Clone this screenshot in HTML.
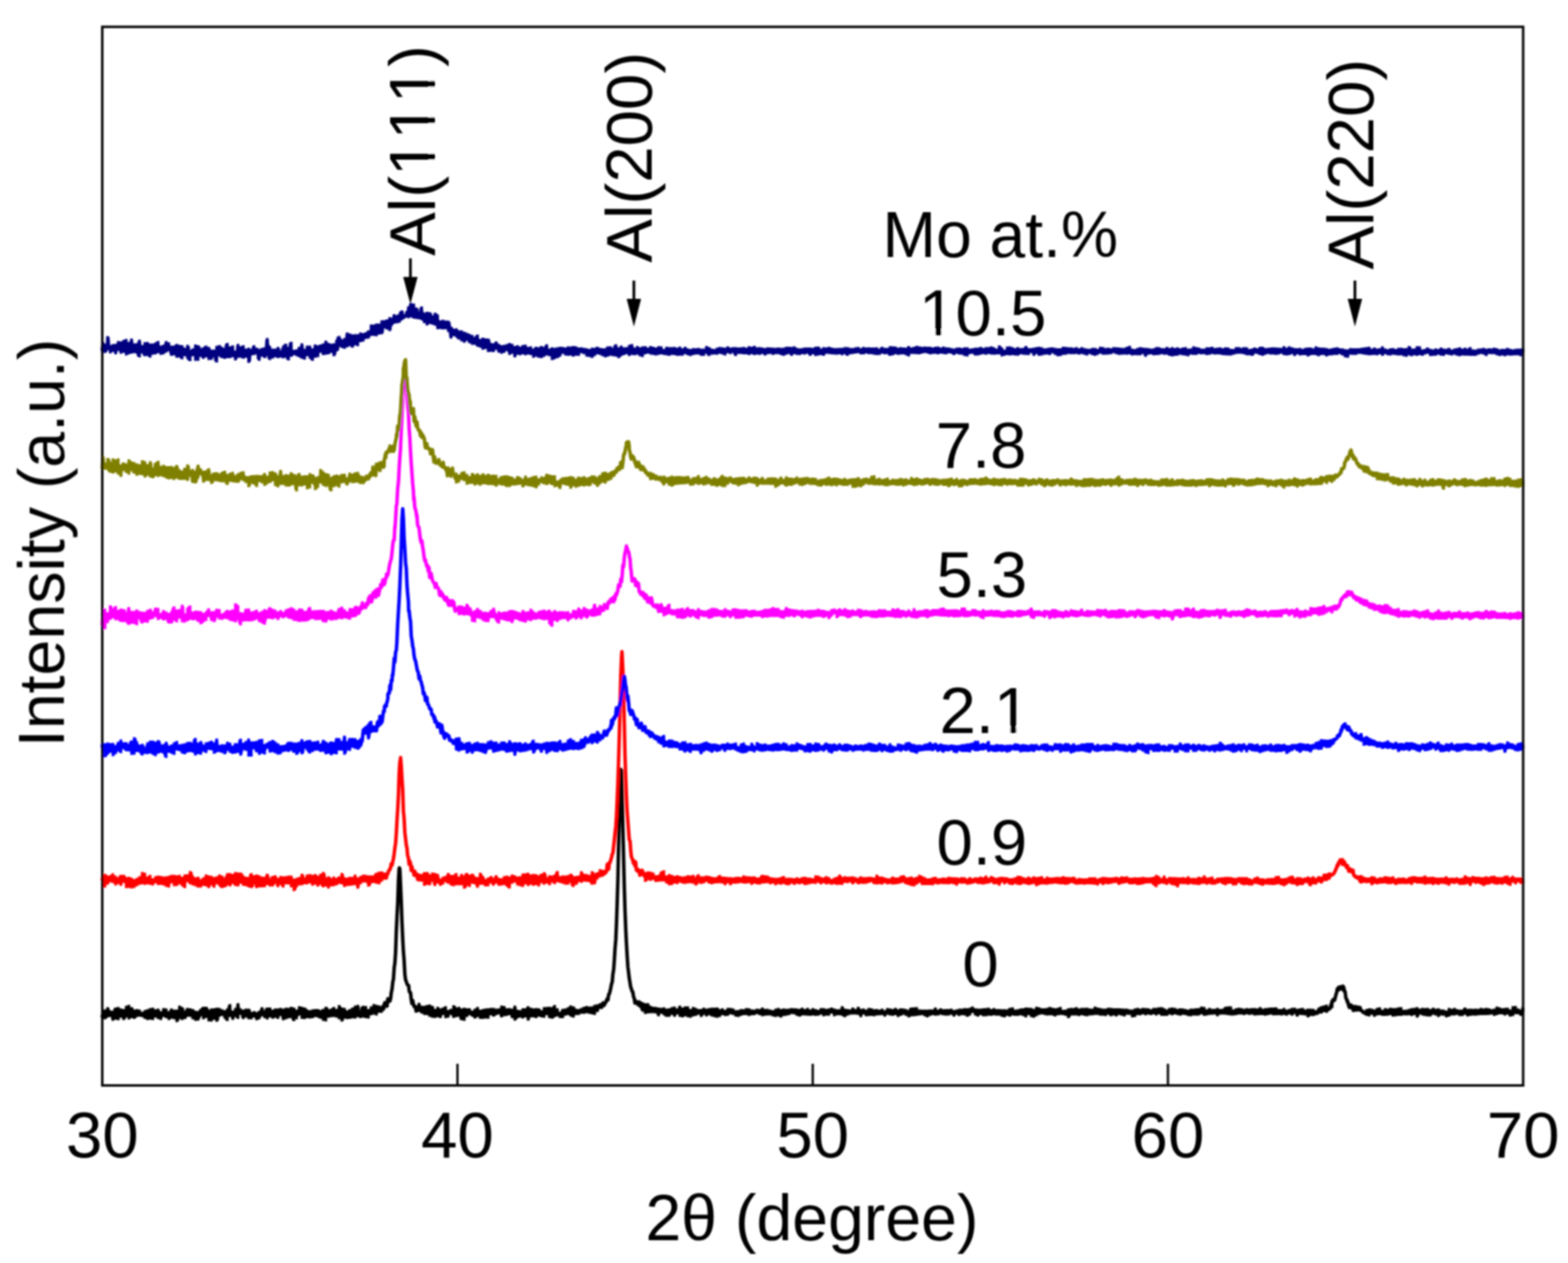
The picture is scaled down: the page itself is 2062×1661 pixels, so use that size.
<!DOCTYPE html>
<html><head><meta charset="utf-8"><title>XRD patterns</title>
<style>html,body{margin:0;padding:0;background:#fff;overflow:hidden}svg{display:block}</style>
</head><body>
<svg width="2062" height="1661" viewBox="0 0 2062 1661"><defs><filter id="bl" filterUnits="userSpaceOnUse" x="0" y="0" width="2062" height="1661"><feGaussianBlur stdDeviation="0.8"/></filter></defs><rect width="2062" height="1661" fill="#fff"/><g filter="url(#bl)"><g fill="none" stroke-width="3.55" stroke-linecap="butt"><path stroke="#000000" stroke-width="4.6" stroke-linejoin="round" stroke-linecap="round" d="M134.5,1336.7 135.4,1333.0 136.4,1335.5 137.3,1335.3 138.2,1330.6 139.2,1337.5 140.1,1333.4 141.0,1330.7 142.0,1327.5 142.9,1330.7 143.8,1334.5 144.8,1333.0 145.7,1332.7 146.6,1333.6 147.6,1332.2 148.5,1339.4 149.4,1333.8 150.4,1336.9 151.3,1328.0 152.2,1335.6 153.2,1336.7 154.1,1338.7 155.0,1327.2 156.0,1331.5 156.9,1332.1 157.8,1335.4 158.8,1332.2 159.7,1332.1 160.7,1329.3 161.6,1336.4 162.5,1335.6 163.5,1338.5 164.4,1330.3 165.3,1334.9 166.3,1332.7 167.2,1327.5 168.1,1324.5 169.1,1325.6 170.0,1337.7 170.9,1329.7 171.9,1334.8 172.8,1336.1 173.7,1327.5 174.7,1334.8 175.6,1336.4 176.5,1330.7 177.5,1337.1 178.4,1334.0 179.3,1331.0 180.3,1333.0 181.2,1330.1 182.1,1331.3 183.1,1332.7 184.0,1333.4 184.9,1334.0 185.9,1334.1 186.8,1333.6 187.7,1334.7 188.7,1333.6 189.6,1333.7 190.5,1336.7 191.5,1336.9 192.4,1330.2 193.3,1332.9 194.3,1338.4 195.2,1336.8 196.1,1333.2 197.1,1335.2 198.0,1328.7 198.9,1337.8 199.9,1338.5 200.8,1328.3 201.7,1332.7 202.7,1334.4 203.6,1333.5 204.5,1330.8 205.5,1335.2 206.4,1329.4 207.4,1335.8 208.3,1337.2 209.2,1330.9 210.2,1336.7 211.1,1338.5 212.0,1336.5 213.0,1335.3 213.9,1331.6 214.8,1332.1 215.8,1334.1 216.7,1328.8 217.6,1336.0 218.6,1335.7 219.5,1332.7 220.4,1336.8 221.4,1332.8 222.3,1332.9 223.2,1338.4 224.2,1333.7 225.1,1329.3 226.0,1334.8 227.0,1336.4 227.9,1331.3 228.8,1337.5 229.8,1334.6 230.7,1330.7 231.6,1331.9 232.6,1332.8 233.5,1341.3 234.4,1330.2 235.4,1333.5 236.3,1329.8 237.2,1325.4 238.2,1338.4 239.1,1336.0 240.0,1327.4 241.0,1335.2 241.9,1336.3 242.8,1333.3 243.8,1337.3 244.7,1333.7 245.6,1329.0 246.6,1328.4 247.5,1332.2 248.4,1334.3 249.4,1329.8 250.3,1333.1 251.2,1329.0 252.2,1335.4 253.1,1333.2 254.1,1330.1 255.0,1337.5 255.9,1337.8 256.9,1332.2 257.8,1336.9 258.7,1339.4 259.7,1335.4 260.6,1334.6 261.5,1338.0 262.5,1331.3 263.4,1329.8 264.3,1331.9 265.3,1333.6 266.2,1327.1 267.1,1332.2 268.1,1337.4 269.0,1334.4 269.9,1335.7 270.9,1330.3 271.8,1326.9 272.7,1331.0 273.7,1334.7 274.6,1330.7 275.5,1338.9 276.5,1340.6 277.4,1337.4 278.3,1338.0 279.3,1329.3 280.2,1334.9 281.1,1338.3 282.1,1334.4 283.0,1329.1 283.9,1328.3 284.9,1331.9 285.8,1340.8 286.7,1334.1 287.7,1328.4 288.6,1330.6 289.5,1331.2 290.5,1332.2 291.4,1330.2 292.3,1333.3 293.3,1331.6 294.2,1331.4 295.1,1331.5 296.1,1333.4 297.0,1335.3 297.9,1339.8 298.9,1329.3 299.8,1330.2 300.8,1333.8 301.7,1323.6 302.6,1334.6 303.6,1333.8 304.5,1334.0 305.4,1336.1 306.4,1338.3 307.3,1331.9 308.2,1334.0 309.2,1332.3 310.1,1328.6 311.0,1333.2 312.0,1337.0 312.9,1322.3 313.8,1332.8 314.8,1330.3 315.7,1331.5 316.6,1329.2 317.6,1331.2 318.5,1330.9 319.4,1337.3 320.4,1334.5 321.3,1334.9 322.2,1329.4 323.2,1332.8 324.1,1333.2 325.0,1335.3 326.0,1331.8 326.9,1333.5 327.8,1329.5 328.8,1337.6 329.7,1334.0 330.6,1335.6 331.6,1336.2 332.5,1334.6 333.4,1334.0 334.4,1334.6 335.3,1332.7 336.2,1336.5 337.2,1338.1 338.1,1335.0 339.0,1338.8 340.0,1332.3 340.9,1333.9 341.8,1335.9 342.8,1332.0 343.7,1329.9 344.6,1327.4 345.6,1332.1 346.5,1334.2 347.5,1334.7 348.4,1332.7 349.3,1336.0 350.3,1328.0 351.2,1337.8 352.1,1331.3 353.1,1334.6 354.0,1335.1 354.9,1328.0 355.9,1334.5 356.8,1334.7 357.7,1334.2 358.7,1331.0 359.6,1336.7 360.5,1329.6 361.5,1335.5 362.4,1333.5 363.3,1329.3 364.3,1329.4 365.2,1336.9 366.1,1331.8 367.1,1330.9 368.0,1328.4 368.9,1333.3 369.9,1331.9 370.8,1329.4 371.7,1334.1 372.7,1338.8 373.6,1337.8 374.5,1335.3 375.5,1337.5 376.4,1328.9 377.3,1328.2 378.3,1328.6 379.2,1336.3 380.1,1335.9 381.1,1329.4 382.0,1333.5 382.9,1326.9 383.9,1335.7 384.8,1328.1 385.7,1340.0 386.7,1330.2 387.6,1329.2 388.5,1337.5 389.5,1334.5 390.4,1331.0 391.3,1334.5 392.3,1329.7 393.2,1330.1 394.2,1326.2 395.1,1329.1 396.0,1327.1 397.0,1331.5 397.9,1332.9 398.8,1337.2 399.8,1332.8 400.7,1334.3 401.6,1328.1 402.6,1335.9 403.5,1330.7 404.4,1330.9 405.4,1334.7 406.3,1333.4 407.2,1336.4 408.2,1334.1 409.1,1331.4 410.0,1332.2 411.0,1335.1 411.9,1336.1 412.8,1330.1 413.8,1331.7 414.7,1334.6 415.6,1332.3 416.6,1330.7 417.5,1334.9 418.4,1329.9 419.4,1334.3 420.3,1336.8 421.2,1333.1 422.2,1331.2 423.1,1336.7 424.0,1333.8 425.0,1329.7 425.9,1331.6 426.8,1340.3 427.8,1330.3 428.7,1333.0 429.6,1326.9 430.6,1332.5 431.5,1333.5 432.4,1335.5 433.4,1330.3 434.3,1332.0 435.2,1334.0 436.2,1334.7 437.1,1330.0 438.0,1327.3 439.0,1334.5 439.9,1331.0 440.9,1331.1 441.8,1329.7 442.7,1335.3 443.7,1333.7 444.6,1334.1 445.5,1335.9 446.5,1324.7 447.4,1337.5 448.3,1332.6 449.3,1335.6 450.2,1340.5 451.1,1328.1 452.1,1331.9 453.0,1330.2 453.9,1330.3 454.9,1337.2 455.8,1335.7 456.7,1331.7 457.7,1332.9 458.6,1336.1 459.5,1337.0 460.5,1330.0 461.4,1332.9 462.3,1336.2 463.3,1331.6 464.2,1331.5 465.1,1327.9 466.1,1336.5 467.0,1330.5 467.9,1325.6 468.9,1333.6 469.8,1334.7 470.7,1324.4 471.7,1333.8 472.6,1331.7 473.5,1332.4 474.5,1332.5 475.4,1335.9 476.3,1325.7 477.3,1332.2 478.2,1335.3 479.1,1325.7 480.1,1329.8 481.0,1330.0 481.9,1335.9 482.9,1330.5 483.8,1336.5 484.7,1330.1 485.7,1330.6 486.6,1332.3 487.6,1330.9 488.5,1326.6 489.4,1331.9 490.4,1329.8 491.3,1330.5 492.2,1328.5 493.2,1323.6 494.1,1332.4 495.0,1327.2 496.0,1325.0 496.9,1328.2 497.8,1328.0 498.8,1325.2 499.7,1329.1 500.0,1325.7 500.6,1328.7 501.6,1329.8 502.5,1326.5 503.4,1323.8 504.4,1327.0 505.3,1320.6 506.2,1318.6 507.2,1322.8 508.1,1318.8 509.0,1323.3 510.0,1313.6 510.9,1315.2 511.8,1315.3 512.8,1316.5 513.7,1313.0 514.6,1305.3 515.6,1300.6 516.5,1291.8 517.4,1287.8 518.4,1272.5 519.3,1266.6 520.2,1253.0 521.2,1224.2 522.1,1204.8 523.0,1188.3 524.0,1158.0 524.9,1142.1 525.3,1141.4 525.8,1143.2 526.8,1165.3 527.7,1186.7 528.6,1212.6 529.6,1234.5 530.5,1251.5 531.4,1262.4 532.4,1281.1 533.3,1288.2 534.3,1291.0 535.2,1293.7 536.1,1295.5 537.1,1295.7 537.5,1296.6 538.0,1302.6 538.9,1305.4 539.9,1305.6 540.8,1314.4 541.7,1319.8 542.7,1315.8 543.6,1320.2 544.5,1323.7 545.5,1323.2 546.4,1325.5 547.3,1329.7 548.3,1324.7 549.2,1328.1 550.1,1327.0 551.1,1321.7 552.0,1327.8 552.9,1326.5 553.9,1328.4 554.8,1325.7 555.7,1329.9 556.7,1325.8 557.6,1329.9 558.5,1331.8 559.5,1330.6 560.0,1324.7 560.4,1332.0 561.3,1328.5 562.3,1326.2 563.2,1329.6 564.1,1324.1 565.1,1332.0 566.0,1333.8 566.9,1334.3 567.9,1330.8 568.8,1325.8 569.7,1335.6 570.7,1333.0 571.6,1330.1 572.5,1332.6 573.5,1335.7 574.4,1332.4 575.3,1329.1 576.3,1327.0 577.2,1329.9 578.1,1330.5 579.1,1336.0 580.0,1332.3 581.0,1328.6 581.9,1328.4 582.8,1331.8 583.8,1329.7 584.7,1326.3 585.6,1330.7 586.6,1333.4 587.5,1336.1 588.4,1333.4 589.4,1333.4 590.3,1331.3 591.2,1331.6 592.2,1329.7 593.1,1331.7 594.0,1330.5 595.0,1329.5 595.9,1334.4 596.8,1335.8 597.8,1325.0 598.7,1331.4 599.6,1332.2 600.6,1332.0 601.5,1334.7 602.4,1332.5 603.4,1327.1 604.3,1329.3 605.2,1329.2 606.2,1338.8 607.1,1333.6 608.0,1334.1 609.0,1328.6 609.9,1339.5 610.8,1330.9 611.8,1328.3 612.7,1331.0 613.6,1334.5 614.6,1331.1 615.5,1328.9 616.4,1329.8 617.4,1330.2 618.3,1331.4 619.2,1332.3 620.2,1331.9 621.1,1334.1 622.0,1332.0 623.0,1334.4 623.9,1336.2 624.8,1329.6 625.8,1336.4 626.7,1332.2 627.7,1327.3 628.6,1331.9 629.5,1329.7 630.5,1335.3 631.4,1334.5 632.3,1331.2 633.3,1337.1 634.2,1334.9 635.1,1331.1 636.1,1330.0 637.0,1336.6 637.9,1332.0 638.9,1336.6 639.8,1329.2 640.7,1336.8 641.7,1332.0 642.6,1332.5 643.5,1328.9 644.5,1330.8 645.4,1328.4 646.3,1332.2 647.3,1328.5 648.2,1333.5 649.1,1333.4 650.1,1334.1 651.0,1329.6 651.9,1329.8 652.9,1331.7 653.8,1332.1 654.7,1329.6 655.7,1329.2 656.6,1330.8 657.5,1329.9 658.5,1328.0 659.4,1335.1 660.3,1325.4 661.3,1333.6 662.2,1325.9 663.1,1333.0 664.1,1332.9 665.0,1332.3 665.9,1329.1 666.9,1330.7 667.8,1332.9 668.7,1328.8 669.7,1330.2 670.6,1332.0 671.5,1331.7 672.5,1332.3 673.4,1335.2 674.4,1336.0 675.3,1329.3 676.2,1330.0 677.2,1325.4 678.1,1339.2 679.0,1334.8 680.0,1333.2 680.9,1333.3 681.8,1330.9 682.8,1332.0 683.7,1335.2 684.6,1332.4 685.6,1334.5 686.5,1332.7 687.4,1336.4 688.4,1329.8 689.3,1328.9 690.2,1329.7 691.2,1331.8 692.1,1335.0 693.0,1334.8 694.0,1326.3 694.9,1339.3 695.8,1330.6 696.8,1332.8 697.7,1332.6 698.6,1335.0 699.6,1328.3 700.5,1335.0 701.4,1329.2 702.4,1330.3 703.3,1335.2 704.2,1336.0 705.2,1328.8 706.1,1329.1 707.0,1331.4 708.0,1334.1 708.9,1329.0 709.8,1331.7 710.8,1332.2 711.7,1331.5 712.6,1332.0 713.6,1334.9 714.5,1335.6 715.4,1333.9 716.4,1331.8 717.3,1327.3 718.2,1332.0 719.2,1331.8 720.1,1328.1 721.1,1331.9 722.0,1331.8 722.9,1336.0 723.9,1326.9 724.8,1329.0 725.7,1334.4 726.7,1332.9 727.6,1336.7 728.5,1324.7 729.5,1332.4 730.4,1329.6 731.3,1328.9 732.3,1330.4 733.2,1332.7 734.1,1333.1 735.1,1334.0 736.0,1333.9 736.9,1336.0 737.9,1333.5 738.8,1335.9 739.7,1329.8 740.7,1331.9 741.6,1333.4 742.5,1329.3 743.5,1331.2 744.4,1330.8 745.3,1331.5 746.3,1328.6 747.2,1331.9 748.1,1329.1 749.1,1327.1 750.0,1325.3 750.9,1332.9 751.9,1333.0 752.8,1335.3 753.7,1333.0 754.7,1326.6 755.6,1329.9 756.5,1332.1 757.5,1329.8 758.4,1332.1 759.3,1330.4 760.3,1329.9 761.2,1331.7 762.1,1330.9 763.1,1329.6 764.0,1330.3 764.9,1330.3 765.9,1328.4 766.8,1329.9 767.8,1328.4 768.7,1326.9 769.6,1330.3 770.6,1325.9 771.5,1329.1 772.4,1328.3 773.4,1326.8 774.3,1328.1 775.2,1330.2 776.2,1330.2 777.1,1326.5 778.0,1326.8 779.0,1330.3 779.9,1327.6 780.0,1330.5 780.8,1331.8 781.8,1326.9 782.7,1324.4 783.6,1327.9 784.6,1323.7 785.5,1328.1 786.4,1325.1 787.4,1325.0 788.3,1323.2 789.2,1321.5 790.2,1322.3 791.1,1324.9 792.0,1321.2 793.0,1318.8 793.9,1322.4 794.8,1321.5 795.8,1319.2 796.7,1318.2 797.6,1315.3 798.6,1313.5 799.5,1315.1 800.4,1307.8 801.4,1307.0 802.3,1303.4 803.2,1299.2 804.2,1293.8 805.1,1291.6 806.0,1281.1 807.0,1275.1 807.9,1262.6 808.8,1247.4 809.8,1235.9 810.7,1214.8 811.6,1188.0 812.6,1155.2 813.5,1110.2 814.5,1069.8 815.4,1033.2 816.3,1018.4 816.6,1011.8 817.3,1013.4 818.2,1048.5 819.1,1089.0 820.1,1130.3 821.0,1166.9 821.9,1196.5 822.9,1222.3 823.8,1240.7 824.7,1256.2 825.7,1271.5 826.6,1278.6 827.5,1286.5 828.5,1292.3 829.4,1298.1 830.3,1300.3 831.3,1303.9 832.2,1304.7 833.1,1310.6 834.1,1313.2 835.0,1319.2 835.9,1316.4 836.9,1317.3 837.8,1317.9 838.7,1320.8 839.7,1319.3 840.6,1317.7 841.5,1323.0 842.5,1321.8 843.4,1319.4 844.3,1326.8 845.3,1328.4 846.2,1320.7 847.1,1323.9 848.1,1326.1 849.0,1324.7 849.9,1323.8 850.0,1330.4 850.9,1322.2 851.8,1327.2 852.7,1323.2 853.7,1329.8 854.6,1325.7 855.5,1329.5 856.5,1327.1 857.4,1328.0 858.3,1327.1 859.3,1328.6 860.2,1329.6 861.2,1327.2 862.1,1328.0 863.0,1329.7 864.0,1328.0 864.9,1330.1 865.8,1333.6 866.8,1328.1 867.7,1328.9 868.6,1328.6 869.6,1328.9 870.5,1329.3 871.4,1330.6 872.4,1328.9 873.3,1327.8 874.2,1329.4 875.2,1334.3 876.1,1331.7 877.0,1330.8 878.0,1329.4 878.9,1330.6 879.8,1334.2 880.8,1328.9 881.7,1329.2 882.6,1329.9 883.6,1331.8 884.5,1329.8 885.4,1326.8 886.4,1331.1 887.3,1334.3 888.2,1332.4 889.2,1329.3 890.1,1331.1 891.0,1330.4 892.0,1329.6 892.9,1330.8 893.8,1325.5 894.8,1334.2 895.7,1327.9 896.6,1335.0 897.6,1327.9 898.5,1334.9 899.4,1332.3 900.4,1333.4 901.3,1326.4 902.2,1331.0 903.2,1327.0 904.1,1326.6 905.0,1334.8 906.0,1331.1 906.9,1335.6 907.9,1329.9 908.8,1331.1 909.7,1333.9 910.7,1330.7 911.6,1330.1 912.5,1327.2 913.5,1330.4 914.4,1328.4 915.3,1333.1 916.3,1329.9 917.2,1331.4 918.1,1331.6 919.1,1330.6 920.0,1330.1 920.9,1329.9 921.9,1332.3 922.8,1334.4 923.7,1331.7 924.7,1328.3 925.6,1328.2 926.5,1330.1 927.5,1329.5 928.4,1330.6 929.3,1333.8 930.3,1332.3 931.2,1332.1 932.1,1331.3 933.1,1328.8 934.0,1331.8 934.9,1331.5 935.9,1333.8 936.8,1329.3 937.7,1328.2 938.7,1331.1 939.6,1330.6 940.5,1332.3 941.5,1335.4 942.4,1330.9 943.3,1330.6 944.3,1328.1 945.2,1334.5 946.1,1330.9 947.1,1330.8 948.0,1333.1 948.9,1329.0 949.9,1331.2 950.8,1330.2 951.7,1331.6 952.7,1330.9 953.6,1333.2 954.6,1333.1 955.5,1332.8 956.4,1332.8 957.4,1329.8 958.3,1328.5 959.2,1330.9 960.2,1328.5 961.1,1330.0 962.0,1329.0 963.0,1330.4 963.9,1331.6 964.8,1330.1 965.8,1331.7 966.7,1332.5 967.6,1331.6 968.6,1332.0 969.5,1334.6 970.4,1331.8 971.4,1332.9 972.3,1331.2 973.2,1332.9 974.2,1332.7 975.1,1330.9 976.0,1330.1 977.0,1330.6 977.9,1330.2 978.8,1332.0 979.8,1331.2 980.7,1332.0 981.6,1328.8 982.6,1331.5 983.5,1329.0 984.4,1333.2 985.4,1331.4 986.3,1330.5 987.2,1331.2 988.2,1330.9 989.1,1330.5 990.0,1332.2 991.0,1331.2 991.9,1331.7 992.8,1331.0 993.8,1330.8 994.7,1330.0 995.6,1329.5 996.6,1329.7 997.5,1330.2 998.4,1331.0 999.4,1330.0 1000.3,1331.9 1001.3,1329.8 1002.2,1328.1 1003.1,1332.5 1004.1,1333.4 1005.0,1330.2 1005.9,1332.6 1006.9,1329.9 1007.8,1329.8 1008.7,1330.5 1009.7,1332.6 1010.6,1330.8 1011.5,1330.8 1012.5,1331.2 1013.4,1331.6 1014.3,1332.4 1015.3,1331.6 1016.2,1332.4 1017.1,1333.7 1018.1,1333.7 1019.0,1334.4 1019.9,1331.4 1020.9,1333.4 1021.8,1329.3 1022.7,1332.5 1023.7,1328.5 1024.6,1329.8 1025.5,1335.2 1026.5,1332.3 1027.4,1330.1 1028.3,1331.9 1029.3,1330.7 1030.2,1333.2 1031.1,1329.2 1032.1,1333.3 1033.0,1329.8 1033.9,1331.4 1034.9,1332.1 1035.8,1330.7 1036.7,1331.2 1037.7,1331.9 1038.6,1331.4 1039.5,1328.7 1040.5,1329.9 1041.4,1329.8 1042.3,1330.5 1043.3,1329.1 1044.2,1330.8 1045.1,1331.1 1046.1,1329.8 1047.0,1331.4 1048.0,1329.3 1048.9,1329.9 1049.8,1333.4 1050.8,1332.2 1051.7,1330.9 1052.6,1334.0 1053.6,1328.2 1054.5,1330.7 1055.4,1330.7 1056.4,1332.3 1057.3,1330.0 1058.2,1332.5 1059.2,1331.0 1060.1,1330.2 1061.0,1331.3 1062.0,1328.5 1062.9,1331.1 1063.8,1333.0 1064.8,1330.5 1065.7,1330.8 1066.6,1331.1 1067.6,1331.4 1068.5,1332.4 1069.4,1328.8 1070.4,1329.5 1071.3,1330.5 1072.2,1332.9 1073.2,1332.1 1074.1,1333.0 1075.0,1331.3 1076.0,1332.3 1076.9,1332.6 1077.8,1330.9 1078.8,1331.2 1079.7,1329.8 1080.6,1328.7 1081.6,1328.7 1082.5,1330.5 1083.4,1333.5 1084.4,1331.3 1085.3,1332.8 1086.2,1332.5 1087.2,1329.8 1088.1,1331.5 1089.0,1332.7 1090.0,1331.3 1090.9,1331.3 1091.8,1328.9 1092.8,1330.0 1093.7,1328.1 1094.7,1329.8 1095.6,1329.3 1096.5,1331.3 1097.5,1331.6 1098.4,1333.4 1099.3,1330.3 1100.3,1331.7 1101.2,1331.2 1102.1,1332.0 1103.1,1330.2 1104.0,1332.3 1104.9,1331.0 1105.9,1332.0 1106.8,1332.0 1107.7,1326.2 1108.7,1329.3 1109.6,1334.8 1110.5,1330.4 1111.5,1329.4 1112.4,1333.7 1113.3,1330.1 1114.3,1332.7 1115.2,1332.2 1116.1,1331.6 1117.1,1331.1 1118.0,1330.6 1118.9,1330.8 1119.9,1330.9 1120.8,1329.5 1121.7,1327.9 1122.7,1331.3 1123.6,1330.1 1124.5,1330.7 1125.5,1331.1 1126.4,1331.2 1127.3,1331.1 1128.3,1328.5 1129.2,1327.1 1130.1,1331.8 1131.1,1329.9 1132.0,1334.8 1132.9,1332.3 1133.9,1330.5 1134.8,1330.2 1135.7,1329.2 1136.7,1331.0 1137.6,1330.8 1138.5,1333.2 1139.5,1331.2 1140.4,1333.6 1141.4,1332.6 1142.3,1329.6 1143.2,1331.5 1144.2,1328.6 1145.1,1333.0 1146.0,1330.8 1147.0,1331.2 1147.9,1330.9 1148.8,1333.5 1149.8,1333.0 1150.7,1330.6 1151.6,1330.0 1152.6,1331.5 1153.5,1330.9 1154.4,1332.4 1155.4,1331.7 1156.3,1332.0 1157.2,1331.0 1158.2,1330.7 1159.1,1330.5 1160.0,1329.4 1161.0,1331.5 1161.9,1332.1 1162.8,1332.1 1163.8,1333.9 1164.7,1332.1 1165.6,1331.2 1166.6,1330.2 1167.5,1328.8 1168.4,1328.8 1169.4,1330.1 1170.3,1332.5 1171.2,1329.2 1172.2,1329.7 1173.1,1332.4 1174.0,1332.9 1175.0,1331.7 1175.9,1332.0 1176.8,1328.6 1177.8,1331.7 1178.7,1328.6 1179.6,1332.7 1180.6,1331.7 1181.5,1334.4 1182.4,1332.0 1183.4,1328.9 1184.3,1329.1 1185.2,1333.1 1186.2,1331.4 1187.1,1330.5 1188.1,1331.4 1189.0,1329.3 1189.9,1330.9 1190.9,1330.1 1191.8,1330.2 1192.7,1333.0 1193.7,1331.8 1194.6,1333.0 1195.5,1331.6 1196.5,1335.0 1197.4,1327.9 1198.3,1330.8 1199.3,1333.5 1200.2,1331.7 1201.1,1333.5 1202.1,1331.1 1203.0,1328.9 1203.9,1327.4 1204.9,1332.9 1205.8,1331.3 1206.7,1332.4 1207.7,1332.6 1208.6,1330.7 1209.5,1330.4 1210.5,1331.7 1211.4,1332.0 1212.3,1331.6 1213.3,1330.7 1214.2,1330.9 1215.1,1330.8 1216.1,1331.0 1217.0,1333.4 1217.9,1330.9 1218.9,1335.1 1219.8,1330.7 1220.7,1334.1 1221.7,1332.7 1222.6,1330.4 1223.5,1331.8 1224.5,1332.1 1225.4,1331.7 1226.3,1331.3 1227.3,1330.8 1228.2,1330.5 1229.1,1329.5 1230.1,1328.1 1231.0,1332.8 1231.9,1332.4 1232.9,1331.4 1233.8,1332.3 1234.8,1330.7 1235.7,1331.0 1236.6,1329.1 1237.6,1331.4 1238.5,1329.6 1239.4,1332.2 1240.4,1332.1 1241.3,1330.9 1242.2,1331.3 1243.2,1332.7 1244.1,1330.9 1245.0,1330.0 1246.0,1332.4 1246.9,1331.8 1247.8,1330.1 1248.8,1331.3 1249.7,1329.5 1250.6,1330.0 1251.6,1331.6 1252.5,1331.0 1253.4,1331.8 1254.4,1334.1 1255.3,1331.3 1256.2,1331.4 1257.2,1331.5 1258.1,1331.5 1259.0,1330.5 1260.0,1331.8 1260.9,1333.3 1261.8,1332.7 1262.8,1329.5 1263.7,1331.4 1264.6,1329.5 1265.6,1329.9 1266.5,1331.9 1267.4,1331.2 1268.4,1332.4 1269.3,1328.7 1270.2,1331.8 1271.2,1329.1 1272.1,1329.7 1273.0,1334.3 1274.0,1331.8 1274.9,1329.6 1275.8,1331.2 1276.8,1330.4 1277.7,1326.7 1278.6,1328.8 1279.6,1328.8 1280.5,1329.1 1281.5,1329.0 1282.4,1331.6 1283.3,1332.6 1284.3,1331.2 1285.2,1334.1 1286.1,1331.5 1287.1,1329.5 1288.0,1329.6 1288.9,1330.0 1289.9,1332.1 1290.8,1329.8 1291.7,1332.6 1292.7,1333.6 1293.6,1329.0 1294.5,1329.8 1295.5,1328.8 1296.4,1330.8 1297.3,1333.5 1298.3,1332.7 1299.2,1330.1 1300.0,1330.2 1300.1,1328.2 1301.1,1331.9 1302.0,1330.0 1302.9,1331.1 1303.9,1331.0 1304.8,1332.9 1305.7,1330.9 1306.7,1332.2 1307.6,1328.8 1308.5,1332.0 1309.5,1331.8 1310.4,1330.0 1311.3,1331.0 1312.3,1332.8 1313.2,1331.7 1314.1,1330.0 1315.1,1331.4 1316.0,1330.3 1316.9,1330.4 1317.9,1334.3 1318.8,1332.8 1319.7,1334.9 1320.7,1330.8 1321.6,1330.5 1322.5,1330.2 1323.5,1331.2 1324.4,1332.9 1325.3,1331.7 1326.3,1330.6 1327.2,1328.6 1328.2,1333.9 1329.1,1329.9 1330.0,1331.5 1331.0,1327.7 1331.9,1329.6 1332.8,1332.2 1333.8,1333.0 1334.7,1332.1 1335.6,1330.7 1336.6,1333.0 1337.5,1330.5 1338.4,1333.0 1339.4,1330.3 1340.3,1332.2 1341.2,1331.9 1342.2,1331.0 1343.1,1329.7 1344.0,1329.0 1345.0,1330.9 1345.9,1329.5 1346.8,1333.2 1347.8,1329.5 1348.7,1334.9 1349.6,1332.6 1350.6,1327.9 1351.5,1330.6 1352.4,1328.3 1353.4,1332.1 1354.3,1330.2 1355.2,1328.4 1356.2,1330.6 1357.1,1332.0 1358.0,1335.4 1359.0,1329.7 1359.9,1330.0 1360.8,1334.6 1361.8,1331.6 1362.7,1333.4 1363.6,1332.3 1364.6,1327.1 1365.5,1331.1 1366.4,1331.8 1367.4,1330.1 1368.3,1330.9 1369.2,1330.6 1370.2,1329.0 1371.1,1329.6 1372.0,1331.1 1373.0,1329.1 1373.9,1330.8 1374.9,1331.0 1375.8,1332.6 1376.7,1329.7 1377.7,1328.4 1378.6,1331.5 1379.5,1328.6 1380.5,1327.2 1381.4,1332.1 1382.3,1332.3 1383.3,1330.7 1384.2,1328.3 1385.1,1329.1 1386.1,1333.7 1387.0,1330.5 1387.9,1330.4 1388.9,1329.3 1389.8,1328.6 1390.7,1330.0 1391.7,1330.8 1392.6,1332.2 1393.5,1327.2 1394.5,1330.4 1395.4,1331.7 1396.3,1331.9 1397.3,1331.1 1398.2,1331.4 1399.1,1331.2 1400.1,1331.2 1401.0,1330.7 1401.9,1330.7 1402.9,1332.8 1403.8,1333.0 1404.7,1329.1 1405.7,1335.9 1406.6,1333.2 1407.5,1328.6 1408.5,1328.4 1409.4,1329.9 1410.3,1332.5 1411.3,1329.9 1412.2,1328.7 1413.1,1331.2 1414.1,1327.5 1415.0,1332.5 1415.9,1332.1 1416.9,1332.0 1417.8,1331.0 1418.7,1332.3 1419.7,1333.2 1420.6,1329.3 1421.6,1328.6 1422.5,1331.4 1423.4,1332.0 1424.4,1331.2 1425.3,1332.9 1426.2,1328.4 1427.2,1330.2 1428.1,1333.5 1429.0,1331.2 1430.0,1328.2 1430.9,1332.1 1431.8,1330.2 1432.8,1330.4 1433.7,1329.2 1434.6,1332.6 1435.6,1329.4 1436.5,1331.2 1437.4,1332.1 1438.4,1331.6 1439.3,1331.5 1440.2,1326.8 1441.2,1331.5 1442.1,1331.8 1443.0,1328.0 1444.0,1328.7 1444.9,1330.1 1445.8,1328.8 1446.8,1329.3 1447.7,1332.7 1448.6,1332.1 1449.6,1331.3 1450.5,1329.8 1451.4,1329.6 1452.4,1333.2 1453.3,1331.7 1454.2,1329.4 1455.2,1330.6 1456.1,1330.4 1457.0,1328.3 1458.0,1330.6 1458.9,1330.1 1459.8,1333.4 1460.8,1331.3 1461.7,1332.9 1462.6,1328.6 1463.6,1331.0 1464.5,1332.4 1465.4,1330.6 1466.4,1332.5 1467.3,1329.0 1468.3,1333.7 1469.2,1332.1 1470.1,1331.3 1471.1,1329.0 1472.0,1331.8 1472.9,1330.8 1473.9,1329.2 1474.8,1332.7 1475.7,1331.3 1476.7,1331.2 1477.6,1331.5 1478.5,1333.7 1479.5,1330.0 1480.4,1329.5 1481.3,1330.4 1482.3,1330.7 1483.2,1331.6 1484.1,1331.1 1485.1,1330.4 1486.0,1331.7 1486.9,1331.4 1487.9,1330.9 1488.8,1330.8 1489.7,1331.6 1490.7,1334.9 1491.6,1331.3 1492.5,1329.6 1493.5,1331.5 1494.4,1328.9 1495.3,1332.1 1496.3,1328.5 1497.2,1330.7 1498.1,1329.4 1499.1,1332.3 1500.0,1331.8 1500.9,1331.2 1501.9,1330.3 1502.8,1328.4 1503.7,1329.2 1504.7,1330.5 1505.6,1330.6 1506.5,1332.2 1507.5,1328.8 1508.4,1329.9 1509.3,1329.0 1510.3,1331.2 1511.2,1330.1 1512.1,1332.1 1513.1,1331.9 1514.0,1330.2 1515.0,1331.5 1515.9,1329.8 1516.8,1330.3 1517.8,1329.6 1518.7,1328.4 1519.6,1331.0 1520.6,1332.4 1521.5,1330.5 1522.4,1329.7 1523.4,1331.0 1524.3,1329.2 1525.2,1327.8 1526.2,1332.1 1527.1,1331.6 1528.0,1332.9 1529.0,1327.6 1529.9,1331.8 1530.8,1329.5 1531.8,1331.5 1532.7,1333.1 1533.6,1332.5 1534.6,1331.6 1535.5,1332.0 1536.4,1330.0 1537.4,1331.3 1538.3,1330.5 1539.2,1328.5 1540.2,1331.1 1541.1,1328.1 1542.0,1332.2 1543.0,1331.1 1543.9,1330.3 1544.8,1328.5 1545.8,1330.6 1546.7,1330.3 1547.6,1331.9 1548.6,1331.6 1549.5,1331.8 1550.4,1329.3 1551.4,1330.9 1552.3,1328.9 1553.2,1332.7 1554.2,1330.7 1555.1,1329.8 1556.0,1330.1 1557.0,1329.2 1557.9,1331.9 1558.8,1331.3 1559.8,1331.2 1560.7,1330.7 1561.7,1331.0 1562.6,1331.4 1563.5,1332.7 1564.5,1333.5 1565.4,1331.3 1566.3,1329.4 1567.3,1330.0 1568.2,1329.5 1569.1,1332.0 1570.1,1330.9 1571.0,1332.6 1571.9,1329.1 1572.9,1331.0 1573.8,1331.1 1574.7,1332.7 1575.7,1328.7 1576.6,1331.8 1577.5,1331.7 1578.5,1328.2 1579.4,1330.2 1580.3,1326.8 1581.3,1331.0 1582.2,1327.3 1583.1,1330.3 1584.1,1333.0 1585.0,1332.7 1585.9,1332.1 1586.9,1332.0 1587.8,1331.6 1588.7,1330.3 1589.7,1331.3 1590.6,1328.4 1591.5,1331.7 1592.5,1331.5 1593.4,1330.4 1594.3,1329.8 1595.3,1330.3 1596.2,1330.1 1597.1,1329.7 1598.1,1329.7 1599.0,1331.2 1599.9,1330.6 1600.9,1333.5 1601.8,1328.6 1602.7,1330.4 1603.7,1331.5 1604.6,1330.8 1605.5,1330.0 1606.5,1330.5 1607.4,1330.4 1608.4,1331.2 1609.3,1329.5 1610.2,1331.4 1611.2,1327.0 1612.1,1330.2 1613.0,1331.2 1614.0,1329.7 1614.9,1331.9 1615.8,1331.2 1616.8,1326.4 1617.7,1331.2 1618.6,1332.5 1619.6,1332.1 1620.5,1330.4 1621.4,1332.5 1622.4,1332.3 1623.3,1330.8 1624.2,1332.0 1625.2,1329.1 1626.1,1330.7 1627.0,1330.8 1628.0,1331.3 1628.9,1328.2 1629.8,1330.3 1630.8,1329.4 1631.7,1330.1 1632.6,1331.3 1633.6,1328.8 1634.5,1331.1 1635.4,1329.7 1636.4,1332.0 1637.3,1329.8 1638.2,1330.4 1639.2,1329.8 1640.1,1328.8 1641.0,1330.6 1642.0,1331.8 1642.9,1331.3 1643.8,1329.2 1644.8,1331.3 1645.7,1328.8 1646.6,1329.5 1647.6,1329.3 1648.5,1329.9 1649.4,1332.6 1650.4,1329.2 1651.3,1328.7 1652.2,1330.0 1653.2,1330.8 1654.1,1331.9 1655.1,1332.2 1656.0,1330.7 1656.9,1329.1 1657.9,1327.5 1658.8,1331.9 1659.7,1330.4 1660.7,1329.7 1661.6,1330.0 1662.5,1332.8 1663.5,1328.8 1664.4,1330.8 1665.3,1329.6 1666.3,1332.0 1667.2,1330.7 1668.1,1328.5 1669.1,1330.9 1670.0,1327.9 1670.9,1331.3 1671.9,1331.0 1672.8,1329.9 1673.7,1329.0 1674.7,1332.3 1675.6,1328.7 1676.5,1327.8 1677.5,1332.2 1678.4,1329.4 1679.3,1328.6 1680.3,1331.5 1681.2,1331.6 1682.1,1332.0 1683.1,1330.9 1684.0,1331.4 1684.9,1332.6 1685.9,1330.1 1686.8,1329.9 1687.7,1328.9 1688.7,1328.6 1689.6,1329.4 1690.5,1332.8 1691.5,1330.8 1692.4,1330.9 1693.3,1331.9 1694.3,1330.5 1695.2,1330.9 1696.1,1330.7 1697.1,1329.8 1698.0,1331.4 1698.9,1331.2 1699.9,1332.8 1700.8,1328.3 1701.8,1329.8 1702.7,1329.5 1703.6,1329.9 1704.6,1329.9 1705.5,1333.9 1706.4,1330.2 1707.4,1329.7 1708.3,1331.5 1709.2,1331.6 1710.2,1331.7 1711.1,1329.0 1712.0,1328.8 1713.0,1328.4 1713.9,1332.0 1714.8,1330.5 1715.8,1331.5 1716.7,1332.4 1717.6,1332.4 1718.6,1330.8 1719.5,1329.5 1720.0,1331.9 1720.4,1329.7 1721.4,1334.9 1722.3,1330.6 1723.2,1329.8 1724.2,1332.2 1725.1,1329.5 1726.0,1331.2 1727.0,1329.8 1727.9,1333.2 1728.8,1330.6 1729.7,1333.1 1729.8,1331.2 1730.7,1331.0 1731.6,1330.5 1732.6,1332.4 1733.5,1331.7 1734.4,1327.2 1735.4,1327.7 1736.3,1327.5 1737.0,1326.2 1737.2,1328.5 1738.2,1329.9 1739.1,1328.2 1740.0,1327.0 1741.0,1325.3 1741.9,1325.8 1742.8,1328.0 1743.8,1324.2 1744.7,1329.0 1745.6,1328.3 1746.6,1327.6 1746.7,1326.3 1747.5,1326.0 1748.5,1326.8 1749.4,1325.0 1750.3,1321.2 1751.3,1324.2 1751.5,1317.1 1752.2,1317.6 1753.1,1314.6 1754.1,1314.1 1755.0,1315.3 1755.9,1312.1 1756.4,1309.9 1756.9,1308.2 1757.8,1304.7 1758.7,1300.4 1759.7,1299.5 1760.3,1302.0 1760.6,1298.2 1761.5,1299.2 1762.5,1300.0 1763.4,1297.6 1763.6,1298.5 1764.3,1299.3 1765.3,1301.1 1766.2,1296.9 1766.6,1300.7 1767.1,1298.3 1768.1,1304.2 1768.5,1303.4 1769.0,1304.9 1769.9,1312.7 1770.9,1313.9 1771.8,1317.6 1771.9,1315.9 1772.7,1318.7 1773.7,1323.1 1774.6,1325.0 1775.5,1323.8 1775.8,1322.6 1776.5,1321.6 1777.4,1325.5 1778.3,1326.2 1779.3,1324.4 1780.2,1326.3 1781.1,1327.9 1782.1,1325.5 1783.0,1325.0 1783.0,1324.8 1783.9,1326.3 1784.9,1327.3 1785.8,1325.5 1786.7,1326.1 1787.7,1326.4 1787.9,1326.8 1788.6,1325.2 1789.5,1328.7 1790.5,1329.0 1791.4,1330.3 1792.3,1330.0 1793.3,1331.8 1794.2,1331.6 1795.2,1332.0 1795.2,1332.6 1796.1,1331.5 1797.0,1331.0 1798.0,1329.9 1798.9,1333.7 1799.8,1332.6 1800.8,1331.0 1801.7,1328.9 1802.6,1331.5 1803.6,1329.5 1804.5,1330.5 1805.4,1330.6 1806.4,1330.5 1807.3,1334.2 1808.2,1331.1 1809.2,1330.6 1810.1,1332.4 1811.0,1330.9 1812.0,1331.9 1812.9,1327.7 1813.8,1331.2 1814.8,1332.1 1815.7,1330.4 1816.6,1333.0 1817.6,1331.5 1818.5,1331.7 1819.4,1331.1 1820.0,1332.0 1820.4,1331.8 1821.3,1331.2 1822.2,1328.7 1823.2,1333.1 1824.1,1329.6 1825.0,1332.6 1826.0,1331.0 1826.9,1330.9 1827.8,1328.3 1828.8,1331.1 1829.7,1330.4 1830.6,1333.1 1831.6,1333.9 1832.5,1332.8 1833.4,1328.7 1834.4,1329.5 1835.3,1331.9 1836.2,1333.4 1837.2,1328.7 1838.1,1333.1 1839.0,1329.9 1840.0,1329.9 1840.9,1327.4 1841.9,1331.0 1842.8,1331.7 1843.7,1333.0 1844.7,1331.3 1845.6,1332.2 1846.5,1331.0 1847.5,1331.0 1848.4,1331.7 1849.3,1330.7 1850.3,1332.4 1851.2,1331.3 1852.1,1331.0 1853.1,1329.8 1854.0,1331.5 1854.9,1332.5 1855.9,1330.6 1856.8,1333.3 1857.7,1329.0 1858.7,1328.5 1859.6,1330.7 1860.5,1331.9 1861.5,1331.1 1862.4,1327.9 1863.3,1327.4 1864.3,1335.3 1865.2,1330.9 1866.1,1329.5 1867.1,1329.6 1868.0,1330.0 1868.9,1331.1 1869.9,1329.2 1870.8,1328.6 1871.7,1331.9 1872.7,1333.2 1873.6,1328.8 1874.5,1331.4 1875.5,1331.8 1876.4,1332.5 1877.3,1328.4 1878.3,1330.3 1879.2,1333.8 1880.1,1330.0 1881.1,1330.7 1882.0,1332.8 1882.9,1331.1 1883.9,1330.8 1884.8,1329.9 1885.7,1328.3 1886.7,1331.0 1887.6,1329.8 1888.6,1332.6 1889.5,1330.1 1890.4,1330.5 1891.4,1329.0 1892.3,1334.5 1893.2,1330.6 1894.2,1330.6 1895.1,1331.5 1896.0,1331.4 1897.0,1332.8 1897.9,1330.7 1898.8,1332.7 1899.8,1332.7 1900.7,1332.1 1901.6,1333.0 1902.6,1331.9 1903.5,1335.0 1904.4,1331.8 1905.4,1331.1 1906.3,1328.4 1907.2,1332.3 1908.2,1332.6 1909.1,1330.0 1910.0,1329.7 1911.0,1332.4 1911.9,1330.2 1912.8,1328.4 1913.8,1328.7 1914.7,1331.7 1915.6,1331.0 1916.6,1330.9 1917.5,1330.2 1918.4,1332.1 1919.4,1332.7 1920.3,1333.3 1921.2,1331.0 1922.2,1332.4 1923.1,1333.2 1924.0,1331.8 1925.0,1330.4 1925.9,1327.9 1926.8,1331.4 1927.8,1328.9 1928.7,1330.6 1929.6,1333.7 1930.6,1331.3 1931.5,1331.7 1932.4,1331.2 1933.4,1332.9 1934.3,1329.5 1935.3,1332.6 1936.2,1332.3 1937.1,1331.4 1938.1,1329.8 1939.0,1330.5 1939.9,1331.4 1940.9,1332.7 1941.8,1329.6 1942.7,1329.9 1943.7,1330.9 1944.6,1331.2 1945.5,1332.2 1946.5,1331.0 1947.4,1331.2 1948.3,1328.6 1949.3,1329.4 1950.2,1331.4 1951.1,1329.3 1952.1,1332.0 1953.0,1328.6 1953.9,1330.5 1954.9,1329.4 1955.8,1332.0 1956.7,1331.6 1957.7,1330.8 1958.6,1328.9 1959.5,1331.3 1960.5,1331.0 1961.4,1330.4 1962.3,1330.3 1963.3,1331.2 1964.2,1329.5 1965.1,1331.0 1966.1,1333.1 1967.0,1330.2 1967.9,1332.1 1968.9,1326.7 1969.8,1328.7 1970.7,1327.7 1971.7,1328.6 1972.6,1330.2 1973.5,1330.9 1974.5,1330.5 1975.4,1328.9 1976.3,1331.0 1977.3,1329.8 1978.2,1332.5 1979.1,1330.8 1980.1,1329.5 1981.0,1328.2 1982.0,1328.5 1982.9,1329.4 1983.8,1331.3 1984.8,1330.6 1985.7,1334.0 1986.6,1332.7 1987.6,1333.3 1988.5,1333.2 1989.4,1330.9 1990.4,1328.5 1991.3,1326.1 1992.2,1328.7 1993.2,1330.8 1994.1,1329.5 1995.0,1330.9 1996.0,1330.4 1996.9,1329.2 1997.8,1330.7 1998.8,1331.4 1999.7,1333.1 2000.6,1330.9 2001.6,1332.5 2002.5,1327.6"/><path stroke="#000000" d="M135.38 1330.0V1339.7M138.00 1327.6V1340.5M141.50 1324.5V1337.9M145.00 1329.1V1337.5M148.50 1329.2V1342.4M152.00 1325.0V1340.9M155.50 1324.2V1341.7M159.00 1326.3V1338.4M162.50 1327.1V1341.5M166.00 1322.7V1337.9M169.50 1321.5V1340.7M173.00 1324.5V1339.1M176.50 1327.7V1340.1M180.00 1327.1V1337.4M183.50 1327.8V1337.0M187.00 1330.6V1337.7M190.50 1328.4V1339.9M194.00 1327.2V1341.4M197.50 1325.7V1341.0M201.00 1325.3V1341.5M204.50 1327.5V1338.2M208.00 1326.4V1340.2M211.50 1331.2V1341.5M215.00 1325.8V1337.2M218.50 1326.3V1339.0M222.00 1329.8V1341.4M225.50 1326.3V1339.4M229.00 1327.7V1340.5M232.50 1327.7V1344.3M236.00 1322.4V1336.5M239.50 1324.4V1341.4M243.00 1330.3V1340.3M246.50 1325.4V1336.9M250.00 1326.0V1337.3M253.50 1327.1V1340.6M257.00 1329.2V1342.4M260.50 1329.8V1342.3M264.00 1326.8V1336.6M267.50 1324.1V1340.4M271.00 1323.9V1338.7M274.50 1327.7V1343.2M278.00 1326.3V1343.6M281.50 1325.9V1341.3M285.00 1325.3V1343.8M288.50 1325.4V1337.0M292.00 1327.2V1336.3M295.50 1328.4V1339.4M299.00 1326.3V1342.8M302.50 1320.6V1337.6M306.00 1328.9V1341.3M309.50 1325.6V1337.2M313.00 1319.3V1340.0M316.50 1326.2V1334.5M320.00 1327.9V1340.3M323.50 1326.4V1338.3M327.00 1326.5V1340.4M330.50 1331.0V1340.6M334.00 1329.7V1338.1M337.50 1331.5V1341.8M341.00 1329.2V1340.3M344.50 1324.4V1336.6M348.00 1329.3V1339.0M351.50 1325.0V1340.8M355.00 1325.0V1338.1M358.50 1328.0V1339.7M362.00 1326.3V1338.5M365.50 1326.3V1339.9M369.00 1325.4V1336.3M372.50 1326.4V1341.8M376.00 1325.2V1340.5M379.50 1325.4V1339.3M383.00 1323.9V1338.7M386.50 1325.1V1343.0M390.00 1328.0V1340.5M393.50 1323.2V1335.5M397.00 1324.1V1339.9M400.50 1325.1V1340.2M404.00 1327.7V1338.9M407.50 1328.4V1339.4M411.00 1327.6V1339.1M414.50 1327.1V1337.6M418.00 1326.9V1338.3M421.50 1328.2V1339.8M425.00 1326.7V1342.4M428.50 1323.9V1343.3M432.00 1327.3V1338.5M435.50 1326.6V1337.7M439.00 1324.3V1337.5M442.50 1326.7V1338.3M446.00 1321.7V1340.5M449.50 1325.1V1343.5M453.00 1325.6V1339.4M456.50 1328.7V1340.2M460.00 1327.0V1340.0M463.50 1324.9V1339.2M467.00 1322.6V1339.5M470.50 1321.4V1337.7M474.00 1328.7V1338.9M477.50 1322.7V1338.3M481.00 1323.1V1338.9M484.50 1327.1V1339.5M488.00 1323.6V1335.3M491.50 1320.6V1334.2M495.00 1321.4V1335.4M498.50 1322.2V1332.1M551.00 1318.7V1331.0M554.50 1322.7V1332.9M558.00 1322.8V1334.8M561.50 1321.7V1335.0M565.00 1321.1V1337.2M568.50 1322.8V1338.6M572.00 1327.1V1338.7M575.50 1324.0V1337.7M579.00 1326.4V1339.0M582.50 1324.9V1334.8M586.00 1323.3V1339.1M589.50 1328.3V1338.3M593.00 1326.7V1334.7M596.50 1322.0V1338.8M600.00 1325.3V1337.7M603.50 1324.1V1337.1M607.00 1326.3V1341.8M610.50 1325.3V1342.5M614.00 1325.9V1337.5M617.50 1326.1V1335.3M621.00 1328.9V1337.1M624.50 1326.6V1339.4M628.00 1324.3V1337.3M631.50 1328.0V1340.1M635.00 1327.0V1340.1M638.50 1326.2V1339.6M642.00 1325.9V1339.8M645.50 1325.4V1335.2M649.00 1325.5V1337.1M652.50 1326.6V1335.1M656.00 1326.2V1333.9M659.50 1322.4V1338.1M663.00 1322.9V1336.6M666.50 1326.1V1335.9M670.00 1325.8V1335.0M673.50 1326.6V1339.0M677.00 1322.4V1342.2M680.50 1327.9V1339.1M684.00 1328.4V1338.2M687.50 1325.9V1339.4M691.00 1325.9V1338.0M694.50 1323.3V1342.3M698.00 1325.3V1338.0M701.50 1326.2V1338.0M705.00 1325.8V1339.0M708.50 1326.0V1337.1M712.00 1328.5V1338.1M715.50 1324.6V1338.6M719.00 1324.3V1335.0M722.50 1323.9V1339.0M726.00 1324.8V1339.7M729.50 1321.7V1337.6M733.00 1325.9V1336.7M736.50 1330.5V1339.0M740.00 1326.8V1338.9M743.50 1326.3V1335.7M747.00 1324.8V1334.9M750.50 1322.3V1336.9M754.00 1323.6V1338.3M757.50 1326.8V1335.1M761.00 1326.9V1334.7M764.50 1325.4V1333.3M768.00 1323.9V1333.3M771.50 1322.9V1332.6M775.00 1323.8V1333.2M778.50 1323.5V1333.9M782.00 1321.4V1334.8M785.50 1320.7V1331.1M848.50 1319.6V1333.4M852.00 1319.2V1332.8M855.50 1322.7V1332.5M859.00 1324.1V1332.6M862.50 1324.2V1332.7M866.00 1325.1V1336.6M869.50 1325.6V1333.3M873.00 1324.8V1335.1M876.50 1326.4V1337.3M880.00 1325.9V1337.2M883.50 1324.4V1334.8M887.00 1323.8V1337.3M890.50 1326.3V1334.1M894.00 1322.5V1337.2M897.50 1324.9V1338.0M901.00 1323.4V1336.4M904.50 1323.6V1337.8M908.00 1326.9V1338.6M911.50 1324.2V1336.8M915.00 1325.4V1336.1M918.50 1327.0V1334.6M922.00 1326.9V1337.4M925.50 1325.2V1334.6M929.00 1326.5V1336.8M932.50 1325.8V1335.2M936.00 1325.2V1336.8M939.50 1325.2V1337.7M943.00 1325.1V1338.4M946.50 1327.8V1337.5M950.00 1326.0V1335.0M953.50 1327.9V1336.2M957.00 1325.5V1335.9M960.50 1325.5V1333.9M964.00 1326.3V1334.7M967.50 1328.6V1336.9M971.00 1328.2V1337.6M974.50 1327.1V1335.9M978.00 1327.2V1335.0M981.50 1325.8V1335.0M985.00 1326.0V1336.2M988.50 1327.5V1335.2M992.00 1327.8V1335.0M995.50 1326.5V1333.8M999.00 1327.0V1334.9M1002.50 1325.1V1336.4M1006.00 1326.8V1335.7M1009.50 1326.8V1335.6M1013.00 1327.8V1335.4M1016.50 1328.6V1336.8M1020.00 1326.5V1337.4M1023.50 1325.5V1336.6M1027.00 1327.1V1338.2M1030.50 1326.2V1336.3M1034.00 1326.8V1335.7M1037.50 1326.6V1334.9M1041.00 1325.7V1333.5M1044.50 1326.1V1334.1M1048.00 1326.3V1336.1M1051.50 1327.1V1337.0M1055.00 1325.2V1335.3M1058.50 1327.0V1335.5M1062.00 1325.5V1335.8M1065.50 1327.5V1336.0M1069.00 1325.8V1335.4M1072.50 1326.9V1336.0M1076.00 1328.1V1335.7M1079.50 1325.7V1334.2M1083.00 1325.7V1336.5M1086.50 1326.8V1335.8M1090.00 1326.2V1335.7M1093.50 1325.1V1333.0M1097.00 1326.3V1336.4M1100.50 1327.3V1335.2M1104.00 1327.2V1335.3M1107.50 1323.2V1335.8M1111.00 1326.4V1337.8M1114.50 1327.1V1335.7M1118.00 1327.6V1334.5M1121.50 1324.9V1334.3M1125.00 1327.1V1334.2M1128.50 1324.1V1334.8M1132.00 1326.9V1337.8M1135.50 1326.2V1334.0M1139.00 1327.8V1336.6M1142.50 1325.6V1336.2M1146.00 1326.1V1336.0M1149.50 1327.2V1336.5M1153.00 1327.0V1335.4M1156.50 1327.7V1335.2M1160.00 1326.4V1335.0M1163.50 1328.6V1336.9M1167.00 1325.8V1334.6M1170.50 1326.2V1335.5M1174.00 1326.9V1335.9M1177.50 1325.6V1335.0M1181.00 1327.9V1337.4M1184.50 1325.9V1336.1M1188.00 1326.3V1334.4M1191.50 1327.1V1336.0M1195.00 1328.6V1338.0M1198.50 1324.9V1336.5M1202.00 1324.7V1336.5M1205.50 1324.4V1335.9M1209.00 1327.4V1335.6M1212.50 1327.7V1335.0M1216.00 1327.8V1336.4M1219.50 1327.7V1338.1M1223.00 1327.4V1336.3M1226.50 1327.5V1335.0M1230.00 1325.1V1335.8M1233.50 1327.7V1335.5M1237.00 1326.1V1334.4M1240.50 1327.3V1335.2M1244.00 1327.0V1335.7M1247.50 1327.1V1335.4M1251.00 1326.5V1334.6M1254.50 1328.2V1337.1M1258.00 1327.5V1334.5M1261.50 1326.5V1336.3M1265.00 1326.5V1334.9M1268.50 1325.7V1335.4M1272.00 1326.1V1337.3M1275.50 1325.5V1335.4M1279.00 1323.7V1332.1M1282.50 1326.0V1335.6M1286.00 1326.5V1337.1M1289.50 1326.6V1335.1M1293.00 1326.0V1336.6M1296.50 1325.8V1336.5M1300.00 1325.2V1335.7M1303.50 1327.0V1335.9M1307.00 1325.8V1335.2M1310.50 1327.0V1335.8M1314.00 1327.0V1335.8M1317.50 1327.3V1337.3M1321.00 1327.2V1337.9M1324.50 1327.4V1335.9M1328.00 1325.6V1336.9M1331.50 1324.7V1335.6M1335.00 1327.7V1336.0M1338.50 1327.3V1336.0M1342.00 1326.2V1335.2M1345.50 1326.0V1336.2M1349.00 1324.9V1337.9M1352.50 1325.3V1335.1M1356.00 1325.4V1337.4M1359.50 1326.7V1338.4M1363.00 1324.1V1336.4M1366.50 1324.8V1334.8M1370.00 1326.0V1333.9M1373.50 1326.1V1334.7M1377.00 1325.4V1335.6M1380.50 1324.2V1335.3M1384.00 1325.3V1335.3M1387.50 1326.0V1336.7M1391.00 1325.6V1335.2M1394.50 1324.2V1334.8M1398.00 1328.1V1334.9M1401.50 1327.7V1335.9M1405.00 1326.1V1338.9M1408.50 1325.4V1335.5M1412.00 1325.7V1335.5M1415.50 1324.5V1335.5M1419.00 1326.2V1336.2M1422.50 1325.6V1335.0M1426.00 1325.4V1335.9M1429.50 1325.2V1336.5M1433.00 1326.2V1335.6M1436.50 1326.4V1335.2M1440.00 1323.8V1334.7M1443.50 1325.0V1334.8M1447.00 1325.8V1335.7M1450.50 1326.6V1335.7M1454.00 1326.4V1336.2M1457.50 1325.3V1334.3M1461.00 1325.6V1336.4M1464.50 1325.9V1335.4M1468.00 1326.0V1336.7M1471.50 1326.0V1334.8M1475.00 1326.2V1335.7M1478.50 1326.6V1336.7M1482.00 1326.5V1334.6M1485.50 1327.4V1334.7M1489.00 1327.8V1337.9M1492.50 1326.3V1337.6M1496.00 1325.5V1335.1M1499.50 1326.4V1335.3M1503.00 1325.4V1333.9M1506.50 1325.8V1335.2M1510.00 1326.0V1334.3M1513.50 1327.2V1335.1M1517.00 1325.4V1334.0M1520.50 1325.6V1335.4M1524.00 1324.8V1334.0M1527.50 1324.6V1335.9M1531.00 1325.9V1336.1M1534.50 1327.4V1336.0M1538.00 1325.5V1334.3M1541.50 1325.1V1335.2M1545.00 1325.5V1333.9M1548.50 1326.8V1334.9M1552.00 1325.9V1335.7M1555.50 1326.2V1334.6M1559.00 1327.0V1334.9M1562.50 1327.7V1336.3M1566.00 1326.4V1336.5M1569.50 1326.5V1335.6M1573.00 1326.1V1335.7M1576.50 1325.7V1335.6M1580.00 1323.8V1334.0M1583.50 1324.3V1336.0M1587.00 1327.3V1335.5M1590.50 1325.4V1334.7M1594.00 1326.8V1334.6M1597.50 1326.7V1334.2M1601.00 1325.6V1336.5M1604.50 1327.0V1334.5M1608.00 1326.5V1334.2M1611.50 1324.0V1334.4M1615.00 1323.5V1334.9M1618.50 1323.4V1335.5M1622.00 1327.4V1335.5M1625.50 1326.1V1335.0M1629.00 1325.2V1334.3M1632.50 1325.8V1334.3M1636.00 1326.7V1335.0M1639.50 1325.8V1333.9M1643.00 1326.2V1334.8M1646.50 1325.8V1334.3M1650.00 1325.7V1335.6M1653.50 1326.3V1335.2M1657.00 1324.5V1334.9M1660.50 1326.7V1335.0M1664.00 1325.8V1335.8M1667.50 1325.5V1335.0M1671.00 1324.9V1334.3M1674.50 1325.1V1335.3M1678.00 1324.8V1335.2M1681.50 1326.9V1335.0M1685.00 1326.9V1335.6M1688.50 1325.6V1334.8M1692.00 1327.8V1335.8M1695.50 1326.8V1334.3M1699.00 1325.6V1335.8M1702.50 1325.3V1332.9M1706.00 1326.7V1336.9M1709.50 1326.0V1334.7M1713.00 1325.4V1335.0M1716.50 1327.5V1335.4M1720.00 1326.5V1337.9M1723.50 1326.5V1336.1M1727.00 1326.8V1336.2M1737.50 1323.2V1332.9M1741.00 1322.3V1331.0M1744.50 1321.2V1332.0M1779.50 1321.4V1330.9M1783.00 1321.8V1330.6M1786.50 1322.5V1330.3M1797.00 1326.9V1336.1M1800.50 1325.9V1336.7M1804.00 1326.5V1334.5M1807.50 1327.5V1337.2M1811.00 1325.4V1335.4M1814.50 1324.7V1335.1M1818.00 1328.1V1336.0M1821.50 1325.7V1336.1M1825.00 1326.6V1335.8M1828.50 1325.3V1335.0M1832.00 1325.7V1336.9M1835.50 1325.7V1336.4M1839.00 1324.8V1336.1M1842.50 1324.4V1336.0M1846.00 1328.0V1335.2M1849.50 1327.7V1335.4M1853.00 1326.8V1335.3M1856.50 1325.7V1336.3M1860.00 1325.5V1334.9M1863.50 1324.4V1338.3M1867.00 1326.5V1333.9M1870.50 1325.6V1335.6M1874.00 1325.8V1336.2M1877.50 1325.4V1336.8M1881.00 1327.0V1336.7M1884.50 1325.3V1334.5M1888.00 1326.7V1335.6M1891.50 1326.0V1337.5M1895.00 1327.6V1335.5M1898.50 1327.7V1335.8M1902.00 1328.9V1338.0M1905.50 1325.4V1337.1M1909.00 1326.7V1335.6M1912.50 1325.4V1335.4M1916.00 1327.2V1334.7M1919.50 1327.7V1336.3M1923.00 1327.7V1336.2M1926.50 1324.9V1334.4M1930.00 1326.8V1336.7M1933.50 1326.5V1335.9M1937.00 1326.8V1335.6M1940.50 1326.6V1335.7M1944.00 1326.7V1335.2M1947.50 1325.6V1334.9M1951.00 1326.3V1335.0M1954.50 1325.6V1335.0M1958.00 1325.9V1334.8M1961.50 1327.3V1334.2M1965.00 1326.5V1336.1M1968.50 1323.7V1335.1M1972.00 1324.7V1333.9M1975.50 1325.9V1334.0M1979.00 1325.6V1335.5M1982.50 1325.2V1334.3M1986.00 1327.6V1337.0M1989.50 1323.2V1336.2M1993.00 1323.1V1333.8M1996.50 1326.2V1334.0M2000.00 1327.9V1336.1M2002.38 1324.6V1334.6"/><path stroke="#FF0000" stroke-width="4.6" stroke-linejoin="round" stroke-linecap="round" d="M134.5,1155.4 135.4,1159.9 136.4,1156.4 137.3,1164.2 138.2,1155.3 139.2,1152.2 140.1,1156.2 141.0,1160.5 142.0,1159.9 142.9,1157.5 143.8,1153.9 144.8,1157.3 145.7,1154.3 146.6,1154.7 147.6,1151.4 148.5,1158.6 149.4,1157.6 150.4,1154.4 151.3,1157.2 152.2,1160.3 153.2,1161.4 154.1,1158.2 155.0,1159.1 156.0,1157.2 156.9,1158.8 157.8,1153.5 158.8,1162.0 159.7,1154.5 160.7,1154.1 161.6,1157.3 162.5,1158.3 163.5,1153.5 164.4,1157.2 165.3,1156.7 166.3,1159.0 167.2,1165.1 168.1,1164.5 169.1,1161.7 170.0,1156.1 170.9,1162.3 171.9,1165.5 172.8,1157.3 173.7,1158.4 174.7,1158.6 175.6,1161.5 176.5,1164.7 177.5,1161.1 178.4,1161.2 179.3,1158.5 180.3,1162.5 181.2,1158.6 182.1,1156.8 183.1,1157.5 184.0,1155.3 184.9,1160.8 185.9,1158.9 186.8,1153.1 187.7,1155.2 188.7,1149.8 189.6,1160.8 190.5,1158.3 191.5,1156.5 192.4,1159.9 193.3,1158.6 194.3,1159.9 195.2,1159.3 196.1,1153.5 197.1,1156.3 198.0,1158.5 198.9,1160.7 199.9,1157.9 200.8,1161.4 201.7,1158.0 202.7,1158.5 203.6,1157.8 204.5,1157.8 205.5,1158.8 206.4,1154.6 207.4,1154.5 208.3,1160.9 209.2,1156.1 210.2,1155.3 211.1,1160.7 212.0,1156.0 213.0,1155.0 213.9,1157.2 214.8,1159.4 215.8,1161.5 216.7,1157.3 217.6,1157.4 218.6,1155.4 219.5,1158.5 220.4,1164.3 221.4,1157.2 222.3,1161.5 223.2,1154.8 224.2,1158.7 225.1,1153.4 226.0,1157.4 227.0,1154.5 227.9,1155.9 228.8,1159.0 229.8,1153.5 230.7,1162.6 231.6,1156.3 232.6,1157.8 233.5,1157.7 234.4,1153.4 235.4,1154.0 236.3,1154.3 237.2,1160.2 238.2,1160.3 239.1,1158.2 240.0,1156.0 241.0,1161.7 241.9,1164.9 242.8,1162.1 243.8,1153.6 244.7,1152.9 245.6,1152.7 246.6,1155.9 247.5,1157.0 248.4,1157.0 249.4,1159.7 250.3,1160.0 251.2,1148.5 252.2,1159.5 253.1,1159.2 254.1,1161.6 255.0,1159.1 255.9,1156.7 256.9,1157.2 257.8,1162.4 258.7,1161.4 259.7,1164.1 260.6,1156.1 261.5,1164.1 262.5,1164.3 263.4,1160.3 264.3,1160.8 265.3,1159.2 266.2,1162.0 267.1,1156.9 268.1,1161.0 269.0,1156.7 269.9,1162.7 270.9,1154.4 271.8,1153.1 272.7,1156.1 273.7,1162.6 274.6,1165.1 275.5,1154.2 276.5,1161.6 277.4,1154.8 278.3,1159.6 279.3,1158.6 280.2,1156.5 281.1,1164.4 282.1,1159.6 283.0,1160.2 283.9,1155.6 284.9,1160.1 285.8,1159.6 286.7,1156.0 287.7,1157.3 288.6,1159.6 289.5,1153.1 290.5,1165.1 291.4,1155.5 292.3,1154.6 293.3,1159.6 294.2,1159.2 295.1,1160.1 296.1,1157.5 297.0,1163.9 297.9,1153.3 298.9,1158.2 299.8,1151.6 300.8,1151.3 301.7,1158.3 302.6,1162.8 303.6,1154.3 304.5,1159.4 305.4,1152.3 306.4,1157.4 307.3,1159.6 308.2,1158.6 309.2,1162.2 310.1,1159.4 311.0,1149.8 312.0,1153.3 312.9,1162.7 313.8,1157.5 314.8,1157.3 315.7,1158.8 316.6,1159.3 317.6,1150.6 318.5,1155.9 319.4,1158.5 320.4,1162.0 321.3,1158.0 322.2,1161.2 323.2,1162.4 324.1,1155.9 325.0,1156.1 326.0,1158.2 326.9,1163.9 327.8,1159.0 328.8,1162.4 329.7,1151.3 330.6,1159.0 331.6,1164.9 332.5,1157.6 333.4,1154.0 334.4,1154.4 335.3,1155.9 336.2,1158.8 337.2,1164.9 338.1,1162.4 339.0,1153.1 340.0,1158.2 340.9,1158.6 341.8,1161.7 342.8,1164.0 343.7,1155.8 344.6,1163.8 345.6,1156.4 346.5,1157.1 347.5,1163.7 348.4,1162.7 349.3,1157.1 350.3,1155.4 351.2,1151.9 352.1,1152.7 353.1,1161.1 354.0,1158.7 354.9,1162.8 355.9,1160.1 356.8,1162.8 357.7,1154.9 358.7,1158.5 359.6,1162.1 360.5,1154.1 361.5,1159.1 362.4,1154.9 363.3,1159.0 364.3,1158.7 365.2,1163.7 366.1,1157.5 367.1,1161.7 368.0,1157.2 368.9,1157.3 369.9,1154.9 370.8,1155.5 371.7,1164.3 372.7,1156.1 373.6,1156.4 374.5,1159.2 375.5,1158.6 376.4,1155.3 377.3,1160.0 378.3,1160.2 379.2,1154.9 380.1,1154.4 381.1,1158.9 382.0,1157.0 382.9,1154.6 383.9,1159.7 384.8,1164.2 385.7,1158.4 386.7,1159.5 387.6,1169.0 388.5,1161.6 389.5,1162.5 390.4,1157.6 391.3,1161.3 392.3,1160.9 393.2,1159.3 394.2,1156.3 395.1,1161.5 396.0,1158.9 397.0,1161.2 397.9,1152.1 398.8,1157.9 399.8,1157.9 400.7,1159.9 401.6,1159.6 402.6,1160.0 403.5,1154.7 404.4,1152.9 405.4,1156.8 406.3,1154.6 407.2,1152.5 408.2,1156.3 409.1,1158.7 410.0,1156.9 411.0,1161.7 411.9,1153.5 412.8,1159.4 413.8,1157.3 414.7,1160.5 415.6,1152.6 416.6,1156.9 417.5,1154.8 418.4,1162.9 419.4,1156.8 420.3,1155.4 421.2,1160.6 422.2,1152.1 423.1,1153.2 424.0,1163.6 425.0,1163.9 425.9,1149.8 426.8,1157.7 427.8,1162.8 428.7,1159.0 429.6,1162.3 430.6,1158.6 431.5,1165.5 432.4,1158.6 433.4,1155.5 434.3,1161.5 435.2,1162.8 436.2,1158.8 437.1,1158.3 438.0,1162.4 439.0,1155.8 439.9,1158.7 440.9,1159.7 441.8,1160.4 442.7,1158.6 443.7,1161.2 444.6,1155.8 445.5,1158.2 446.5,1155.5 447.4,1158.9 448.3,1160.0 449.3,1160.0 450.0,1157.2 450.2,1151.1 451.1,1157.0 452.1,1157.5 453.0,1163.5 453.9,1160.1 454.9,1161.3 455.8,1161.2 456.7,1162.3 457.7,1157.2 458.6,1161.9 459.5,1156.0 460.5,1156.9 461.4,1160.8 462.3,1160.7 463.3,1161.4 464.2,1158.9 465.1,1156.2 466.1,1158.1 467.0,1153.2 467.9,1161.1 468.9,1157.9 469.8,1157.7 470.7,1165.7 471.7,1157.0 472.6,1160.0 473.5,1156.7 474.5,1155.0 475.4,1156.5 476.3,1155.7 477.3,1157.7 478.2,1156.1 479.1,1153.3 480.1,1154.6 481.0,1156.8 481.9,1157.4 482.9,1155.9 483.8,1160.1 484.7,1154.3 485.7,1163.1 486.6,1156.1 487.6,1155.6 488.5,1154.2 489.4,1154.6 490.4,1155.8 491.3,1154.3 492.2,1156.4 493.2,1158.2 494.1,1150.7 495.0,1155.3 496.0,1155.4 496.9,1160.0 497.8,1153.1 498.8,1149.3 499.7,1158.4 500.6,1154.9 501.6,1154.3 502.5,1148.9 503.4,1153.6 504.4,1151.9 505.3,1154.9 506.2,1149.5 507.2,1151.5 508.1,1154.7 509.0,1149.7 510.0,1149.2 510.9,1145.7 511.8,1144.2 512.8,1143.5 513.7,1140.5 514.6,1135.8 515.6,1137.7 516.5,1133.4 517.4,1129.2 518.4,1122.6 519.3,1114.9 520.2,1109.6 521.2,1095.6 522.1,1078.5 523.0,1064.8 524.0,1045.8 524.9,1017.8 525.8,1002.8 526.6,998.6 526.8,996.3 527.7,1007.6 528.6,1023.7 529.6,1038.6 530.5,1066.6 531.4,1076.1 532.4,1094.9 533.3,1102.5 534.3,1111.5 535.2,1115.3 536.1,1125.4 537.1,1127.9 538.0,1136.8 538.9,1132.5 539.9,1135.4 540.8,1144.8 541.7,1139.7 542.7,1145.9 543.6,1146.0 544.5,1150.9 545.5,1145.8 546.4,1150.6 547.3,1151.9 548.3,1149.4 549.2,1156.4 550.1,1152.1 551.1,1152.6 552.0,1154.8 552.9,1156.6 553.9,1155.9 554.8,1152.6 555.7,1153.8 556.7,1155.8 557.6,1150.0 558.5,1153.0 559.5,1162.0 560.0,1159.7 560.4,1155.3 561.3,1156.0 562.3,1149.7 563.2,1156.0 564.1,1153.2 565.1,1161.2 566.0,1153.1 566.9,1153.3 567.9,1154.2 568.8,1156.5 569.7,1150.6 570.7,1151.5 571.6,1162.2 572.5,1159.6 573.5,1159.9 574.4,1156.6 575.3,1152.3 576.3,1156.6 577.2,1158.6 578.1,1160.4 579.1,1159.4 580.0,1162.1 581.0,1159.7 581.9,1158.1 582.8,1156.0 583.8,1157.6 584.7,1157.0 585.6,1156.8 586.6,1157.2 587.5,1154.7 588.4,1159.2 589.4,1151.0 590.3,1158.7 591.2,1158.7 592.2,1153.6 593.1,1157.2 594.0,1158.6 595.0,1162.4 595.9,1155.4 596.8,1158.6 597.8,1156.5 598.7,1151.3 599.6,1161.2 600.6,1156.3 601.5,1155.2 602.4,1157.5 603.4,1159.5 604.3,1156.6 605.2,1161.3 606.2,1158.3 607.1,1152.2 608.0,1155.2 609.0,1154.8 609.9,1160.7 610.8,1157.6 611.8,1165.8 612.7,1150.9 613.6,1155.6 614.6,1152.0 615.5,1160.1 616.4,1163.4 617.4,1153.2 618.3,1157.9 619.2,1159.2 620.2,1157.1 621.1,1158.0 622.0,1152.1 623.0,1156.9 623.9,1157.1 624.8,1157.2 625.8,1159.9 626.7,1156.5 627.7,1164.6 628.6,1157.3 629.5,1161.4 630.5,1158.9 631.4,1154.9 632.3,1150.8 633.3,1159.8 634.2,1158.5 635.1,1154.9 636.1,1157.9 637.0,1161.5 637.9,1162.7 638.9,1158.9 639.8,1159.7 640.7,1162.6 641.7,1157.0 642.6,1156.9 643.5,1159.1 644.5,1157.5 645.4,1158.4 646.3,1155.0 647.3,1158.4 648.2,1161.7 649.1,1159.4 650.1,1159.8 651.0,1158.8 651.9,1154.0 652.9,1154.8 653.8,1159.3 654.7,1158.6 655.7,1157.4 656.6,1160.9 657.5,1161.9 658.5,1159.7 659.4,1158.0 660.3,1158.0 661.3,1160.9 662.2,1157.5 663.1,1160.4 664.1,1157.1 665.0,1154.6 665.9,1161.4 666.9,1158.3 667.8,1160.7 668.7,1165.5 669.7,1160.7 670.6,1158.2 671.5,1155.6 672.5,1155.3 673.4,1159.3 674.4,1153.0 675.3,1155.8 676.2,1155.4 677.2,1154.2 678.1,1156.3 679.0,1157.8 680.0,1159.6 680.9,1161.4 681.8,1156.1 682.8,1155.2 683.7,1157.6 684.6,1162.6 685.6,1159.3 686.5,1154.8 687.4,1163.4 688.4,1158.6 689.3,1151.5 690.2,1157.3 691.2,1160.1 692.1,1157.6 693.0,1150.7 694.0,1160.1 694.9,1162.3 695.8,1159.1 696.8,1152.9 697.7,1160.5 698.6,1154.0 699.6,1156.1 700.5,1152.3 701.4,1161.0 702.4,1162.0 703.3,1160.9 704.2,1157.1 705.2,1154.0 706.1,1152.7 707.0,1160.9 708.0,1162.7 708.9,1161.0 709.8,1159.6 710.8,1152.1 711.7,1154.1 712.6,1158.1 713.6,1154.7 714.5,1160.4 715.4,1151.1 716.4,1150.1 717.3,1157.3 718.2,1158.1 719.2,1159.0 720.1,1157.8 721.1,1158.5 722.0,1156.9 722.9,1161.3 723.9,1153.9 724.8,1156.7 725.7,1157.0 726.7,1155.1 727.6,1154.6 728.5,1159.8 729.5,1156.6 730.4,1153.0 731.3,1157.2 732.3,1148.4 733.2,1152.3 734.1,1154.5 735.1,1158.1 736.0,1155.2 736.9,1156.1 737.9,1156.1 738.8,1159.3 739.7,1154.8 740.7,1154.6 741.6,1154.3 742.5,1155.6 743.5,1155.2 744.4,1160.2 745.3,1160.4 746.3,1154.7 747.2,1158.3 748.1,1153.7 749.1,1158.0 750.0,1156.5 750.9,1155.9 751.9,1152.1 752.8,1163.5 753.7,1156.8 754.7,1160.6 755.6,1155.6 756.5,1160.6 757.5,1160.8 758.4,1160.7 759.3,1154.5 760.3,1156.4 761.2,1154.8 762.1,1156.7 763.1,1156.5 764.0,1158.0 764.9,1148.8 765.9,1150.9 766.8,1154.4 767.8,1155.5 768.7,1156.6 769.6,1152.4 770.6,1153.7 771.5,1156.7 772.4,1155.2 773.4,1155.1 774.3,1153.4 775.2,1156.6 776.2,1154.2 777.1,1158.5 778.0,1160.5 779.0,1156.7 779.9,1148.7 780.0,1159.6 780.8,1156.4 781.8,1160.1 782.7,1156.6 783.6,1153.4 784.6,1150.0 785.5,1153.6 786.4,1150.8 787.4,1150.8 788.3,1150.2 789.2,1148.6 790.2,1146.0 791.1,1148.0 792.0,1151.1 793.0,1146.2 793.9,1149.7 794.8,1146.4 795.8,1148.4 796.7,1147.1 797.6,1146.0 798.6,1136.6 799.5,1140.8 800.4,1143.1 801.4,1134.3 802.3,1134.1 803.2,1131.1 804.2,1127.7 805.1,1123.3 806.0,1122.0 807.0,1112.9 807.9,1104.7 808.8,1095.7 809.8,1087.0 810.7,1072.8 811.6,1052.8 812.6,1027.8 813.5,999.7 814.5,965.0 815.4,928.2 816.3,890.9 817.3,865.5 817.9,857.1 818.2,862.6 819.1,881.2 820.1,913.2 821.0,950.9 821.9,992.8 822.9,1022.9 823.8,1048.1 824.7,1066.8 825.7,1080.2 826.6,1092.2 827.5,1104.3 828.5,1105.9 829.4,1117.9 830.3,1126.7 831.3,1129.0 832.2,1131.9 833.1,1135.5 834.1,1132.4 835.0,1139.0 835.9,1133.5 836.9,1144.5 837.8,1144.3 838.7,1145.7 839.7,1143.7 840.6,1145.3 841.5,1151.1 842.5,1145.6 843.4,1149.7 844.3,1144.5 845.3,1146.0 846.2,1150.0 847.1,1151.9 848.1,1149.9 849.0,1151.0 849.9,1154.9 850.0,1156.8 850.9,1149.0 851.8,1153.6 852.7,1151.6 853.7,1152.5 854.6,1149.3 855.5,1154.3 856.5,1155.5 857.4,1151.4 858.3,1150.6 859.3,1152.9 860.2,1153.7 861.2,1154.3 862.1,1156.8 863.0,1157.1 864.0,1155.0 864.9,1153.7 865.8,1155.0 866.8,1154.0 867.7,1156.6 868.6,1150.5 869.6,1155.3 870.5,1155.5 871.4,1147.6 872.4,1156.3 873.3,1154.5 874.2,1155.0 875.2,1154.2 876.1,1155.1 877.0,1156.3 878.0,1158.9 878.9,1156.1 879.8,1152.6 880.8,1153.0 881.7,1161.2 882.6,1158.3 883.6,1153.4 884.5,1157.5 885.4,1158.9 886.4,1156.6 887.3,1157.8 888.2,1155.1 889.2,1158.0 890.1,1159.7 891.0,1159.8 892.0,1154.1 892.9,1157.6 893.8,1157.2 894.8,1156.6 895.7,1156.7 896.6,1158.9 897.6,1155.8 898.5,1156.6 899.4,1156.3 900.4,1158.9 901.3,1159.6 902.2,1155.3 903.2,1158.8 904.1,1158.6 905.0,1154.1 906.0,1153.9 906.9,1158.6 907.9,1154.4 908.8,1157.7 909.7,1156.4 910.7,1159.2 911.6,1153.5 912.5,1157.6 913.5,1156.7 914.4,1159.7 915.3,1161.3 916.3,1161.5 917.2,1152.7 918.1,1157.6 919.1,1155.7 920.0,1156.1 920.9,1159.6 921.9,1155.6 922.8,1156.0 923.7,1155.8 924.7,1158.0 925.6,1158.8 926.5,1157.2 927.5,1155.0 928.4,1155.7 929.3,1156.7 930.3,1154.6 931.2,1155.4 932.1,1158.9 933.1,1155.5 934.0,1155.5 934.9,1157.3 935.9,1160.0 936.8,1158.6 937.7,1158.9 938.7,1157.5 939.6,1158.0 940.5,1157.6 941.5,1156.5 942.4,1156.9 943.3,1157.2 944.3,1158.7 945.2,1153.8 946.1,1158.6 947.1,1155.2 948.0,1157.2 948.9,1155.8 949.9,1158.9 950.8,1158.4 951.7,1158.0 952.7,1158.4 953.6,1161.2 954.6,1156.1 955.5,1157.6 956.4,1157.2 957.4,1156.4 958.3,1158.8 959.2,1156.6 960.2,1157.4 961.1,1161.3 962.0,1156.9 963.0,1159.1 963.9,1158.6 964.8,1157.1 965.8,1157.4 966.7,1156.2 967.6,1159.3 968.6,1156.8 969.5,1156.5 970.4,1158.7 971.4,1156.0 972.3,1156.8 973.2,1157.1 974.2,1158.2 975.1,1156.5 976.0,1157.9 977.0,1157.2 977.9,1154.3 978.8,1158.4 979.8,1158.9 980.7,1157.4 981.6,1157.6 982.6,1155.2 983.5,1158.5 984.4,1155.4 985.4,1156.6 986.3,1156.8 987.2,1158.4 988.2,1155.7 989.1,1160.8 990.0,1158.3 991.0,1157.2 991.9,1157.0 992.8,1155.6 993.8,1159.2 994.7,1157.1 995.6,1160.0 996.6,1157.4 997.5,1157.7 998.4,1160.1 999.4,1160.2 1000.3,1159.9 1001.3,1153.5 1002.2,1157.6 1003.1,1158.7 1004.1,1159.1 1005.0,1157.4 1005.9,1156.2 1006.9,1153.9 1007.8,1158.6 1008.7,1157.7 1009.7,1154.4 1010.6,1157.8 1011.5,1157.3 1012.5,1157.2 1013.4,1156.4 1014.3,1160.1 1015.3,1156.9 1016.2,1159.1 1017.1,1157.2 1018.1,1158.1 1019.0,1159.2 1019.9,1161.2 1020.9,1158.8 1021.8,1157.3 1022.7,1159.8 1023.7,1158.7 1024.6,1158.4 1025.5,1156.8 1026.5,1156.4 1027.4,1160.6 1028.3,1158.7 1029.3,1154.9 1030.2,1157.7 1031.1,1159.6 1032.1,1158.5 1033.0,1159.7 1033.9,1157.5 1034.9,1157.5 1035.8,1161.2 1036.7,1157.3 1037.7,1157.6 1038.6,1158.8 1039.5,1159.2 1040.5,1158.7 1041.4,1157.5 1042.3,1158.7 1043.3,1158.1 1044.2,1159.4 1045.1,1160.8 1046.1,1158.4 1047.0,1157.1 1048.0,1159.3 1048.9,1156.8 1049.8,1157.9 1050.8,1160.1 1051.7,1157.7 1052.6,1159.6 1053.6,1158.5 1054.5,1156.6 1055.4,1158.2 1056.4,1157.8 1057.3,1160.5 1058.2,1156.1 1059.2,1160.9 1060.1,1156.2 1061.0,1160.6 1062.0,1159.8 1062.9,1158.0 1063.8,1157.4 1064.8,1157.6 1065.7,1159.6 1066.6,1157.2 1067.6,1158.2 1068.5,1157.9 1069.4,1158.8 1070.4,1158.9 1071.3,1158.1 1072.2,1159.5 1073.2,1158.6 1074.1,1154.3 1075.0,1156.1 1076.0,1156.7 1076.9,1157.8 1077.8,1156.2 1078.8,1160.0 1079.7,1156.9 1080.6,1159.6 1081.6,1157.2 1082.5,1157.3 1083.4,1157.7 1084.4,1158.5 1085.3,1155.3 1086.2,1159.9 1087.2,1155.4 1088.1,1158.3 1089.0,1157.1 1090.0,1156.4 1090.9,1159.6 1091.8,1158.9 1092.8,1159.0 1093.7,1159.3 1094.7,1160.5 1095.6,1158.6 1096.5,1159.3 1097.5,1159.7 1098.4,1157.3 1099.3,1159.0 1100.0,1160.8 1100.3,1156.6 1101.2,1156.5 1102.1,1155.9 1103.1,1160.6 1104.0,1158.4 1104.9,1153.3 1105.9,1156.8 1106.8,1160.8 1107.7,1157.9 1108.7,1157.8 1109.6,1158.0 1110.5,1156.9 1111.5,1155.3 1112.4,1157.8 1113.3,1157.6 1114.3,1155.9 1115.2,1158.6 1116.1,1156.8 1117.1,1156.4 1118.0,1157.3 1118.9,1156.9 1119.9,1155.5 1120.8,1159.9 1121.7,1158.7 1122.7,1159.3 1123.6,1156.5 1124.5,1156.4 1125.5,1156.8 1126.4,1157.6 1127.3,1158.2 1128.3,1159.9 1129.2,1159.4 1130.1,1159.8 1131.1,1155.4 1132.0,1157.6 1132.9,1159.3 1133.9,1157.9 1134.8,1156.5 1135.7,1159.6 1136.7,1157.9 1137.6,1156.4 1138.5,1159.3 1139.5,1157.4 1140.4,1157.2 1141.4,1156.4 1142.3,1156.1 1143.2,1158.3 1144.2,1156.6 1145.1,1157.1 1146.0,1156.3 1147.0,1156.7 1147.9,1157.1 1148.8,1159.7 1149.8,1156.9 1150.7,1157.8 1151.6,1160.2 1152.6,1158.1 1153.5,1153.3 1154.4,1159.0 1155.4,1157.6 1156.3,1159.7 1157.2,1155.7 1158.2,1156.1 1159.1,1155.8 1160.0,1160.3 1161.0,1159.3 1161.9,1157.9 1162.8,1156.9 1163.8,1158.5 1164.7,1157.9 1165.6,1158.9 1166.6,1157.9 1167.5,1158.1 1168.4,1160.0 1169.4,1158.9 1170.3,1158.2 1171.2,1158.2 1172.2,1158.7 1173.1,1155.8 1174.0,1156.3 1175.0,1160.3 1175.9,1160.0 1176.8,1157.0 1177.8,1158.8 1178.7,1157.8 1179.6,1158.3 1180.6,1159.5 1181.5,1157.1 1182.4,1159.3 1183.4,1157.1 1184.3,1157.8 1185.2,1154.8 1186.2,1154.8 1187.1,1157.7 1188.1,1156.3 1189.0,1154.0 1189.9,1158.2 1190.9,1160.1 1191.8,1159.8 1192.7,1158.1 1193.7,1156.5 1194.6,1157.2 1195.5,1156.8 1196.5,1160.9 1197.4,1155.7 1198.3,1157.6 1199.3,1162.2 1200.2,1156.9 1201.1,1162.7 1202.1,1157.4 1203.0,1160.9 1203.9,1158.8 1204.9,1160.5 1205.8,1156.0 1206.7,1160.0 1207.7,1156.2 1208.6,1157.2 1209.5,1156.4 1210.5,1153.4 1211.4,1158.3 1212.3,1158.4 1213.3,1159.4 1214.2,1161.1 1215.1,1158.4 1216.1,1156.6 1217.0,1156.9 1217.9,1158.5 1218.9,1159.7 1219.8,1161.0 1220.7,1159.1 1221.7,1159.5 1222.6,1158.6 1223.5,1160.9 1224.5,1157.9 1225.4,1160.4 1226.3,1161.3 1227.3,1159.7 1228.2,1156.7 1229.1,1158.6 1230.1,1156.1 1231.0,1157.2 1231.9,1160.2 1232.9,1158.2 1233.8,1158.0 1234.8,1159.7 1235.7,1159.1 1236.6,1157.8 1237.6,1157.9 1238.5,1157.7 1239.4,1159.1 1240.4,1158.4 1241.3,1156.9 1242.2,1159.8 1243.2,1157.4 1244.1,1159.0 1245.0,1158.7 1246.0,1159.1 1246.9,1159.9 1247.8,1155.9 1248.8,1157.5 1249.7,1157.1 1250.6,1158.0 1251.6,1156.4 1252.5,1159.3 1253.4,1158.6 1254.4,1157.6 1255.3,1160.0 1256.2,1156.7 1257.2,1156.9 1258.1,1161.7 1259.0,1160.4 1260.0,1158.2 1260.9,1158.7 1261.8,1157.4 1262.8,1158.6 1263.7,1156.5 1264.6,1159.2 1265.6,1158.1 1266.5,1156.9 1267.4,1158.9 1268.4,1156.7 1269.3,1159.1 1270.2,1158.5 1271.2,1159.9 1272.1,1160.4 1273.0,1158.5 1274.0,1159.9 1274.9,1156.5 1275.8,1158.6 1276.8,1158.4 1277.7,1158.8 1278.6,1158.2 1279.6,1159.2 1280.5,1158.3 1281.5,1156.8 1282.4,1158.0 1283.3,1158.0 1284.3,1158.2 1285.2,1159.5 1286.1,1157.7 1287.1,1159.5 1288.0,1156.3 1288.9,1155.8 1289.9,1159.7 1290.8,1158.2 1291.7,1156.8 1292.7,1160.3 1293.6,1158.1 1294.5,1159.5 1295.5,1159.1 1296.4,1154.5 1297.3,1157.3 1298.3,1157.3 1299.2,1158.9 1300.1,1158.5 1301.1,1158.0 1302.0,1157.8 1302.9,1157.6 1303.9,1155.9 1304.8,1155.0 1305.7,1158.7 1306.7,1158.9 1307.6,1160.0 1308.5,1158.3 1309.5,1157.4 1310.4,1159.8 1311.3,1157.8 1312.3,1158.8 1313.2,1156.6 1314.1,1161.7 1315.1,1159.0 1316.0,1157.0 1316.9,1156.0 1317.9,1156.5 1318.8,1156.3 1319.7,1157.6 1320.7,1159.9 1321.6,1157.3 1322.5,1156.4 1323.5,1158.1 1324.4,1157.3 1325.3,1158.3 1326.3,1158.1 1327.2,1160.5 1328.2,1157.9 1329.1,1158.4 1330.0,1157.9 1331.0,1160.9 1331.9,1158.4 1332.8,1157.7 1333.8,1157.7 1334.7,1159.5 1335.6,1157.6 1336.6,1156.7 1337.5,1157.2 1338.4,1154.7 1339.4,1156.7 1340.3,1161.0 1341.2,1155.1 1342.2,1157.7 1343.1,1156.7 1344.0,1157.2 1345.0,1158.1 1345.9,1156.5 1346.8,1159.2 1347.8,1159.8 1348.7,1159.6 1349.6,1158.6 1350.6,1157.4 1351.5,1161.1 1352.4,1158.6 1353.4,1155.7 1354.3,1158.8 1355.2,1158.1 1356.2,1157.5 1357.1,1160.2 1358.0,1159.1 1359.0,1155.4 1359.9,1158.6 1360.8,1158.6 1361.8,1158.7 1362.7,1156.4 1363.6,1162.6 1364.6,1157.1 1365.5,1161.1 1366.4,1159.8 1367.4,1156.1 1368.3,1158.8 1369.2,1155.2 1370.2,1159.9 1371.1,1158.3 1372.0,1159.4 1373.0,1160.3 1373.9,1158.1 1374.9,1158.6 1375.8,1159.1 1376.7,1160.4 1377.7,1155.8 1378.6,1159.5 1379.5,1159.7 1380.5,1158.7 1381.4,1156.9 1382.3,1157.1 1383.3,1158.3 1384.2,1159.5 1385.1,1158.2 1386.1,1156.6 1387.0,1158.8 1387.9,1157.9 1388.9,1159.0 1389.8,1157.7 1390.7,1159.5 1391.7,1159.3 1392.6,1156.3 1393.5,1158.0 1394.5,1158.4 1395.4,1158.2 1396.3,1160.0 1397.3,1157.3 1398.2,1158.4 1399.1,1155.2 1400.1,1157.3 1401.0,1160.8 1401.9,1156.2 1402.9,1158.0 1403.8,1158.5 1404.7,1158.5 1405.7,1159.9 1406.6,1156.5 1407.5,1157.0 1408.5,1158.3 1409.4,1157.8 1410.3,1156.5 1411.3,1158.9 1412.2,1156.9 1413.1,1156.1 1414.1,1160.6 1415.0,1159.5 1415.9,1158.7 1416.9,1159.5 1417.8,1158.8 1418.7,1157.4 1419.7,1159.9 1420.6,1160.2 1421.6,1158.7 1422.5,1158.1 1423.4,1160.0 1424.4,1159.8 1425.3,1160.1 1426.2,1160.4 1427.2,1158.3 1428.1,1158.1 1429.0,1158.1 1430.0,1159.7 1430.9,1160.1 1431.8,1158.0 1432.8,1157.9 1433.7,1156.7 1434.6,1160.1 1435.6,1160.3 1436.5,1159.0 1437.4,1156.7 1438.4,1158.1 1439.3,1156.8 1440.2,1160.4 1441.2,1158.2 1442.1,1160.1 1443.0,1161.4 1444.0,1158.4 1444.9,1159.1 1445.8,1157.8 1446.8,1157.3 1447.7,1159.0 1448.6,1159.0 1449.6,1156.2 1450.5,1160.9 1451.4,1156.4 1452.4,1158.7 1453.3,1157.6 1454.2,1156.5 1455.2,1159.4 1456.1,1158.7 1457.0,1156.9 1458.0,1159.4 1458.9,1160.1 1459.8,1157.8 1460.8,1156.9 1461.7,1158.7 1462.6,1158.6 1463.6,1156.9 1464.5,1157.2 1465.4,1158.6 1466.4,1156.4 1467.3,1157.0 1468.3,1156.1 1469.2,1158.0 1470.1,1157.0 1471.1,1160.8 1472.0,1159.6 1472.9,1157.3 1473.9,1159.1 1474.8,1155.4 1475.7,1159.4 1476.7,1157.8 1477.6,1158.8 1478.5,1156.9 1479.5,1157.5 1480.4,1155.6 1481.3,1155.5 1482.3,1158.2 1483.2,1157.3 1484.1,1158.4 1485.1,1157.3 1486.0,1157.3 1486.9,1160.0 1487.9,1159.4 1488.8,1157.3 1489.7,1158.1 1490.7,1160.0 1491.6,1158.4 1492.5,1158.0 1493.5,1156.8 1494.4,1157.4 1495.3,1158.8 1496.3,1157.1 1497.2,1161.0 1498.1,1160.4 1499.1,1157.5 1500.0,1160.0 1500.9,1156.9 1501.9,1156.3 1502.8,1157.8 1503.7,1160.0 1504.7,1157.5 1505.6,1156.8 1506.5,1157.0 1507.5,1159.1 1508.4,1157.0 1509.3,1158.1 1510.3,1158.7 1511.2,1158.1 1512.1,1158.8 1513.1,1157.5 1514.0,1156.8 1515.0,1157.5 1515.9,1156.0 1516.8,1161.2 1517.8,1158.0 1518.7,1156.3 1519.6,1163.7 1520.6,1159.5 1521.5,1153.6 1522.4,1160.2 1523.4,1155.3 1524.3,1157.6 1525.2,1157.6 1526.2,1159.1 1527.1,1158.0 1528.0,1157.8 1529.0,1158.0 1529.9,1159.4 1530.8,1154.4 1531.8,1159.0 1532.7,1157.8 1533.6,1160.7 1534.6,1159.7 1535.5,1158.5 1536.4,1158.7 1537.4,1158.3 1538.3,1158.8 1539.2,1156.2 1540.2,1160.9 1541.1,1156.6 1542.0,1157.9 1543.0,1157.4 1543.9,1159.2 1544.8,1161.8 1545.8,1160.7 1546.7,1156.6 1547.6,1157.9 1548.6,1163.9 1549.5,1157.9 1550.4,1157.1 1551.4,1159.5 1552.3,1159.4 1553.2,1159.4 1554.2,1159.8 1555.1,1159.4 1556.0,1159.5 1557.0,1156.4 1557.9,1159.0 1558.8,1158.1 1559.8,1159.7 1560.7,1157.9 1561.7,1160.6 1562.6,1155.6 1563.5,1156.5 1564.5,1158.2 1565.4,1157.8 1566.3,1158.7 1567.3,1159.5 1568.2,1158.4 1569.1,1157.5 1570.1,1158.7 1571.0,1160.2 1571.9,1160.4 1572.9,1157.8 1573.8,1158.6 1574.7,1158.6 1575.7,1156.1 1576.6,1159.0 1577.5,1161.1 1578.5,1158.8 1579.4,1159.1 1580.3,1156.8 1581.3,1158.3 1582.2,1158.7 1583.1,1156.5 1584.1,1154.3 1585.0,1159.3 1585.9,1158.2 1586.9,1157.2 1587.8,1160.4 1588.7,1158.7 1589.7,1157.2 1590.6,1157.1 1591.5,1159.4 1592.5,1155.8 1593.4,1157.9 1594.3,1157.4 1595.3,1160.6 1596.2,1160.3 1597.1,1159.0 1598.1,1160.0 1599.0,1158.9 1599.9,1159.0 1600.9,1157.5 1601.8,1159.2 1602.7,1157.2 1603.7,1158.0 1604.6,1156.9 1605.5,1157.5 1606.5,1157.6 1607.4,1160.1 1608.4,1157.9 1609.3,1156.8 1610.2,1160.6 1611.2,1161.2 1612.1,1156.3 1613.0,1160.1 1614.0,1157.7 1614.9,1158.7 1615.8,1156.2 1616.8,1159.1 1617.7,1158.5 1618.6,1156.5 1619.6,1158.1 1620.5,1157.2 1621.4,1161.4 1622.4,1159.8 1623.3,1160.3 1624.2,1157.7 1625.2,1161.2 1626.1,1157.8 1627.0,1158.5 1628.0,1156.4 1628.9,1156.6 1629.8,1158.3 1630.8,1156.4 1631.7,1158.9 1632.6,1157.9 1633.6,1157.7 1634.5,1161.2 1635.4,1157.1 1636.4,1156.4 1637.3,1159.8 1638.2,1156.6 1639.2,1160.7 1640.1,1159.7 1641.0,1158.0 1642.0,1158.1 1642.9,1160.8 1643.8,1160.4 1644.8,1161.5 1645.7,1159.6 1646.6,1160.6 1647.6,1160.4 1648.5,1158.9 1649.4,1158.8 1650.4,1157.0 1651.3,1159.2 1652.2,1157.6 1653.2,1159.7 1654.1,1155.8 1655.1,1159.8 1656.0,1157.9 1656.9,1159.5 1657.9,1160.9 1658.8,1159.0 1659.7,1162.0 1660.7,1159.1 1661.6,1158.1 1662.5,1158.9 1663.5,1160.2 1664.4,1158.8 1665.3,1159.9 1666.3,1159.3 1667.2,1158.7 1668.1,1157.8 1669.1,1160.5 1670.0,1159.9 1670.9,1157.9 1671.9,1157.8 1672.8,1161.0 1673.7,1158.2 1674.7,1157.4 1675.6,1158.0 1676.5,1157.6 1677.5,1160.6 1678.4,1159.4 1679.3,1155.6 1680.3,1154.8 1681.2,1155.4 1682.1,1157.2 1683.1,1159.5 1684.0,1161.2 1684.9,1160.7 1685.9,1159.7 1686.8,1158.0 1687.7,1160.1 1688.7,1158.3 1689.6,1162.5 1690.5,1159.6 1691.5,1157.2 1692.4,1159.0 1693.3,1159.7 1694.3,1157.0 1695.2,1157.2 1696.1,1156.8 1697.1,1155.5 1698.0,1160.1 1698.9,1156.3 1699.9,1154.6 1700.8,1158.2 1701.8,1158.7 1702.7,1158.4 1703.6,1158.8 1704.6,1160.9 1705.5,1162.3 1706.4,1157.3 1707.4,1156.4 1708.3,1156.4 1709.2,1157.6 1710.2,1158.5 1711.1,1160.9 1712.0,1158.0 1713.0,1161.0 1713.9,1159.1 1714.8,1157.6 1715.8,1156.9 1716.7,1157.8 1717.6,1158.5 1718.6,1158.2 1719.5,1156.9 1720.0,1156.9 1720.4,1158.3 1721.4,1155.7 1722.3,1162.6 1723.2,1157.6 1724.2,1157.9 1725.1,1158.9 1726.0,1155.4 1727.0,1158.5 1727.9,1158.0 1728.8,1160.2 1729.8,1158.7 1730.7,1157.8 1731.6,1158.8 1732.6,1156.6 1733.5,1157.0 1734.4,1155.2 1734.5,1157.0 1735.4,1156.8 1736.3,1157.5 1737.2,1156.9 1738.2,1159.0 1739.1,1155.9 1740.0,1154.6 1741.0,1153.9 1741.9,1155.6 1742.8,1151.7 1743.8,1155.7 1744.2,1155.2 1744.7,1154.9 1745.6,1152.0 1746.6,1153.9 1747.5,1150.3 1748.5,1151.9 1749.4,1152.3 1750.3,1150.1 1751.3,1150.8 1751.5,1150.4 1752.2,1149.7 1753.1,1149.9 1754.1,1148.7 1755.0,1146.9 1755.9,1145.3 1756.4,1144.4 1756.9,1142.4 1757.8,1141.1 1758.7,1137.4 1759.7,1138.1 1759.8,1137.9 1760.6,1133.9 1761.5,1133.2 1762.5,1131.0 1763.4,1134.1 1763.6,1131.0 1764.3,1133.9 1765.3,1136.0 1766.2,1132.2 1767.1,1135.7 1767.5,1134.2 1768.1,1133.5 1769.0,1137.2 1769.9,1139.1 1770.9,1140.5 1770.9,1141.0 1771.8,1138.3 1772.7,1141.7 1773.7,1145.8 1774.6,1143.5 1775.5,1144.4 1775.8,1142.8 1776.5,1144.1 1777.4,1146.8 1778.3,1146.9 1779.3,1144.3 1780.2,1150.7 1781.1,1152.1 1782.1,1152.0 1783.0,1153.5 1783.0,1153.2 1783.9,1153.0 1784.9,1154.7 1785.8,1154.9 1786.7,1153.5 1787.7,1155.8 1788.6,1159.0 1789.5,1155.7 1790.3,1153.8 1790.5,1154.0 1791.4,1155.3 1792.3,1156.4 1793.3,1157.8 1794.2,1158.1 1795.2,1156.9 1796.1,1158.3 1797.0,1157.2 1798.0,1158.4 1798.9,1157.0 1799.8,1157.7 1800.8,1157.7 1801.7,1158.2 1802.4,1157.2 1802.6,1155.6 1803.6,1155.3 1804.5,1161.3 1805.4,1157.1 1806.4,1159.3 1807.3,1155.8 1808.2,1158.3 1809.2,1158.1 1810.1,1159.1 1811.0,1158.0 1812.0,1160.1 1812.9,1159.0 1813.8,1158.7 1814.8,1156.8 1815.7,1157.7 1816.6,1158.1 1817.6,1156.8 1818.5,1158.9 1819.4,1156.8 1820.4,1158.8 1821.3,1155.9 1822.2,1158.6 1823.2,1155.3 1824.1,1159.6 1825.0,1156.4 1826.0,1159.5 1826.9,1159.7 1827.8,1158.7 1828.8,1157.0 1829.7,1157.8 1830.6,1155.4 1831.6,1156.5 1832.5,1157.6 1833.4,1158.9 1834.4,1159.3 1835.3,1161.1 1836.2,1158.3 1837.2,1159.7 1838.1,1158.9 1839.0,1157.9 1840.0,1157.3 1840.9,1158.8 1841.9,1158.9 1842.8,1159.5 1843.7,1157.3 1844.7,1157.1 1845.6,1157.7 1846.5,1159.4 1847.5,1159.0 1848.4,1159.7 1849.3,1158.2 1850.3,1158.7 1851.2,1159.4 1852.1,1157.2 1853.1,1156.4 1854.0,1157.3 1854.9,1157.7 1855.9,1160.7 1856.8,1159.3 1857.7,1155.7 1858.7,1155.3 1859.6,1158.0 1860.5,1157.8 1861.5,1156.5 1862.4,1156.9 1863.3,1156.3 1864.3,1158.9 1865.2,1156.1 1866.1,1156.3 1867.1,1157.0 1868.0,1157.7 1868.9,1159.3 1869.9,1156.9 1870.8,1156.9 1871.7,1157.8 1872.7,1154.6 1873.6,1160.6 1874.5,1157.0 1875.5,1155.5 1876.4,1158.5 1877.3,1156.9 1878.3,1157.4 1879.2,1159.7 1880.1,1156.5 1881.1,1156.3 1882.0,1158.7 1882.9,1156.0 1883.9,1159.9 1884.8,1161.0 1885.7,1156.9 1886.7,1159.6 1887.6,1158.1 1888.6,1158.5 1889.5,1157.0 1890.4,1160.7 1891.4,1160.8 1892.3,1157.7 1893.2,1157.3 1894.2,1156.9 1895.1,1159.0 1896.0,1157.7 1897.0,1159.6 1897.9,1157.7 1898.8,1158.8 1899.8,1159.5 1900.7,1155.4 1901.6,1159.2 1902.6,1158.4 1903.5,1159.6 1904.4,1161.7 1905.4,1159.2 1906.3,1157.9 1907.2,1157.5 1908.2,1157.2 1909.1,1157.7 1910.0,1157.2 1911.0,1159.6 1911.9,1159.0 1912.8,1157.4 1913.8,1158.3 1914.7,1156.8 1915.6,1158.8 1916.6,1158.2 1917.5,1158.1 1918.4,1158.1 1919.4,1158.6 1920.3,1158.4 1921.2,1160.7 1922.2,1158.1 1923.1,1158.3 1924.0,1157.2 1925.0,1160.3 1925.9,1160.5 1926.8,1156.3 1927.8,1154.2 1928.7,1159.0 1929.6,1158.5 1930.6,1159.4 1931.5,1156.3 1932.4,1157.0 1933.4,1162.2 1934.3,1156.7 1935.3,1158.1 1936.2,1157.3 1937.1,1154.9 1938.1,1157.1 1939.0,1158.3 1939.9,1155.9 1940.9,1159.4 1941.8,1156.9 1942.7,1157.8 1943.7,1158.9 1944.6,1157.8 1945.5,1156.1 1946.5,1159.9 1947.4,1156.6 1948.3,1160.6 1949.3,1156.8 1950.2,1161.4 1951.1,1159.6 1952.1,1162.3 1953.0,1155.4 1953.9,1159.5 1954.9,1160.4 1955.8,1159.4 1956.7,1156.4 1957.7,1158.5 1958.6,1160.3 1959.5,1159.9 1960.5,1154.9 1961.4,1156.5 1962.3,1155.8 1963.3,1158.4 1964.2,1154.7 1965.1,1158.6 1966.1,1157.8 1967.0,1160.5 1967.9,1157.8 1968.9,1156.3 1969.8,1157.0 1970.7,1159.8 1971.7,1157.1 1972.6,1156.4 1973.5,1157.4 1974.5,1157.1 1975.4,1160.5 1976.3,1158.7 1977.3,1156.4 1978.2,1158.9 1979.1,1157.1 1980.1,1155.9 1981.0,1154.4 1982.0,1156.9 1982.9,1157.3 1983.8,1159.2 1984.8,1162.0 1985.7,1158.4 1986.6,1159.6 1987.6,1157.7 1988.5,1154.8 1989.4,1157.7 1990.4,1157.0 1991.3,1157.3 1992.2,1157.1 1993.2,1159.9 1994.1,1157.0 1995.0,1156.9 1996.0,1156.9 1996.9,1157.0 1997.8,1157.6 1998.8,1157.1 1999.7,1158.0 2000.6,1157.9 2001.6,1159.5 2002.5,1159.0"/><path stroke="#FF0000" d="M135.38 1152.4V1162.9M138.00 1149.2V1167.2M141.50 1151.7V1163.5M145.00 1150.9V1160.3M148.50 1148.4V1161.6M152.00 1151.4V1164.4M155.50 1154.0V1162.4M159.00 1150.5V1165.0M162.50 1150.5V1161.3M166.00 1153.7V1168.1M169.50 1153.1V1167.7M173.00 1154.3V1168.5M176.50 1155.9V1167.7M180.00 1154.5V1165.5M183.50 1152.3V1163.8M187.00 1146.8V1163.1M190.50 1147.7V1163.8M194.00 1152.9V1162.9M197.50 1150.5V1163.7M201.00 1154.9V1164.4M204.50 1152.3V1161.8M208.00 1151.5V1163.9M211.50 1152.0V1163.7M215.00 1152.7V1164.5M218.50 1152.4V1166.2M222.00 1151.8V1167.3M225.50 1150.4V1161.7M229.00 1150.5V1165.6M232.50 1151.3V1165.3M236.00 1150.4V1163.3M239.50 1153.0V1165.6M243.00 1149.9V1167.9M246.50 1149.7V1160.0M250.00 1145.5V1163.0M253.50 1151.4V1164.6M257.00 1153.7V1165.4M260.50 1153.1V1167.3M264.00 1156.2V1167.3M267.50 1153.7V1165.0M271.00 1150.1V1165.7M274.50 1151.2V1168.1M278.00 1151.8V1164.6M281.50 1153.5V1167.4M285.00 1152.6V1163.1M288.50 1150.1V1165.1M292.00 1151.6V1168.1M295.50 1154.5V1166.9M299.00 1148.3V1164.2M302.50 1148.3V1165.8M306.00 1149.3V1162.6M309.50 1146.8V1165.2M313.00 1147.6V1165.7M316.50 1147.6V1162.3M320.00 1151.5V1165.0M323.50 1152.9V1165.4M327.00 1153.6V1166.9M330.50 1148.3V1167.9M334.00 1151.0V1162.6M337.50 1150.1V1167.9M341.00 1151.2V1166.9M344.50 1152.8V1167.0M348.00 1153.3V1166.7M351.50 1148.9V1164.1M355.00 1155.7V1165.8M358.50 1151.9V1165.8M362.00 1151.1V1162.1M365.50 1154.5V1166.7M369.00 1151.9V1163.8M372.50 1152.4V1167.3M376.00 1152.3V1163.1M379.50 1151.4V1163.2M383.00 1151.6V1166.9M386.50 1155.4V1172.0M390.00 1154.6V1167.0M393.50 1153.3V1164.5M397.00 1149.1V1164.2M400.50 1154.5V1162.9M404.00 1149.9V1163.0M407.50 1149.5V1161.7M411.00 1150.5V1164.7M414.50 1149.6V1163.5M418.00 1151.8V1165.9M421.50 1149.1V1163.6M425.00 1146.8V1166.9M428.50 1153.9V1165.8M432.00 1152.5V1168.5M435.50 1154.9V1165.8M439.00 1152.8V1165.4M442.50 1154.8V1164.2M446.00 1152.5V1162.3M449.50 1148.1V1163.0M453.00 1154.1V1166.5M456.50 1154.2V1165.3M460.00 1153.0V1164.9M463.50 1153.2V1164.4M467.00 1150.2V1164.1M470.50 1154.0V1168.7M474.00 1152.0V1163.0M477.50 1150.3V1160.7M481.00 1150.4V1160.4M484.50 1151.3V1166.1M488.00 1151.2V1161.8M491.50 1151.3V1161.2M495.00 1147.7V1162.3M498.50 1146.3V1163.0M502.00 1145.9V1159.3M551.00 1149.1V1159.3M554.50 1149.6V1159.6M558.00 1147.0V1165.0M561.50 1146.7V1163.8M565.00 1150.1V1164.2M568.50 1147.6V1159.5M572.00 1148.1V1165.2M575.50 1149.3V1161.9M579.00 1155.6V1165.1M582.50 1153.0V1163.2M586.00 1151.7V1160.3M589.50 1148.0V1162.2M593.00 1150.6V1164.6M596.50 1150.8V1165.4M600.00 1148.3V1164.2M603.50 1152.8V1164.3M607.00 1149.2V1164.3M610.50 1151.8V1168.8M614.00 1147.9V1163.9M617.50 1150.2V1166.4M621.00 1149.1V1162.2M624.50 1152.7V1162.9M628.00 1153.5V1167.6M631.50 1147.8V1163.8M635.00 1151.9V1163.6M638.50 1155.9V1165.7M642.00 1153.9V1165.6M645.50 1152.0V1161.7M649.00 1155.4V1164.7M652.50 1151.0V1162.3M656.00 1154.4V1164.9M659.50 1155.0V1164.4M663.00 1152.3V1163.9M666.50 1151.6V1166.0M670.00 1152.6V1168.5M673.50 1150.0V1162.3M677.00 1151.2V1160.4M680.50 1152.7V1164.4M684.00 1152.2V1165.6M687.50 1148.8V1166.4M691.00 1148.5V1163.1M694.50 1147.7V1165.3M698.00 1149.9V1163.5M701.50 1149.3V1165.0M705.00 1149.7V1164.0M708.50 1153.4V1165.7M712.00 1149.1V1161.1M715.50 1147.1V1163.4M719.00 1153.8V1162.0M722.50 1150.9V1164.3M726.00 1151.6V1160.0M729.50 1150.0V1162.8M733.00 1145.4V1160.2M736.50 1152.2V1161.1M740.00 1151.3V1162.3M743.50 1151.5V1163.4M747.00 1150.7V1163.4M750.50 1149.1V1161.0M754.00 1152.6V1166.5M757.50 1152.1V1163.8M761.00 1151.5V1159.7M764.50 1145.8V1161.0M768.00 1149.3V1159.6M771.50 1149.6V1159.7M775.00 1150.4V1159.9M778.50 1145.7V1163.5M782.00 1149.9V1163.1M785.50 1147.0V1156.6M789.00 1143.0V1153.8M848.50 1146.9V1159.8M852.00 1146.0V1157.6M855.50 1146.3V1158.5M859.00 1147.6V1157.0M862.50 1151.0V1160.1M866.00 1150.7V1159.6M869.50 1146.1V1159.2M873.00 1144.6V1159.3M876.50 1151.2V1161.9M880.00 1149.6V1164.2M883.50 1150.4V1164.1M887.00 1152.1V1161.9M890.50 1151.1V1162.8M894.00 1152.1V1160.6M897.50 1152.8V1161.9M901.00 1152.3V1162.6M904.50 1150.9V1161.8M908.00 1151.4V1161.6M911.50 1150.5V1162.2M915.00 1153.7V1164.5M918.50 1149.7V1160.6M922.00 1152.6V1162.6M925.50 1152.5V1161.8M929.00 1151.6V1159.7M932.50 1152.0V1161.9M936.00 1153.0V1163.0M939.50 1153.8V1161.9M943.00 1153.2V1161.7M946.50 1150.8V1161.6M950.00 1152.8V1161.9M953.50 1153.1V1164.2M957.00 1153.4V1161.8M960.50 1153.6V1164.3M964.00 1154.1V1162.1M967.50 1153.2V1162.3M971.00 1153.0V1161.7M974.50 1153.5V1161.2M978.00 1151.3V1161.9M981.50 1152.2V1161.9M985.00 1152.4V1161.5M988.50 1152.7V1163.8M992.00 1152.6V1162.1M995.50 1154.1V1163.0M999.00 1153.9V1163.2M1002.50 1150.5V1162.1M1006.00 1150.9V1161.7M1009.50 1151.4V1161.6M1013.00 1153.4V1163.1M1016.50 1153.9V1162.1M1020.00 1154.4V1164.2M1023.50 1154.3V1162.8M1027.00 1153.4V1163.6M1030.50 1151.9V1162.6M1034.00 1154.5V1163.9M1037.50 1154.3V1164.2M1041.00 1154.5V1162.2M1044.50 1155.1V1163.8M1048.00 1153.8V1162.3M1051.50 1154.7V1163.1M1055.00 1153.6V1162.0M1058.50 1153.1V1163.9M1062.00 1153.9V1163.6M1065.50 1154.2V1162.6M1069.00 1154.9V1161.9M1072.50 1151.3V1162.5M1076.00 1151.6V1160.8M1079.50 1153.2V1163.0M1083.00 1154.2V1161.5M1086.50 1152.3V1162.9M1090.00 1153.4V1162.6M1093.50 1155.9V1163.5M1097.00 1154.3V1162.7M1100.50 1152.9V1163.8M1104.00 1150.3V1163.6M1107.50 1153.4V1163.8M1111.00 1152.3V1161.0M1114.50 1152.9V1161.6M1118.00 1152.7V1160.3M1121.50 1152.5V1162.9M1125.00 1153.4V1160.8M1128.50 1154.8V1162.9M1132.00 1152.4V1162.3M1135.50 1153.5V1162.6M1139.00 1153.4V1162.3M1142.50 1153.1V1161.3M1146.00 1153.3V1160.1M1149.50 1153.9V1162.7M1153.00 1150.3V1163.2M1156.50 1152.7V1162.7M1160.00 1152.8V1163.3M1163.50 1153.9V1161.5M1167.00 1154.9V1163.0M1170.50 1155.2V1162.6M1174.00 1152.8V1163.3M1177.50 1154.0V1163.1M1181.00 1154.1V1162.5M1184.50 1151.8V1161.6M1188.00 1151.0V1160.7M1191.50 1154.2V1163.1M1195.00 1153.5V1163.9M1198.50 1152.7V1165.2M1202.00 1154.2V1165.7M1205.50 1153.0V1163.5M1209.00 1150.4V1160.9M1212.50 1151.9V1164.1M1216.00 1153.6V1164.0M1219.50 1155.2V1164.0M1223.00 1154.9V1163.9M1226.50 1153.7V1164.3M1230.00 1153.1V1162.6M1233.50 1155.0V1163.2M1237.00 1154.7V1162.4M1240.50 1153.9V1162.8M1244.00 1154.4V1162.7M1247.50 1152.9V1162.9M1251.00 1153.4V1162.3M1254.50 1153.7V1163.0M1258.00 1153.7V1164.7M1261.50 1154.4V1161.7M1265.00 1153.5V1162.2M1268.50 1153.7V1162.1M1272.00 1155.5V1163.4M1275.50 1153.5V1162.9M1279.00 1154.9V1162.2M1282.50 1153.8V1161.2M1286.00 1154.1V1162.5M1289.50 1152.8V1162.7M1293.00 1153.8V1163.3M1296.50 1151.5V1162.4M1300.00 1154.3V1161.9M1303.50 1152.0V1160.8M1307.00 1153.7V1163.0M1310.50 1154.4V1162.8M1314.00 1153.6V1164.7M1317.50 1153.0V1160.5M1321.00 1153.4V1162.9M1324.50 1153.8V1161.3M1328.00 1154.9V1163.5M1331.50 1154.7V1163.9M1335.00 1153.7V1162.5M1338.50 1151.7V1163.8M1342.00 1152.1V1164.0M1345.50 1153.5V1162.5M1349.00 1154.4V1162.8M1352.50 1152.7V1164.1M1356.00 1154.5V1163.2M1359.50 1152.4V1162.4M1363.00 1153.4V1165.6M1366.50 1153.1V1164.1M1370.00 1152.2V1162.9M1373.50 1155.1V1163.3M1377.00 1152.8V1163.4M1380.50 1153.9V1162.7M1384.00 1154.0V1162.5M1387.50 1153.6V1162.0M1391.00 1153.3V1162.5M1394.50 1153.5V1162.9M1398.00 1152.2V1163.0M1401.50 1153.2V1163.8M1405.00 1153.5V1162.9M1408.50 1153.5V1161.3M1412.00 1153.1V1162.0M1415.50 1155.7V1163.6M1419.00 1154.4V1163.2M1422.50 1155.1V1163.0M1426.00 1155.2V1163.4M1429.50 1155.1V1163.1M1433.00 1153.7V1163.1M1436.50 1153.7V1163.3M1440.00 1153.8V1163.4M1443.50 1155.4V1164.4M1447.00 1154.3V1162.0M1450.50 1153.2V1163.9M1454.00 1153.5V1162.4M1457.50 1153.9V1163.1M1461.00 1153.9V1162.2M1464.50 1153.7V1161.6M1468.00 1153.1V1161.0M1471.50 1154.0V1163.8M1475.00 1152.4V1162.4M1478.50 1152.9V1161.8M1482.00 1152.5V1161.2M1485.50 1154.3V1163.0M1489.00 1154.3V1163.0M1492.50 1153.8V1162.8M1496.00 1154.1V1164.0M1499.50 1153.7V1163.7M1503.00 1153.3V1163.0M1506.50 1153.8V1162.1M1510.00 1154.0V1161.7M1513.50 1153.8V1161.8M1517.00 1153.0V1164.2M1520.50 1150.6V1166.7M1524.00 1152.3V1163.2M1527.50 1154.8V1162.1M1531.00 1151.4V1162.4M1534.50 1154.9V1163.7M1538.00 1153.2V1161.8M1541.50 1153.6V1163.9M1545.00 1153.6V1164.8M1548.50 1153.7V1166.9M1552.00 1154.1V1162.6M1555.50 1153.4V1162.8M1559.00 1154.2V1162.7M1562.50 1152.6V1163.6M1566.00 1154.8V1162.5M1569.50 1154.5V1163.2M1573.00 1154.8V1163.4M1576.50 1153.1V1164.1M1580.00 1153.8V1162.4M1583.50 1151.3V1162.3M1587.00 1154.2V1163.4M1590.50 1153.7V1162.4M1594.00 1152.8V1163.6M1597.50 1155.9V1163.5M1601.00 1154.2V1162.2M1604.50 1153.9V1161.0M1608.00 1153.8V1163.1M1611.50 1153.3V1164.2M1615.00 1153.2V1162.6M1618.50 1153.5V1162.1M1622.00 1154.2V1164.4M1625.50 1154.7V1164.2M1629.00 1153.4V1161.3M1632.50 1153.4V1163.2M1636.00 1153.4V1164.2M1639.50 1153.6V1163.7M1643.00 1155.0V1164.4M1646.50 1156.3V1164.5M1650.00 1154.0V1162.3M1653.50 1152.8V1162.8M1657.00 1154.9V1163.9M1660.50 1155.1V1165.0M1664.00 1155.7V1163.2M1667.50 1154.8V1163.5M1671.00 1154.8V1163.8M1674.50 1154.4V1164.0M1678.00 1152.2V1163.6M1681.50 1151.8V1162.8M1685.00 1155.1V1164.2M1688.50 1155.0V1165.5M1692.00 1154.2V1163.5M1695.50 1152.5V1161.5M1699.00 1151.6V1163.1M1702.50 1155.0V1163.2M1706.00 1153.4V1165.3M1709.50 1153.4V1163.9M1713.00 1154.7V1164.0M1716.50 1153.9V1161.5M1720.00 1152.7V1161.5M1723.50 1154.6V1165.6M1727.00 1152.4V1163.0M1730.50 1154.4V1163.2M1734.00 1152.2V1160.4M1737.50 1152.7V1162.0M1741.00 1149.1V1158.7M1744.50 1148.7V1158.7M1748.00 1147.3V1156.9M1765.50 1128.6V1139.0M1790.00 1150.8V1162.0M1793.50 1152.7V1161.1M1797.00 1154.1V1161.4M1800.50 1154.0V1161.2M1804.00 1152.3V1164.3M1807.50 1152.8V1162.3M1811.00 1155.0V1163.1M1814.50 1153.8V1162.2M1818.00 1153.8V1161.9M1821.50 1152.3V1161.8M1825.00 1152.7V1162.7M1828.50 1153.4V1162.7M1832.00 1152.4V1162.1M1835.50 1155.3V1164.1M1839.00 1154.3V1162.7M1842.50 1154.2V1162.5M1846.00 1154.1V1162.4M1849.50 1155.2V1162.7M1853.00 1153.4V1162.3M1856.50 1152.5V1163.7M1860.00 1152.3V1161.0M1863.50 1153.1V1161.9M1867.00 1153.2V1162.0M1870.50 1153.0V1162.3M1874.00 1151.6V1163.6M1877.50 1153.4V1162.7M1881.00 1153.3V1162.6M1884.50 1153.0V1164.0M1888.00 1154.0V1162.6M1891.50 1154.3V1163.8M1895.00 1153.9V1162.2M1898.50 1154.3V1162.6M1902.00 1152.4V1163.2M1905.50 1154.5V1164.7M1909.00 1154.2V1162.1M1912.50 1154.4V1162.6M1916.00 1153.8V1161.8M1919.50 1155.1V1163.7M1923.00 1154.2V1163.7M1926.50 1151.2V1163.5M1930.00 1153.3V1162.4M1933.50 1153.5V1165.2M1937.00 1151.9V1161.1M1940.50 1152.9V1162.4M1944.00 1153.1V1161.9M1947.50 1153.6V1163.6M1951.00 1153.8V1165.3M1954.50 1152.4V1163.4M1958.00 1153.4V1163.3M1961.50 1151.9V1161.8M1965.00 1151.7V1162.8M1968.50 1153.3V1163.5M1972.00 1153.4V1162.8M1975.50 1153.4V1163.5M1979.00 1151.8V1161.9M1982.50 1151.4V1163.5M1986.00 1154.1V1165.0M1989.50 1151.8V1160.7M1993.00 1153.9V1162.9M1996.50 1153.9V1160.6M2000.00 1154.1V1162.5M2002.38 1156.0V1162.4"/><path stroke="#0000FF" stroke-width="4.6" stroke-linejoin="round" stroke-linecap="round" d="M134.5,980.4 135.4,985.9 136.4,980.5 137.3,984.0 138.2,984.2 139.2,992.9 140.1,981.6 141.0,980.4 142.0,989.5 142.9,979.6 143.8,981.6 144.8,986.9 145.7,987.0 146.6,982.2 147.6,980.1 148.5,980.7 149.4,991.4 150.4,984.9 151.3,983.1 152.2,988.5 153.2,986.2 154.1,983.7 155.0,979.3 156.0,978.5 156.9,978.7 157.8,987.4 158.8,975.6 159.7,982.7 160.7,979.1 161.6,982.4 162.5,979.7 163.5,980.4 164.4,979.0 165.3,985.0 166.3,982.5 167.2,984.4 168.1,985.2 169.1,983.4 170.0,983.0 170.9,983.5 171.9,976.8 172.8,983.2 173.7,983.4 174.7,989.7 175.6,987.7 176.5,985.5 177.5,972.5 178.4,978.9 179.3,982.8 180.3,979.6 181.2,985.3 182.1,986.4 183.1,984.4 184.0,984.1 184.9,982.2 185.9,990.4 186.8,981.4 187.7,981.2 188.7,986.8 189.6,988.4 190.5,986.0 191.5,986.0 192.4,988.8 193.3,981.6 194.3,984.2 195.2,979.3 196.1,988.1 197.1,979.7 198.0,977.1 198.9,981.7 199.9,977.1 200.8,981.3 201.7,989.8 202.7,985.4 203.6,991.4 204.5,978.2 205.5,982.6 206.4,985.1 207.4,987.2 208.3,988.2 209.2,976.2 210.2,987.0 211.1,983.6 212.0,982.5 213.0,986.3 213.9,988.2 214.8,983.6 215.8,981.5 216.7,981.9 217.6,993.8 218.6,978.4 219.5,982.6 220.4,985.1 221.4,986.9 222.3,984.5 223.2,983.8 224.2,983.2 225.1,985.7 226.0,988.2 227.0,982.0 227.9,989.8 228.8,981.5 229.8,981.7 230.7,979.3 231.6,977.5 232.6,984.1 233.5,980.5 234.4,982.4 235.4,983.0 236.3,985.0 237.2,983.3 238.2,982.7 239.1,981.2 240.0,987.6 241.0,987.6 241.9,989.1 242.8,982.9 243.8,980.4 244.7,987.1 245.6,981.3 246.6,982.6 247.5,980.4 248.4,978.4 249.4,981.7 250.3,982.9 251.2,984.9 252.2,986.7 253.1,982.2 254.1,984.0 255.0,982.1 255.9,973.6 256.9,990.4 257.8,979.4 258.7,981.8 259.7,979.6 260.6,988.8 261.5,980.1 262.5,984.0 263.4,989.5 264.3,977.5 265.3,982.3 266.2,982.4 267.1,983.6 268.1,982.5 269.0,984.9 269.9,987.3 270.9,985.0 271.8,981.3 272.7,979.3 273.7,980.1 274.6,981.9 275.5,983.2 276.5,977.0 277.4,983.7 278.3,979.4 279.3,978.0 280.2,980.9 281.1,982.9 282.1,985.4 283.0,988.3 283.9,980.4 284.9,974.3 285.8,986.3 286.7,983.9 287.7,985.2 288.6,982.8 289.5,983.2 290.5,987.1 291.4,981.7 292.3,987.3 293.3,985.4 294.2,982.0 295.1,983.4 296.1,989.1 297.0,982.9 297.9,980.7 298.9,980.9 299.8,981.2 300.0,978.5 300.8,984.4 301.7,979.8 302.6,982.2 303.6,982.5 304.5,988.4 305.4,986.2 306.4,984.9 307.3,983.8 308.2,988.1 309.2,980.2 310.1,984.2 311.0,987.0 312.0,980.5 312.9,984.3 313.8,983.8 314.8,987.1 315.7,974.4 316.6,990.7 317.6,986.0 318.5,979.8 319.4,981.8 320.4,983.5 321.3,981.4 322.2,978.9 323.2,977.6 324.1,984.5 325.0,984.6 326.0,982.5 326.9,974.2 327.8,984.8 328.8,992.0 329.7,984.2 330.6,977.9 331.6,982.3 332.5,982.0 333.4,979.8 334.4,978.1 335.3,982.4 336.2,980.9 337.2,986.5 338.1,977.2 339.0,984.2 340.0,981.6 340.9,985.2 341.8,989.7 342.8,974.8 343.7,981.5 344.6,980.2 345.6,984.6 346.5,989.2 347.5,985.4 348.4,985.1 349.3,982.9 350.3,979.8 351.2,981.4 352.1,981.2 353.1,981.0 354.0,977.5 354.9,985.1 355.9,986.8 356.8,979.2 357.7,986.1 358.7,986.2 359.6,976.0 360.5,979.3 361.5,984.2 362.4,985.8 363.3,987.7 364.3,983.7 365.2,980.4 366.1,981.9 367.1,989.5 368.0,985.5 368.9,983.5 369.9,983.8 370.8,982.8 371.7,984.3 372.7,985.9 373.6,983.4 374.5,985.2 375.5,984.4 376.4,984.6 377.3,984.7 378.3,978.5 379.2,986.0 380.1,979.4 381.1,984.9 382.0,981.2 382.9,978.4 383.9,979.3 384.8,979.6 385.7,987.0 386.7,982.1 387.6,982.6 388.5,979.6 389.5,980.2 390.4,981.2 391.3,989.7 392.3,981.1 393.2,982.2 394.2,983.9 395.1,978.6 396.0,981.5 397.0,975.0 397.9,989.0 398.8,980.7 399.8,980.8 400.7,979.5 401.6,981.7 402.6,976.6 403.5,981.3 404.4,983.5 405.4,981.6 406.3,987.9 407.2,976.1 408.2,981.3 409.1,981.0 410.0,980.9 411.0,986.0 411.9,980.8 412.8,978.1 413.8,984.2 414.7,979.9 415.6,982.7 416.6,977.4 417.5,976.9 418.4,981.0 419.4,984.1 420.3,984.2 421.2,981.0 422.2,985.6 423.1,985.9 424.0,978.2 425.0,985.6 425.9,975.9 426.8,986.4 427.8,986.7 428.7,988.9 429.6,978.4 430.0,984.2 430.6,986.9 431.5,983.8 432.4,982.4 433.4,988.2 434.3,977.9 435.2,984.1 436.2,990.2 437.1,982.6 438.0,978.8 439.0,984.0 439.9,984.6 440.9,989.0 441.8,979.9 442.7,973.4 443.7,981.8 444.6,973.7 445.5,983.3 446.5,978.6 447.4,983.8 448.3,984.2 449.3,982.1 450.2,977.3 451.1,982.3 452.1,981.4 453.0,970.4 453.9,989.4 454.9,978.1 455.0,979.4 455.8,979.0 456.7,983.7 457.7,978.0 458.6,984.4 459.5,973.6 460.5,976.7 461.4,976.3 462.3,978.8 463.3,980.6 464.2,978.3 465.1,973.4 466.1,976.5 467.0,978.8 467.9,981.7 468.9,980.0 469.8,975.9 470.0,980.5 470.7,978.8 471.7,983.1 472.6,975.7 473.5,976.2 474.5,979.4 475.4,975.3 476.0,972.6 476.3,974.4 477.3,964.6 477.8,959.9 478.2,961.2 479.1,960.1 480.0,958.1 480.1,959.9 481.0,963.3 481.9,959.6 482.9,957.5 483.8,955.2 484.7,969.4 485.7,962.2 486.0,957.3 486.6,951.0 487.6,956.9 488.5,956.8 489.4,961.0 490.4,955.8 491.3,956.7 492.0,960.9 492.2,959.0 493.2,956.8 494.1,956.1 495.0,961.2 496.0,952.8 496.4,949.7 496.9,949.3 497.8,954.6 498.8,948.3 499.4,945.8 499.7,942.0 500.6,952.3 501.6,943.7 502.5,945.3 502.5,949.6 503.4,941.5 504.4,935.0 505.3,935.9 505.7,929.5 506.2,928.1 507.2,927.1 508.0,928.7 508.1,926.1 509.0,923.2 510.0,919.3 510.2,912.6 510.9,911.8 511.8,909.6 512.0,911.5 512.8,901.2 513.6,902.0 513.7,907.2 514.6,894.6 515.6,895.2 516.0,887.3 516.5,888.4 517.4,879.6 518.4,865.7 519.3,870.7 519.4,869.3 520.2,858.2 521.2,854.9 521.9,844.8 522.1,840.3 523.0,820.6 523.6,810.4 524.0,803.6 524.9,789.2 525.8,770.6 526.8,745.3 526.8,747.2 527.7,715.7 528.6,683.7 529.6,669.1 529.6,669.2 530.5,681.9 531.4,707.1 532.0,716.1 532.4,722.4 533.3,739.7 534.3,748.0 535.2,769.0 536.1,780.6 537.1,791.1 537.4,803.7 538.0,802.7 538.9,811.7 539.9,817.7 540.8,836.7 541.7,841.6 542.7,849.4 542.7,850.1 543.6,853.0 544.5,861.9 545.5,867.2 546.4,868.7 547.3,873.6 548.3,879.3 549.2,882.7 550.1,884.2 551.1,892.8 552.0,891.9 552.0,889.0 552.9,894.8 553.9,896.7 554.8,901.0 555.7,903.8 556.7,912.6 557.6,910.9 558.5,913.7 559.5,921.4 560.4,921.3 561.3,918.0 561.3,917.1 562.3,925.9 563.2,926.4 564.1,928.6 565.1,932.2 566.0,932.0 566.9,932.6 567.9,939.8 568.8,940.7 569.7,940.1 570.7,945.0 571.6,943.1 571.9,949.5 572.5,946.4 573.5,948.7 574.4,950.3 575.3,956.0 576.3,955.1 577.2,951.9 578.1,952.0 579.1,957.8 580.0,963.9 581.0,953.7 581.9,960.0 582.8,962.7 583.8,968.8 584.7,970.8 585.0,964.3 585.6,965.7 586.6,966.5 587.5,965.4 588.4,967.4 589.4,968.8 590.3,967.6 591.2,973.5 592.2,972.2 593.1,974.3 594.0,974.3 595.0,973.9 595.9,977.4 596.8,977.6 597.8,976.4 598.7,978.1 599.6,972.9 600.6,983.5 601.5,983.7 602.4,985.4 603.4,979.4 603.6,972.4 604.3,978.2 605.2,979.0 606.2,983.9 607.1,978.4 608.0,980.7 609.0,983.5 609.9,981.0 610.8,981.0 611.8,980.5 612.7,983.2 613.6,981.9 614.6,979.0 615.5,988.1 616.4,978.6 617.4,982.1 618.3,980.7 619.2,983.6 620.2,985.9 621.1,988.3 622.0,981.3 623.0,982.4 623.9,980.7 624.8,985.2 625.0,980.2 625.8,980.5 626.7,978.6 627.7,984.9 628.6,982.4 629.5,979.6 630.5,982.0 631.4,986.0 632.3,984.6 633.3,980.3 634.2,983.0 635.1,981.0 636.1,983.6 637.0,988.4 637.9,982.3 638.9,987.8 639.8,980.8 640.7,981.1 641.7,983.1 642.6,977.8 643.5,981.4 644.5,982.6 645.4,982.6 646.3,976.4 647.3,978.6 648.2,984.6 649.1,983.8 650.1,986.9 651.0,978.3 651.9,986.1 652.9,980.9 653.8,985.1 654.7,985.2 655.7,985.0 656.6,982.2 657.5,980.8 658.5,983.7 659.4,981.7 660.3,984.3 661.3,978.0 662.2,984.4 663.1,978.6 664.1,980.5 665.0,981.1 665.9,987.1 666.9,984.4 667.8,980.0 668.7,986.3 669.7,982.9 670.6,976.4 671.5,979.0 672.5,983.0 673.4,981.4 674.4,983.3 675.3,985.8 676.2,979.1 677.2,990.9 678.1,981.1 679.0,985.3 680.0,979.5 680.9,982.1 681.8,981.4 682.8,979.9 683.7,979.1 684.6,986.4 685.6,981.2 686.5,982.6 687.4,985.9 688.4,982.2 689.3,980.8 690.2,979.3 691.2,985.4 692.1,980.5 693.0,984.6 694.0,984.4 694.9,984.3 695.8,980.9 696.8,981.0 697.7,980.6 698.6,983.2 699.6,980.1 700.0,985.1 700.5,975.7 701.4,981.9 702.4,987.9 703.3,982.9 704.2,980.6 705.2,979.7 706.1,982.8 707.0,980.5 708.0,982.5 708.9,980.3 709.8,980.2 710.8,984.4 711.7,987.1 712.6,983.9 713.6,980.9 714.5,979.9 715.4,982.5 716.4,983.3 717.3,979.3 718.2,981.6 719.2,988.6 720.1,978.4 721.1,978.9 722.0,986.3 722.9,979.6 723.9,985.5 724.8,982.8 725.7,979.1 726.7,980.0 727.6,978.0 728.5,984.4 729.5,985.9 730.4,978.0 731.3,981.3 732.3,978.6 733.2,986.3 734.1,984.7 735.1,979.9 736.0,976.0 736.9,983.4 737.9,979.4 738.8,985.2 739.7,980.7 740.7,980.2 741.6,985.5 742.5,981.6 743.5,979.4 744.4,983.1 745.3,983.7 746.3,982.7 747.2,978.5 748.1,979.6 749.1,973.8 750.0,982.0 750.0,981.1 750.9,983.0 751.9,976.9 752.8,976.0 753.7,977.3 754.7,982.2 755.6,983.4 756.5,981.4 757.5,978.4 758.4,978.7 759.3,978.9 760.3,979.7 761.2,983.3 762.1,983.6 763.1,976.4 764.0,980.7 764.9,974.4 765.9,982.5 766.8,977.8 767.8,978.3 768.7,979.5 769.6,975.7 770.0,970.4 770.6,973.0 771.5,975.0 772.4,973.7 773.4,976.2 774.3,972.4 775.2,974.6 776.2,969.6 777.1,972.2 777.8,967.8 778.0,972.4 779.0,975.8 779.9,968.0 780.8,973.5 781.8,969.2 782.7,967.4 783.6,967.5 784.6,968.7 785.5,975.0 786.4,964.3 787.4,971.9 788.3,968.1 789.2,969.9 789.6,968.7 790.2,969.1 791.1,969.2 792.0,970.5 793.0,969.2 793.9,964.7 794.8,961.4 795.8,966.4 796.7,965.1 797.4,964.4 797.6,966.9 798.6,964.3 799.5,960.0 800.4,961.1 801.4,959.4 802.3,958.4 803.2,954.3 803.6,957.3 804.2,947.3 805.1,953.3 806.0,948.6 807.0,944.2 807.6,945.9 807.9,943.9 808.8,944.0 809.8,938.6 810.7,930.7 811.6,940.7 812.3,933.2 812.6,937.5 813.5,931.0 814.5,928.5 815.4,924.7 815.4,927.6 816.3,920.4 817.3,915.1 818.2,908.0 818.5,908.2 819.1,902.0 820.1,892.7 820.5,890.1 821.0,889.5 821.9,894.4 822.9,904.8 823.2,902.6 823.8,908.0 824.7,918.0 825.6,921.9 825.7,915.3 826.6,923.8 827.5,934.8 827.9,932.3 828.5,934.7 829.4,939.5 830.3,938.6 831.3,934.5 831.8,938.2 832.2,937.2 833.1,940.1 834.1,943.9 834.2,945.6 835.0,943.7 835.9,946.2 836.9,953.0 837.8,946.0 838.7,951.8 839.7,954.8 840.4,957.1 840.6,954.7 841.5,954.1 842.5,956.3 843.4,951.0 844.3,957.4 845.3,960.5 846.2,957.4 847.1,958.9 848.1,960.4 848.2,955.6 849.0,959.9 849.9,963.5 850.9,962.7 851.8,962.2 852.7,961.5 853.7,966.6 854.6,962.6 855.5,968.6 856.1,964.1 856.5,968.1 857.4,964.0 858.3,967.2 859.3,966.5 860.2,969.5 861.2,970.9 862.1,971.1 863.0,968.5 863.9,972.3 864.0,970.2 864.9,971.2 865.8,971.9 866.8,973.9 867.7,974.4 868.6,976.2 869.6,976.4 870.5,971.8 871.4,972.3 871.7,969.5 872.4,974.3 873.3,980.0 874.2,975.6 875.2,978.9 876.1,979.0 877.0,979.3 878.0,977.4 878.9,976.2 879.8,980.8 880.8,975.6 881.7,980.3 882.6,976.2 883.5,975.5 883.6,977.4 884.5,980.8 885.4,977.6 886.4,980.4 887.3,977.2 888.2,979.3 889.2,980.9 890.1,978.1 891.0,978.4 892.0,979.6 892.9,981.4 893.8,981.7 894.8,980.5 895.7,984.1 896.6,983.8 897.6,983.2 898.5,979.2 899.4,977.8 900.0,986.8 900.4,984.3 901.3,980.9 902.2,982.9 903.2,980.5 904.1,985.1 905.0,980.7 906.0,980.6 906.9,987.2 907.9,982.2 908.8,979.8 909.7,981.8 910.7,982.5 911.6,982.3 912.5,984.2 913.5,982.0 914.4,981.3 915.3,981.5 916.3,984.3 917.2,984.0 918.1,984.4 919.1,981.5 920.0,982.4 920.9,985.5 921.9,989.0 922.8,980.5 923.7,983.8 924.7,985.5 925.6,985.8 926.5,983.2 927.5,978.2 928.4,984.0 929.3,981.1 930.3,978.7 931.2,981.2 932.1,983.1 933.1,983.4 934.0,985.3 934.9,985.3 935.9,980.9 936.8,986.9 937.7,984.3 938.7,984.4 939.6,981.1 940.0,983.0 940.5,980.7 941.5,983.8 942.4,985.9 943.3,981.8 944.3,981.5 945.2,984.9 946.1,983.9 947.1,983.2 948.0,983.0 948.9,981.5 949.9,981.3 950.8,981.0 951.7,981.1 952.7,985.8 953.6,983.7 954.6,984.0 955.5,983.0 956.4,979.6 957.4,982.9 958.3,981.9 959.2,981.1 960.2,983.4 961.1,983.2 962.0,981.0 963.0,982.0 963.9,982.8 964.8,980.4 965.8,982.3 966.7,979.5 967.6,982.2 968.6,982.5 969.5,984.8 970.4,986.0 971.4,984.6 972.3,985.3 973.2,984.1 974.2,987.2 975.1,987.6 976.0,981.2 977.0,979.6 977.9,987.7 978.8,980.9 979.8,983.1 980.7,983.0 981.6,986.9 982.6,983.9 983.5,983.7 984.4,984.4 985.4,984.8 986.3,983.9 987.2,985.1 988.2,982.3 989.1,979.8 990.0,982.9 991.0,986.5 991.9,984.1 992.8,983.5 993.8,983.5 994.7,983.9 995.6,982.5 996.6,979.0 997.5,981.5 998.4,982.9 999.4,985.3 1000.3,984.5 1001.3,981.6 1002.2,983.2 1003.1,983.1 1004.1,985.7 1005.0,983.2 1005.9,981.1 1006.9,980.7 1007.8,983.1 1008.7,982.2 1009.7,982.3 1010.6,984.5 1011.5,984.0 1012.5,981.9 1013.4,985.0 1014.3,985.0 1015.3,981.1 1016.2,985.5 1017.1,981.7 1018.1,984.1 1019.0,983.6 1019.9,983.2 1020.9,984.8 1021.8,979.7 1022.7,981.1 1023.7,985.0 1024.6,983.8 1025.5,981.3 1026.5,983.4 1027.4,984.5 1028.3,982.3 1029.3,984.0 1030.2,983.6 1031.1,979.2 1032.1,980.1 1033.0,982.5 1033.9,982.2 1034.9,983.2 1035.8,984.9 1036.7,983.9 1037.7,983.3 1038.6,985.0 1039.5,984.4 1040.5,986.0 1041.4,984.2 1042.3,981.5 1043.3,982.8 1044.2,985.5 1045.1,981.7 1046.1,982.0 1047.0,981.2 1048.0,985.5 1048.9,979.2 1049.8,982.2 1050.8,982.2 1051.7,983.0 1052.6,980.9 1053.6,982.9 1054.5,982.4 1055.4,982.8 1056.4,982.8 1057.3,985.2 1058.2,983.3 1059.2,984.9 1060.1,986.6 1061.0,984.2 1062.0,984.8 1062.9,982.9 1063.8,980.0 1064.8,987.0 1065.7,984.1 1066.6,985.6 1067.6,984.5 1068.5,983.8 1069.4,981.9 1070.4,983.5 1071.3,983.4 1072.2,982.5 1073.2,979.5 1074.1,985.9 1075.0,984.0 1076.0,980.5 1076.9,980.0 1077.8,984.0 1078.8,983.1 1079.7,984.3 1080.6,983.5 1081.6,984.8 1082.5,984.7 1083.4,985.4 1084.4,984.9 1085.3,979.5 1086.2,980.9 1087.2,982.1 1088.1,980.4 1089.0,984.6 1090.0,982.7 1090.9,986.5 1091.8,981.4 1092.8,985.4 1093.7,988.1 1094.7,984.4 1095.6,983.4 1096.5,985.1 1097.5,982.7 1098.4,980.8 1099.3,985.0 1100.3,982.4 1101.2,984.5 1102.1,983.1 1103.1,982.7 1104.0,980.8 1104.9,980.5 1105.9,983.8 1106.8,983.2 1107.7,982.7 1108.7,983.5 1109.6,985.6 1110.5,981.6 1111.5,982.1 1112.4,981.0 1113.3,983.0 1114.3,985.6 1115.2,981.1 1116.1,981.8 1117.1,983.4 1118.0,982.8 1118.9,984.0 1119.9,983.3 1120.8,984.6 1121.7,984.0 1122.7,985.8 1123.6,983.5 1124.5,982.8 1125.5,983.2 1126.4,981.9 1127.3,984.3 1128.3,982.8 1129.2,983.1 1130.1,983.7 1131.1,983.3 1132.0,982.0 1132.9,981.9 1133.9,984.7 1134.8,985.2 1135.7,985.4 1136.7,984.8 1137.6,981.2 1138.5,982.3 1139.5,982.9 1140.4,984.6 1141.4,984.4 1142.3,983.8 1143.2,983.8 1144.2,979.6 1145.1,982.4 1146.0,984.0 1147.0,985.4 1147.9,985.9 1148.8,984.4 1149.8,981.2 1150.7,982.2 1151.6,983.7 1152.6,985.1 1153.5,986.0 1154.4,983.1 1155.4,980.3 1156.3,984.5 1157.2,979.5 1158.2,980.9 1159.1,984.3 1160.0,986.3 1161.0,985.3 1161.9,983.9 1162.8,981.3 1163.8,984.3 1164.7,982.4 1165.6,985.9 1166.6,986.1 1167.5,985.9 1168.4,983.9 1169.4,982.9 1170.3,980.6 1171.2,983.1 1172.2,987.0 1173.1,983.6 1174.0,986.1 1175.0,986.5 1175.9,984.6 1176.8,985.1 1177.8,984.9 1178.7,984.5 1179.6,984.3 1180.6,984.0 1181.5,982.6 1182.4,980.7 1183.4,983.0 1184.3,983.0 1185.2,985.7 1186.2,982.2 1187.1,983.3 1188.1,982.9 1189.0,983.7 1189.9,982.7 1190.9,983.7 1191.8,985.1 1192.7,979.4 1193.7,983.1 1194.6,983.4 1195.5,982.0 1196.5,978.7 1197.4,986.2 1198.3,981.3 1199.3,986.3 1200.2,983.2 1201.1,984.9 1202.1,984.6 1203.0,981.6 1203.9,988.3 1204.9,985.6 1205.8,987.6 1206.7,982.6 1207.7,982.6 1208.6,982.9 1209.5,982.3 1210.5,985.6 1211.4,983.8 1212.3,982.7 1213.3,983.8 1214.2,984.6 1215.1,983.9 1216.1,981.2 1217.0,984.5 1217.9,984.2 1218.9,984.1 1219.8,982.4 1220.7,980.5 1221.7,982.1 1222.6,984.3 1223.5,978.7 1224.5,983.4 1225.4,983.8 1226.3,981.4 1227.3,984.9 1228.2,980.9 1229.1,981.3 1230.1,982.9 1231.0,979.8 1231.9,983.1 1232.9,986.0 1233.8,984.6 1234.8,983.1 1235.7,981.4 1236.6,984.6 1237.6,983.1 1238.5,980.7 1239.4,986.9 1240.4,985.0 1241.3,983.8 1242.2,982.1 1243.2,983.5 1244.1,985.1 1245.0,982.8 1246.0,983.5 1246.9,985.2 1247.8,984.7 1248.8,982.8 1249.7,983.0 1250.6,983.3 1251.6,984.1 1252.5,982.0 1253.4,984.3 1254.4,984.4 1255.3,986.8 1256.2,983.0 1257.2,983.9 1258.1,987.6 1259.0,983.9 1260.0,984.1 1260.9,983.1 1261.8,982.8 1262.8,984.7 1263.7,984.2 1264.6,981.8 1265.6,983.2 1266.5,986.0 1267.4,983.7 1268.4,981.4 1269.3,985.1 1270.2,985.9 1271.2,980.7 1272.1,985.0 1273.0,981.5 1274.0,986.6 1274.9,983.5 1275.8,981.7 1276.8,981.5 1277.7,979.5 1278.6,982.5 1279.6,983.6 1280.5,980.2 1281.5,982.3 1282.4,982.0 1283.3,985.1 1284.3,977.3 1285.2,984.5 1286.1,983.3 1287.1,984.9 1288.0,983.1 1288.9,983.3 1289.9,981.3 1290.8,984.0 1291.7,979.9 1292.7,983.6 1293.6,983.9 1294.5,982.4 1295.5,982.3 1296.4,981.5 1297.3,981.0 1298.3,983.1 1299.2,977.4 1300.0,985.9 1300.1,984.4 1301.1,984.6 1302.0,982.6 1302.9,983.5 1303.9,984.9 1304.8,984.6 1305.7,983.3 1306.7,982.8 1307.6,986.0 1308.5,983.6 1309.5,985.9 1310.4,981.4 1311.3,984.0 1312.3,982.2 1313.2,984.3 1314.1,985.3 1315.1,981.9 1316.0,984.8 1316.9,982.1 1317.9,985.9 1318.8,984.5 1319.7,982.7 1320.7,983.4 1321.6,985.3 1322.5,983.7 1323.5,986.8 1324.4,985.4 1325.3,986.5 1326.3,982.2 1327.2,985.8 1328.2,982.8 1329.1,984.4 1330.0,982.9 1331.0,982.4 1331.9,982.9 1332.8,983.7 1333.8,981.1 1334.7,984.3 1335.6,983.6 1336.6,980.6 1337.5,982.4 1338.4,984.3 1339.4,982.0 1340.3,982.9 1341.2,982.5 1342.2,982.2 1343.1,986.4 1344.0,981.6 1345.0,984.1 1345.9,984.7 1346.8,985.7 1347.8,985.8 1348.7,983.8 1349.6,983.5 1350.6,981.9 1351.5,986.0 1352.4,984.3 1353.4,983.6 1354.3,984.2 1355.2,985.3 1356.2,984.6 1357.1,981.6 1358.0,983.1 1359.0,983.4 1359.9,986.1 1360.8,981.7 1361.8,982.1 1362.7,981.5 1363.6,983.0 1364.6,983.6 1365.5,984.3 1366.4,983.5 1367.4,983.7 1368.3,983.3 1369.2,983.3 1370.2,982.0 1371.1,982.8 1372.0,980.8 1373.0,984.8 1373.9,984.2 1374.9,984.5 1375.8,980.8 1376.7,985.9 1377.7,982.9 1378.6,984.5 1379.5,983.2 1380.5,984.7 1381.4,983.1 1382.3,984.9 1383.3,985.1 1384.2,985.7 1385.1,984.2 1386.1,983.5 1387.0,981.5 1387.9,983.5 1388.9,980.3 1389.8,981.4 1390.7,982.3 1391.7,983.8 1392.6,981.3 1393.5,981.9 1394.5,980.4 1395.4,986.9 1396.3,981.7 1397.3,984.5 1398.2,985.2 1399.1,983.7 1400.1,984.5 1401.0,980.1 1401.9,985.6 1402.9,982.2 1403.8,982.4 1404.7,980.6 1405.7,983.8 1406.6,985.2 1407.5,982.6 1408.5,987.9 1409.4,983.1 1410.3,984.7 1411.3,980.6 1412.2,986.7 1413.1,984.6 1414.1,985.4 1415.0,983.6 1415.9,982.7 1416.9,983.5 1417.8,983.3 1418.7,982.2 1419.7,985.4 1420.6,985.2 1421.6,983.7 1422.5,984.5 1423.4,980.7 1424.4,982.8 1425.3,980.7 1426.2,984.7 1427.2,983.8 1428.1,986.5 1429.0,982.6 1430.0,980.1 1430.9,982.9 1431.8,982.3 1432.8,981.1 1433.7,987.3 1434.6,979.9 1435.6,980.8 1436.5,979.9 1437.4,983.2 1438.4,983.8 1439.3,984.1 1440.2,983.1 1441.2,984.9 1442.1,985.7 1443.0,986.1 1444.0,981.3 1444.9,983.9 1445.8,983.5 1446.8,984.0 1447.7,985.0 1448.6,982.8 1449.6,984.3 1450.5,984.1 1451.4,983.0 1452.4,981.8 1453.3,983.9 1454.2,981.4 1455.2,985.2 1456.1,982.9 1457.0,984.1 1458.0,982.0 1458.9,985.0 1459.8,984.3 1460.8,983.1 1461.7,984.6 1462.6,984.3 1463.6,981.8 1464.5,984.9 1465.4,979.8 1466.4,983.7 1467.3,979.8 1468.3,983.8 1469.2,979.7 1470.1,981.9 1471.1,983.7 1472.0,981.8 1472.9,984.2 1473.9,984.8 1474.8,981.6 1475.7,984.5 1476.7,982.0 1477.6,981.6 1478.5,981.9 1479.5,981.6 1480.4,986.2 1481.3,985.1 1482.3,983.2 1483.2,984.2 1484.1,983.1 1485.1,985.0 1486.0,981.3 1486.9,982.7 1487.9,982.9 1488.8,985.2 1489.7,986.4 1490.7,984.8 1491.6,982.1 1492.5,983.7 1493.5,986.4 1494.4,980.8 1495.3,979.6 1496.3,981.7 1497.2,981.2 1498.1,983.5 1499.1,980.7 1500.0,982.3 1500.9,983.6 1501.9,980.2 1502.8,983.4 1503.7,985.6 1504.7,981.6 1505.6,985.1 1506.5,982.5 1507.5,983.1 1508.4,988.8 1509.3,981.6 1510.3,985.3 1511.2,982.2 1512.1,981.2 1513.1,983.1 1514.0,983.1 1515.0,982.9 1515.9,984.8 1516.8,981.7 1517.8,983.5 1518.7,985.9 1519.6,983.7 1520.6,982.0 1521.5,982.5 1522.4,980.4 1523.4,981.2 1524.3,984.4 1525.2,985.9 1526.2,983.3 1527.1,983.4 1528.0,982.9 1529.0,983.2 1529.9,985.8 1530.8,984.0 1531.8,982.5 1532.7,984.0 1533.6,985.6 1534.6,983.9 1535.5,984.6 1536.4,985.7 1537.4,981.4 1538.3,985.3 1539.2,982.3 1540.2,982.0 1541.1,982.0 1542.0,981.8 1543.0,982.7 1543.9,983.7 1544.8,984.5 1545.8,984.7 1546.7,986.8 1547.6,983.5 1548.6,983.6 1549.5,982.8 1550.4,982.2 1551.4,983.4 1552.3,979.6 1553.2,980.6 1554.2,984.6 1555.1,983.8 1556.0,982.2 1557.0,984.7 1557.9,984.5 1558.8,980.7 1559.8,981.0 1560.7,986.4 1561.7,985.7 1562.6,984.3 1563.5,980.6 1564.5,983.0 1565.4,982.9 1566.3,983.1 1567.3,982.6 1568.2,982.9 1569.1,981.1 1570.1,982.0 1571.0,985.9 1571.9,985.0 1572.9,983.4 1573.8,982.7 1574.7,982.5 1575.7,983.7 1576.6,983.8 1577.5,981.2 1578.5,983.4 1579.4,983.3 1580.3,982.6 1581.3,985.1 1582.2,983.4 1583.1,985.4 1584.1,981.8 1585.0,983.6 1585.9,984.2 1586.9,983.0 1587.8,983.5 1588.7,983.6 1589.7,983.9 1590.6,983.7 1591.5,985.7 1592.5,982.9 1593.4,984.4 1594.3,983.2 1595.3,983.0 1596.2,982.0 1597.1,986.6 1598.1,983.5 1599.0,982.9 1599.9,981.5 1600.9,983.5 1601.8,981.7 1602.7,984.8 1603.7,980.4 1604.6,985.4 1605.5,978.4 1606.5,984.8 1607.4,981.3 1608.4,981.2 1609.3,983.3 1610.2,983.8 1611.2,983.3 1612.1,983.8 1613.0,983.1 1614.0,982.9 1614.9,984.0 1615.8,981.9 1616.8,981.9 1617.7,983.8 1618.6,985.4 1619.6,984.5 1620.5,980.5 1621.4,985.0 1622.4,982.1 1623.3,987.0 1624.2,985.3 1625.2,982.3 1626.1,983.2 1627.0,984.0 1628.0,982.5 1628.9,981.9 1629.8,980.9 1630.8,984.5 1631.7,982.7 1632.6,986.2 1633.6,983.3 1634.5,980.8 1635.4,980.5 1636.4,982.8 1637.3,983.0 1638.2,983.1 1639.2,986.4 1640.1,984.3 1641.0,983.4 1642.0,982.6 1642.9,980.4 1643.8,982.1 1644.8,980.7 1645.7,984.9 1646.6,983.7 1647.6,983.3 1648.5,982.7 1649.4,982.7 1650.4,985.6 1651.3,982.6 1652.2,981.1 1653.2,984.2 1654.1,981.8 1655.1,985.7 1656.0,984.9 1656.9,987.6 1657.9,983.4 1658.8,983.4 1659.7,986.3 1660.7,983.3 1661.6,981.9 1662.5,984.2 1663.5,985.3 1664.4,981.8 1665.3,981.8 1666.3,983.3 1667.2,984.4 1668.1,983.3 1669.1,983.5 1670.0,981.9 1670.9,980.7 1671.9,985.7 1672.8,984.5 1673.7,985.8 1674.7,984.2 1675.6,983.1 1676.5,986.4 1677.5,981.6 1678.4,983.1 1679.3,982.5 1680.3,986.1 1681.2,983.9 1682.1,981.6 1683.1,981.2 1684.0,986.1 1684.9,982.6 1685.9,984.1 1686.8,985.1 1687.7,985.1 1688.7,982.7 1689.6,981.3 1690.5,983.9 1691.5,984.7 1692.4,984.5 1693.3,988.5 1694.3,983.4 1695.2,983.1 1696.1,984.6 1697.1,985.1 1698.0,982.1 1698.9,983.8 1699.9,984.7 1700.8,981.4 1701.8,981.8 1702.7,982.6 1703.6,981.9 1704.6,981.3 1705.5,985.1 1706.4,983.8 1707.4,982.9 1708.3,980.0 1709.2,984.9 1710.2,987.1 1711.1,983.9 1712.0,982.3 1713.0,980.5 1713.9,981.8 1714.8,984.5 1715.8,981.3 1716.7,983.6 1717.6,982.6 1718.6,985.1 1719.5,980.9 1720.0,983.1 1720.4,982.1 1721.4,983.6 1722.3,986.4 1723.2,982.1 1724.2,985.5 1725.1,982.7 1726.0,982.4 1727.0,982.6 1727.9,981.3 1728.8,982.3 1729.8,980.8 1730.7,982.2 1731.6,978.8 1732.6,983.2 1733.5,981.7 1734.4,977.8 1735.4,977.6 1735.5,982.6 1736.3,982.1 1737.2,983.0 1738.2,977.1 1739.1,975.1 1740.0,977.4 1741.0,977.4 1741.9,977.9 1742.8,979.7 1743.8,975.8 1744.7,980.7 1745.6,978.2 1746.6,975.8 1747.5,978.1 1748.5,976.7 1749.4,980.5 1750.3,974.0 1751.0,978.5 1751.3,974.7 1752.2,976.0 1753.1,977.1 1754.1,972.5 1755.0,973.7 1755.9,972.3 1756.9,971.7 1757.8,971.1 1758.7,969.9 1758.8,967.8 1759.7,968.1 1760.6,966.5 1761.5,967.5 1762.5,963.8 1763.4,962.8 1763.4,960.1 1764.3,960.7 1765.3,955.4 1766.2,955.7 1767.1,953.8 1767.3,953.1 1768.1,954.6 1769.0,955.7 1769.9,955.3 1770.9,955.0 1771.8,959.5 1772.7,960.0 1772.8,958.8 1773.7,956.1 1774.6,959.7 1775.5,961.1 1776.5,960.9 1777.4,965.1 1778.2,963.8 1778.3,964.7 1779.3,967.1 1780.2,965.9 1781.1,968.2 1782.1,965.8 1783.0,968.3 1783.9,968.5 1784.9,969.8 1785.8,969.1 1786.7,969.5 1787.7,968.7 1788.6,972.0 1789.5,969.9 1789.8,966.9 1790.5,971.5 1791.4,972.4 1792.3,972.7 1793.3,973.9 1794.2,972.5 1795.2,977.8 1796.1,971.2 1797.0,976.6 1798.0,971.0 1798.9,973.7 1799.8,974.7 1800.8,978.0 1801.5,973.4 1801.7,974.7 1802.6,974.8 1803.6,975.2 1804.5,977.7 1805.4,975.4 1806.4,978.5 1807.3,975.9 1808.2,976.6 1809.2,978.0 1810.1,978.1 1811.0,979.8 1812.0,980.0 1812.9,980.3 1813.1,978.3 1813.8,978.8 1814.8,980.1 1815.7,978.8 1816.6,979.0 1817.6,979.7 1818.5,979.1 1819.4,982.0 1820.4,979.0 1821.3,979.0 1822.2,978.2 1823.2,980.5 1824.1,978.4 1824.7,981.9 1825.0,976.8 1826.0,980.7 1826.9,980.8 1827.8,981.4 1828.8,979.3 1829.7,980.9 1830.6,980.3 1831.6,980.9 1832.5,982.8 1833.4,982.2 1834.4,982.1 1835.3,980.7 1836.2,978.6 1837.2,980.3 1838.1,983.4 1839.0,980.9 1840.0,985.9 1840.9,980.0 1841.9,980.6 1842.8,983.8 1843.7,980.5 1844.1,981.6 1844.7,984.3 1845.6,980.5 1846.5,981.9 1847.5,983.9 1848.4,983.0 1849.3,980.8 1850.3,983.2 1851.2,979.1 1852.1,980.5 1853.1,979.3 1854.0,984.7 1854.9,980.2 1855.9,982.7 1856.8,979.1 1857.7,981.6 1858.7,981.5 1859.6,980.9 1860.5,980.0 1861.5,983.4 1862.4,982.7 1863.3,982.1 1864.3,981.6 1865.2,985.2 1866.1,982.3 1867.1,986.2 1868.0,983.4 1868.9,982.8 1869.9,982.5 1870.8,980.5 1871.7,981.6 1872.7,981.4 1873.6,981.1 1874.5,985.1 1875.5,983.6 1876.4,984.5 1877.3,981.6 1878.3,979.7 1879.2,981.4 1880.0,981.1 1880.1,983.2 1881.1,977.9 1882.0,983.5 1882.9,980.5 1883.9,980.8 1884.8,979.7 1885.7,980.5 1886.7,982.3 1887.6,981.5 1888.6,984.2 1889.5,982.0 1890.4,978.3 1891.4,979.6 1892.3,981.9 1893.2,982.7 1894.2,986.2 1895.1,981.6 1896.0,984.9 1897.0,982.8 1897.9,984.9 1898.8,983.8 1899.8,986.1 1900.7,983.1 1901.6,985.1 1902.6,982.3 1903.5,980.6 1904.4,982.1 1905.4,985.8 1906.3,982.8 1907.2,983.8 1908.2,980.5 1909.1,979.5 1910.0,983.2 1911.0,983.9 1911.9,981.9 1912.8,982.6 1913.8,984.6 1914.7,981.6 1915.6,980.8 1916.6,982.9 1917.5,986.0 1918.4,984.3 1919.4,982.3 1920.3,983.0 1921.2,980.8 1922.2,981.9 1923.1,984.3 1924.0,982.4 1925.0,980.3 1925.9,983.3 1926.8,980.9 1927.8,983.0 1928.7,979.9 1929.6,984.3 1930.6,982.1 1931.5,980.0 1932.4,983.5 1933.4,981.2 1934.3,984.3 1935.3,984.6 1936.2,983.6 1937.1,983.2 1938.1,982.1 1939.0,983.1 1939.9,982.1 1940.9,982.8 1941.8,983.7 1942.7,984.6 1943.7,982.9 1944.6,982.6 1945.5,980.0 1946.5,980.1 1947.4,984.5 1948.3,981.2 1949.3,981.7 1950.2,980.5 1951.1,982.6 1952.1,980.8 1953.0,981.9 1953.9,981.6 1954.9,982.3 1955.8,984.1 1956.7,982.4 1957.7,979.0 1958.6,985.7 1959.5,982.5 1960.5,984.1 1961.4,985.8 1962.3,981.7 1963.3,982.6 1964.2,983.4 1965.1,984.6 1966.1,983.7 1967.0,983.1 1967.9,982.4 1968.9,983.6 1969.8,981.4 1970.7,981.4 1971.7,981.0 1972.6,983.0 1973.5,980.3 1974.5,982.0 1975.4,980.6 1976.3,982.3 1977.3,982.3 1978.2,981.8 1979.1,987.1 1980.1,983.4 1981.0,981.7 1982.0,980.7 1982.9,978.1 1983.8,982.0 1984.8,980.0 1985.7,981.2 1986.6,980.1 1987.6,982.1 1988.5,981.6 1989.4,980.7 1990.4,982.7 1991.3,982.4 1992.2,984.7 1993.2,982.4 1994.1,982.9 1995.0,985.3 1996.0,980.6 1996.9,982.2 1997.8,980.1 1998.8,983.5 1999.7,979.3 2000.6,984.3 2001.6,979.8 2002.5,982.1"/><path stroke="#0000FF" d="M135.38 977.4V988.9M138.00 977.5V995.9M141.50 976.6V992.5M145.00 977.3V990.0M148.50 977.1V994.4M152.00 980.1V991.5M155.50 975.5V987.7M159.00 972.6V990.4M162.50 976.2V985.4M166.00 976.0V988.0M169.50 978.2V988.2M173.00 973.8V992.7M176.50 969.5V992.5M180.00 974.9V988.9M183.50 979.2V989.4M187.00 978.2V993.4M190.50 983.0V991.4M194.00 976.3V991.8M197.50 974.1V991.1M201.00 974.1V992.8M204.50 975.2V994.4M208.00 973.2V991.2M211.50 979.3V990.0M215.00 978.5V991.2M218.50 975.4V996.8M222.00 980.4V989.9M225.50 979.0V991.2M229.00 976.2V992.8M232.50 974.5V987.1M236.00 979.0V988.0M239.50 978.2V991.0M243.00 977.4V992.1M246.50 975.8V989.8M250.00 975.4V988.9M253.50 976.7V989.7M257.00 970.6V993.4M260.50 976.6V991.8M264.00 974.5V992.5M267.50 979.3V988.6M271.00 976.3V990.3M274.50 975.5V986.2M278.00 974.0V986.7M281.50 976.5V991.3M285.00 971.3V989.3M288.50 979.8V989.1M292.00 978.7V990.3M295.50 979.0V992.1M299.00 975.5V987.4M302.50 976.8V989.9M306.00 980.8V991.4M309.50 977.2V991.1M313.00 977.5V990.1M316.50 971.4V993.7M320.00 976.8V986.5M323.50 974.6V987.6M327.00 971.2V994.9M330.50 974.9V995.0M334.00 975.1V985.4M337.50 974.2V989.5M341.00 972.3V992.7M344.50 971.8V990.8M348.00 978.5V992.2M351.50 976.8V984.5M355.00 974.5V989.8M358.50 973.0V989.2M362.00 975.3V990.7M365.50 977.4V992.5M369.00 979.9V991.7M372.50 979.8V988.9M376.00 979.0V988.2M379.50 975.5V989.0M383.00 975.4V987.2M386.50 976.6V990.0M390.00 976.6V992.7M393.50 975.6V989.0M397.00 972.0V992.0M400.50 975.3V984.7M404.00 973.6V987.2M407.50 973.1V990.9M411.00 975.3V989.0M414.50 975.1V987.2M418.00 973.9V987.2M421.50 978.0V988.9M425.00 972.9V988.6M428.50 975.4V991.9M432.00 979.4V991.2M435.50 974.9V993.2M439.00 975.8V991.5M442.50 970.4V992.0M446.00 970.7V986.9M449.50 974.3V987.2M453.00 967.4V992.4M456.50 975.0V986.7M460.00 970.6V987.4M463.50 970.4V983.6M467.00 970.7V984.7M470.50 972.9V986.1M474.00 970.7V982.4M481.00 954.8V966.3M484.50 951.8V972.4M488.00 948.0V964.0M600.00 969.9V987.1M603.50 969.4V988.4M607.00 975.4V986.9M610.50 977.5V986.5M614.00 976.0V991.1M617.50 975.6V988.6M621.00 978.3V991.3M624.50 976.6V988.2M628.00 975.6V987.9M631.50 977.2V989.0M635.00 977.3V990.2M638.50 977.8V991.4M642.00 974.8V986.1M645.50 973.4V985.6M649.00 975.5V989.9M652.50 975.3V989.1M656.00 977.8V988.2M659.50 975.2V987.3M663.00 975.0V987.4M666.50 977.0V990.1M670.00 973.4V989.3M673.50 976.9V988.7M677.00 976.1V993.9M680.50 976.5V988.3M684.00 976.1V989.4M687.50 977.9V988.9M691.00 976.3V988.4M694.50 977.9V987.6M698.00 977.1V986.2M701.50 972.7V990.9M705.00 976.7V986.2M708.50 977.2V985.5M712.00 977.7V990.1M715.50 976.6V986.3M719.00 975.4V991.6M722.50 975.8V989.3M726.00 975.0V987.4M729.50 975.0V988.9M733.00 975.6V989.3M736.50 973.0V986.4M740.00 977.2V988.5M743.50 976.4V987.8M747.00 972.8V986.7M750.50 970.8V986.0M754.00 973.0V986.4M757.50 975.4V986.1M761.00 975.9V986.6M764.50 971.4V985.5M768.00 970.9V983.7M778.50 964.8V978.8M782.00 964.4V976.5M785.50 961.3V978.0M789.00 965.1V974.9M866.00 967.5V977.5M869.50 968.8V979.4M873.00 966.5V983.0M876.50 974.0V982.3M880.00 972.6V983.8M883.50 972.5V983.8M887.00 974.2V983.4M890.50 975.1V983.9M894.00 977.1V987.1M897.50 975.1V987.1M901.00 974.8V989.8M904.50 977.5V988.1M908.00 976.8V990.2M911.50 978.8V987.2M915.00 978.3V987.3M918.50 978.5V987.4M922.00 977.5V992.0M925.50 976.3V988.8M929.00 975.2V987.0M932.50 977.0V988.3M936.00 977.9V989.9M939.50 977.7V987.4M943.00 978.5V988.9M946.50 979.6V987.9M950.00 978.0V985.6M953.50 978.1V988.8M957.00 976.6V986.3M960.50 978.0V986.4M964.00 977.4V985.8M967.50 976.5V987.2M971.00 981.2V989.0M974.50 977.8V990.6M978.00 976.6V990.7M981.50 980.0V989.9M985.00 980.7V987.8M988.50 976.8V988.1M992.00 980.5V989.5M995.50 976.0V986.9M999.00 977.8V988.3M1002.50 978.6V988.7M1006.00 977.7V988.2M1009.50 979.2V987.5M1013.00 978.9V988.0M1016.50 978.1V988.5M1020.00 977.0V987.8M1023.50 976.7V988.0M1027.00 978.3V987.5M1030.50 976.2V987.0M1034.00 977.6V987.8M1037.50 980.3V988.0M1041.00 978.5V989.0M1044.50 978.7V988.5M1048.00 976.2V988.5M1051.50 977.9V986.0M1055.00 979.3V986.8M1058.50 980.3V989.6M1062.00 977.3V989.2M1065.50 977.0V990.0M1069.00 978.9V987.9M1072.50 976.5V988.9M1076.00 977.0V988.6M1079.50 980.1V987.3M1083.00 979.8V988.4M1086.50 976.5V985.8M1090.00 978.0V989.5M1093.50 978.4V991.1M1097.00 977.8V988.1M1100.50 979.4V988.0M1104.00 977.5V986.4M1107.50 979.7V987.9M1111.00 978.0V988.6M1114.50 978.1V988.6M1118.00 979.0V987.0M1121.50 980.3V988.8M1125.00 978.9V987.4M1128.50 979.8V987.3M1132.00 978.9V987.3M1135.50 979.6V988.4M1139.00 978.2V987.6M1142.50 976.6V987.5M1146.00 976.9V988.8M1149.50 978.2V988.9M1153.00 979.2V989.0M1156.50 976.5V987.5M1160.00 978.3V989.3M1163.50 978.3V987.4M1167.00 980.6V989.1M1170.50 977.6V990.0M1174.00 980.6V989.7M1177.50 981.4V988.1M1181.00 977.7V987.4M1184.50 978.4V988.7M1188.00 979.2V986.7M1191.50 976.4V988.1M1195.00 975.7V986.4M1198.50 978.1V989.3M1202.00 978.6V990.0M1205.50 979.6V991.3M1209.00 979.3V988.6M1212.50 979.7V988.1M1216.00 978.2V987.5M1219.50 977.5V987.3M1223.00 975.7V987.3M1226.50 977.9V987.9M1230.00 976.8V985.9M1233.50 979.2V989.0M1237.00 977.7V987.6M1240.50 979.1V989.9M1244.00 979.2V988.1M1247.50 979.8V988.2M1251.00 979.0V987.1M1254.50 979.6V989.8M1258.00 980.0V990.6M1261.50 979.8V987.7M1265.00 978.8V989.0M1268.50 978.4V988.9M1272.00 977.7V988.9M1275.50 977.5V989.6M1279.00 976.5V986.6M1282.50 974.3V988.1M1286.00 974.3V987.9M1289.50 978.3V987.0M1293.00 976.9V986.9M1296.50 978.0V986.0M1300.00 974.4V988.9M1303.50 979.6V987.9M1307.00 979.8V989.0M1310.50 978.4V988.9M1314.00 978.9V988.3M1317.50 979.1V988.9M1321.00 979.7V988.3M1324.50 979.4V989.8M1328.00 979.2V988.8M1331.50 979.4V986.7M1335.00 977.6V987.3M1338.50 978.0V987.3M1342.00 979.2V989.4M1345.50 978.6V988.8M1349.00 978.9V988.8M1352.50 979.7V989.0M1356.00 978.6V988.3M1359.50 978.7V989.1M1363.00 978.5V986.7M1366.50 980.4V987.3M1370.00 978.4V986.4M1373.50 977.8V987.8M1377.00 977.8V988.9M1380.50 980.1V987.7M1384.00 980.7V988.7M1387.50 977.3V986.7M1391.00 977.8V986.8M1394.50 977.4V989.9M1398.00 978.7V988.2M1401.50 977.1V988.6M1405.00 977.6V988.2M1408.50 979.6V990.9M1412.00 977.6V989.7M1415.50 979.7V988.4M1419.00 979.2V988.4M1422.50 977.7V988.0M1426.00 977.7V988.5M1429.50 977.1V989.5M1433.00 976.9V990.3M1436.50 976.9V986.7M1440.00 980.1V988.4M1443.50 978.3V989.1M1447.00 979.8V988.0M1450.50 978.9V987.3M1454.00 978.4V988.2M1457.50 979.0V988.0M1461.00 980.1V987.7M1464.50 976.8V987.9M1468.00 976.7V986.8M1471.50 978.0V987.4M1475.00 978.6V987.8M1478.50 978.6V988.5M1482.00 980.2V989.2M1485.50 978.3V988.0M1489.00 979.7V989.4M1492.50 978.8V989.4M1496.00 976.6V985.5M1499.50 977.7V986.6M1503.00 977.2V988.6M1506.50 978.9V990.8M1510.00 978.6V991.8M1513.50 978.2V986.5M1517.00 978.7V988.9M1520.50 977.8V988.7M1524.00 977.4V988.9M1527.50 979.9V987.4M1531.00 979.5V988.8M1534.50 980.9V988.6M1538.00 978.4V988.7M1541.50 978.8V986.0M1545.00 980.0V989.8M1548.50 979.4V989.7M1552.00 976.6V986.4M1555.50 979.2V987.7M1559.00 977.7V989.4M1562.50 977.6V989.4M1566.00 979.5V986.1M1569.50 978.1V988.9M1573.00 979.5V988.7M1576.50 978.2V986.8M1580.00 979.6V988.1M1583.50 978.8V988.4M1587.00 980.0V987.2M1590.50 980.6V988.7M1594.00 979.5V987.4M1597.50 979.0V989.6M1601.00 978.5V987.8M1604.50 975.4V988.4M1608.00 978.2V987.8M1611.50 980.0V986.8M1615.00 978.9V987.0M1618.50 978.6V988.4M1622.00 977.5V990.0M1625.50 979.3V989.2M1629.00 977.9V987.4M1632.50 978.5V989.2M1636.00 977.5V986.0M1639.50 980.0V989.4M1643.00 977.4V986.2M1646.50 977.7V987.9M1650.00 978.9V988.6M1653.50 978.1V988.7M1657.00 980.4V990.6M1660.50 978.9V989.3M1664.00 978.8V988.3M1667.50 979.5V987.4M1671.00 977.7V988.7M1674.50 980.1V988.8M1678.00 978.6V989.4M1681.50 978.2V989.1M1685.00 979.1V989.1M1688.50 978.3V988.1M1692.00 980.1V991.5M1695.50 980.1V989.3M1699.00 978.6V987.7M1702.50 978.4V985.6M1706.00 978.3V988.1M1709.50 977.0V990.1M1713.00 977.5V987.2M1716.50 978.3V987.5M1720.00 977.9V988.1M1723.50 979.1V989.4M1727.00 978.3V985.7M1730.50 975.8V985.3M1734.00 974.6V986.2M1737.50 972.1V986.0M1741.00 972.4V982.5M1744.50 972.8V983.7M1748.00 972.8V983.5M1769.00 950.1V958.7M1783.00 962.8V972.6M1786.50 965.7V973.7M1790.00 963.9V975.5M1793.50 969.5V980.8M1797.00 968.0V980.1M1800.50 970.3V981.0M1804.00 971.8V980.7M1807.50 972.9V981.5M1811.00 975.0V983.3M1814.50 975.3V983.3M1818.00 975.9V985.0M1821.50 975.2V984.0M1825.00 973.8V984.9M1828.50 976.3V984.4M1832.00 977.3V985.8M1835.50 975.6V985.2M1839.00 977.5V988.9M1842.50 977.0V986.8M1846.00 977.5V987.3M1849.50 976.1V986.6M1853.00 976.2V987.7M1856.50 976.1V985.7M1860.00 977.0V986.4M1863.50 978.6V988.2M1867.00 979.3V989.2M1870.50 977.5V985.9M1874.00 978.1V988.1M1877.50 976.7V987.5M1881.00 974.9V986.5M1884.50 976.7V984.5M1888.00 978.0V987.2M1891.50 975.3V985.8M1895.00 978.6V989.2M1898.50 979.8V989.1M1902.00 977.6V988.1M1905.50 978.0V988.8M1909.00 976.5V986.8M1912.50 978.9V987.6M1916.00 977.8V989.0M1919.50 977.8V988.5M1923.00 977.8V987.3M1926.50 977.3V986.3M1930.00 976.9V987.3M1933.50 977.9V987.6M1937.00 979.1V987.6M1940.50 979.1V987.1M1944.00 977.0V987.6M1947.50 977.0V987.5M1951.00 977.5V985.6M1954.50 978.6V987.1M1958.00 976.0V988.7M1961.50 978.7V988.8M1965.00 979.6V987.6M1968.50 978.4V986.6M1972.00 977.3V986.0M1975.50 977.6V985.3M1979.00 978.8V990.1M1982.50 975.1V985.2M1986.00 977.0V985.1M1989.50 977.7V985.7M1993.00 979.4V987.7M1996.50 977.1V988.3M2000.00 976.3V987.3M2002.38 977.2V985.1"/><path stroke="#FF00FF" stroke-width="4.6" stroke-linejoin="round" stroke-linecap="round" d="M134.5,821.3 135.4,809.5 136.4,803.5 137.3,824.5 138.2,810.1 139.2,809.5 140.1,814.7 141.0,816.6 142.0,809.8 142.9,809.2 143.8,806.5 144.8,812.2 145.7,799.1 146.6,803.2 147.6,807.7 148.5,809.3 149.4,810.2 150.0,805.9 150.4,808.6 151.3,799.9 152.2,803.0 153.2,812.8 154.1,812.2 155.0,805.0 156.0,810.8 156.9,804.9 157.8,815.1 158.8,803.2 159.7,812.3 160.7,806.9 161.6,815.3 162.5,808.2 163.5,804.1 164.4,814.1 165.3,808.3 166.3,812.9 167.2,809.1 168.1,818.8 169.1,801.3 170.0,811.9 170.9,814.0 171.9,806.4 172.8,817.6 173.7,810.1 174.7,815.2 175.6,806.5 176.5,808.3 177.5,806.6 178.4,819.3 179.3,804.6 180.3,812.8 181.2,810.0 182.1,808.4 183.1,806.4 184.0,808.2 184.9,808.9 185.9,816.9 186.8,807.6 187.7,813.5 188.7,815.9 189.6,812.7 190.5,813.1 191.5,808.0 192.4,807.2 193.3,816.0 194.3,806.9 195.2,804.9 196.1,810.1 197.1,810.5 198.0,803.5 198.9,812.0 199.9,809.2 200.8,807.3 201.7,809.0 202.7,808.7 203.6,805.1 204.5,802.0 205.5,805.5 206.4,802.5 207.4,809.9 208.3,812.5 209.2,809.2 210.2,810.4 211.1,809.3 212.0,810.0 213.0,810.2 213.9,812.4 214.8,805.3 215.8,812.9 216.7,806.8 217.6,812.2 218.6,809.6 219.5,809.1 220.4,810.4 221.4,816.9 222.3,809.0 223.2,810.8 224.2,815.1 225.1,810.4 226.0,816.9 227.0,809.2 227.9,800.6 228.8,804.7 229.8,806.8 230.7,812.9 231.6,815.4 232.6,804.5 233.5,810.5 234.4,810.7 235.4,804.1 236.3,805.0 237.2,809.1 238.2,807.2 239.1,807.0 240.0,798.2 241.0,815.4 241.9,815.8 242.8,815.0 243.8,809.9 244.7,811.8 245.6,808.1 246.6,808.0 247.5,814.1 248.4,799.3 249.4,806.8 250.3,811.7 251.2,812.0 252.2,807.2 253.1,809.0 254.1,812.8 255.0,811.6 255.9,809.2 256.9,812.5 257.8,808.4 258.7,806.1 259.7,807.5 260.6,814.9 261.5,814.6 262.5,812.3 263.4,810.0 264.3,806.7 265.3,818.1 266.2,813.3 267.1,812.3 268.1,809.0 269.0,809.9 269.9,813.7 270.9,810.0 271.8,809.8 272.7,807.0 273.7,803.0 274.6,804.8 275.5,806.4 276.5,809.3 277.4,806.7 278.3,813.7 279.3,809.4 280.2,808.1 281.1,806.8 282.1,815.3 283.0,809.6 283.9,809.5 284.9,803.5 285.8,805.0 286.7,803.9 287.7,809.4 288.6,809.1 289.5,810.8 290.5,811.9 291.4,812.3 292.3,809.8 293.3,811.4 294.2,810.2 295.1,807.9 296.1,810.4 297.0,809.6 297.9,804.9 298.9,811.6 299.8,806.3 300.0,810.7 300.8,805.9 301.7,810.6 302.6,813.4 303.6,811.0 304.5,804.4 305.4,814.2 306.4,809.0 307.3,808.1 308.2,814.2 309.2,814.1 310.1,815.6 311.0,796.4 312.0,807.7 312.9,806.2 313.8,811.2 314.8,811.5 315.7,819.5 316.6,807.9 317.6,813.7 318.5,814.5 319.4,808.7 320.4,812.3 321.3,810.6 322.2,814.1 323.2,803.6 324.1,808.4 325.0,813.7 326.0,804.6 326.9,803.3 327.8,810.7 328.8,814.3 329.7,808.9 330.6,812.4 331.6,809.0 332.5,806.6 333.4,808.4 334.4,807.6 335.3,813.3 336.2,804.7 337.2,810.2 338.1,811.2 339.0,808.9 340.0,809.2 340.9,815.3 341.8,809.3 342.8,808.0 343.7,812.1 344.6,806.3 345.6,812.5 346.5,818.5 347.5,810.1 348.4,816.0 349.3,804.1 350.3,809.1 351.2,810.7 352.1,810.4 353.1,809.2 354.0,801.4 354.9,810.7 355.9,802.6 356.8,810.0 357.7,811.4 358.7,803.6 359.6,808.2 360.5,810.3 361.5,804.7 362.4,805.7 363.3,806.9 364.3,811.0 365.2,807.3 366.1,812.4 367.1,809.0 368.0,805.6 368.9,805.3 369.9,807.3 370.8,807.4 371.7,810.3 372.7,808.4 373.6,809.6 374.5,807.5 375.5,806.9 376.4,808.5 377.3,805.4 378.3,803.1 379.2,810.4 380.1,803.5 381.1,803.7 382.0,811.2 382.9,810.0 383.9,801.4 384.8,803.4 385.7,810.2 386.7,813.6 387.6,811.8 388.5,806.7 389.5,806.3 390.4,805.8 391.3,812.7 392.3,815.0 393.2,809.6 394.2,808.7 395.1,803.2 396.0,814.4 397.0,803.5 397.9,808.8 398.8,807.2 399.8,814.5 400.7,806.5 401.6,811.9 402.6,809.1 403.5,807.2 404.4,806.1 405.4,814.0 406.3,801.2 407.2,809.7 408.2,804.3 409.1,811.7 410.0,806.9 411.0,806.8 411.9,809.1 412.8,805.5 413.8,806.0 414.7,808.5 415.6,812.5 416.6,809.7 417.5,812.6 418.4,810.9 419.4,805.5 420.3,805.0 421.2,806.4 422.2,812.2 423.1,811.3 424.0,808.9 425.0,815.2 425.9,805.0 426.8,807.0 427.8,809.4 428.7,815.7 429.6,809.5 430.6,810.2 431.5,812.0 432.4,808.6 433.4,807.8 434.3,804.8 435.2,807.6 436.2,813.2 437.1,810.9 438.0,812.4 439.0,810.2 439.9,806.5 440.9,808.7 441.8,808.1 442.7,811.2 443.7,812.2 444.6,807.2 445.5,802.6 446.5,809.9 447.4,809.8 448.3,811.5 449.3,800.8 450.0,805.5 450.2,804.6 451.1,810.4 452.1,806.9 453.0,804.2 453.9,808.7 454.9,810.4 455.8,809.5 456.7,806.9 457.7,808.7 458.6,812.1 459.5,808.9 460.5,809.3 461.4,802.7 462.3,805.3 463.3,802.7 464.2,808.0 465.0,806.6 465.1,809.1 466.1,804.9 467.0,801.5 467.9,808.6 468.9,798.8 469.8,803.6 470.7,804.0 471.7,806.5 472.6,805.1 473.5,799.6 474.5,797.7 475.4,800.7 476.3,798.9 476.5,792.7 477.3,799.3 478.2,797.1 479.1,796.5 480.1,797.3 481.0,798.9 481.9,793.3 482.9,795.2 483.8,794.9 484.7,786.5 485.7,790.0 486.6,783.6 487.6,787.1 488.5,791.7 489.4,788.7 489.7,786.3 490.4,779.9 491.3,781.7 492.2,781.0 493.2,777.2 494.1,785.5 495.0,777.5 496.0,774.8 496.9,780.9 497.8,782.9 498.8,777.6 499.7,773.9 500.3,770.9 500.6,768.7 501.6,772.4 502.5,769.1 503.4,762.5 504.4,765.1 505.3,768.7 506.2,766.3 507.2,759.8 508.1,760.1 508.3,755.1 509.0,757.0 510.0,756.3 510.9,751.6 511.8,745.6 512.8,740.7 513.6,737.5 513.7,737.5 514.6,734.6 515.6,725.7 516.5,715.8 517.4,710.6 518.4,710.4 519.3,692.2 519.4,695.0 520.2,683.4 521.2,665.4 522.0,662.2 522.1,658.7 523.0,642.7 524.0,633.3 524.2,630.3 524.9,616.6 525.8,602.0 526.8,588.4 526.8,585.4 527.7,565.5 528.6,546.6 529.5,526.2 529.6,518.0 530.5,507.5 531.4,485.4 532.2,476.4 532.4,477.1 533.3,490.1 534.3,506.5 534.5,507.5 535.2,519.3 536.1,531.7 537.0,542.0 537.1,540.7 538.0,562.8 538.9,574.8 539.9,594.8 540.5,604.9 540.8,609.2 541.7,621.8 542.7,635.9 543.6,645.2 544.2,657.8 544.5,654.0 545.5,668.0 546.4,669.5 547.3,674.2 548.0,679.9 548.3,677.4 549.2,690.8 550.1,692.1 551.1,694.6 552.0,702.4 552.9,709.6 553.9,713.6 554.8,711.1 555.7,719.4 556.0,719.9 556.7,724.3 557.6,731.9 558.5,737.2 559.5,736.5 560.4,741.6 561.3,744.9 562.3,743.5 563.2,751.2 563.9,747.9 564.1,746.4 565.1,759.5 566.0,758.6 566.9,754.0 567.9,759.1 568.8,763.3 569.7,765.4 570.7,766.7 571.6,767.8 572.5,772.6 573.5,767.3 574.4,772.2 574.5,771.9 575.3,772.3 576.3,773.3 577.2,775.9 578.1,782.7 579.1,779.6 580.0,778.1 581.0,783.8 581.9,781.3 582.8,783.1 583.8,786.8 584.7,788.5 585.6,789.4 586.6,785.5 587.5,786.1 587.7,787.1 588.4,791.1 589.4,794.3 590.3,796.1 591.2,789.9 592.2,792.8 593.1,795.2 594.0,796.1 595.0,790.0 595.9,795.9 596.8,792.0 597.8,800.4 598.7,803.8 599.6,802.4 600.6,800.4 601.5,801.7 602.4,800.0 603.4,802.6 603.6,804.9 604.3,805.9 605.2,799.2 606.2,805.4 607.1,805.7 608.0,799.7 609.0,803.9 609.9,800.8 610.8,805.3 611.8,806.4 612.7,805.8 613.6,805.4 614.6,797.0 615.5,802.6 616.4,804.6 617.4,803.2 618.3,801.3 619.2,806.7 620.0,808.4 620.2,809.3 621.1,807.5 622.0,811.8 623.0,815.6 623.9,809.0 624.8,810.2 625.8,805.4 626.7,810.3 627.7,802.4 628.6,809.3 629.5,807.6 630.5,808.2 631.4,805.0 632.3,810.9 633.3,810.7 634.2,808.5 635.1,807.5 636.1,813.6 637.0,808.8 637.9,815.1 638.9,807.4 639.8,809.3 640.7,810.3 641.7,815.3 642.6,808.0 643.5,811.1 644.5,806.5 645.4,806.2 646.3,805.0 647.3,807.3 648.2,807.9 649.1,802.2 650.0,805.8 650.1,806.2 651.0,811.3 651.9,810.7 652.9,809.6 653.8,810.0 654.7,817.1 655.7,808.9 656.6,806.8 657.5,812.3 658.5,811.6 659.4,808.4 660.3,808.2 661.3,809.8 662.2,810.0 663.1,812.9 664.1,807.4 665.0,807.3 665.9,808.1 666.9,811.8 667.8,814.0 668.7,806.2 669.7,805.6 670.6,814.5 671.5,812.5 672.5,808.6 673.4,816.5 674.4,805.1 675.3,811.8 676.2,810.7 677.2,805.9 678.1,809.7 679.0,807.2 680.0,811.0 680.9,811.9 681.8,807.4 682.8,813.9 683.7,810.6 684.6,808.5 685.6,809.1 686.5,808.8 687.4,815.0 688.4,805.2 689.3,807.8 690.2,809.5 691.2,815.7 692.1,810.2 693.0,807.6 694.0,808.2 694.9,812.8 695.8,806.9 696.8,814.0 697.7,807.3 698.6,803.6 699.6,806.3 700.0,809.7 700.5,806.5 701.4,808.9 702.4,811.7 703.3,812.0 704.2,809.3 705.2,808.8 706.1,809.8 707.0,807.8 708.0,811.1 708.9,810.3 709.8,807.2 710.8,805.5 711.7,810.1 712.6,812.1 713.6,809.0 714.5,812.7 715.4,806.1 716.4,804.8 717.3,810.3 718.2,812.3 719.2,810.9 720.1,810.1 721.1,804.7 722.0,813.9 722.9,806.3 723.9,815.2 724.8,821.2 725.7,811.5 726.7,810.2 727.6,807.6 728.5,810.9 729.5,805.2 730.4,813.5 731.3,808.4 732.3,815.0 733.2,809.5 734.1,808.3 735.1,806.7 736.0,811.1 736.9,812.5 737.9,810.4 738.8,806.8 739.7,811.2 740.7,810.9 741.6,809.2 742.5,811.2 743.5,809.1 744.4,810.9 745.3,806.8 746.3,811.6 747.2,814.2 748.1,812.1 749.1,811.4 750.0,809.5 750.9,810.3 751.9,810.9 752.8,808.1 753.7,808.7 754.7,808.5 755.6,804.9 756.5,808.9 757.5,808.2 758.4,811.8 759.3,806.4 760.3,807.1 761.2,802.0 762.1,808.0 763.1,809.3 764.0,811.6 764.9,809.5 765.9,804.5 766.8,808.4 767.8,808.4 768.7,801.3 769.6,802.6 770.0,804.5 770.6,803.6 771.5,807.4 772.4,810.6 773.4,805.2 774.3,806.8 775.2,804.6 776.2,806.7 777.1,804.4 778.0,803.2 779.0,804.0 779.9,807.9 780.8,804.6 780.8,804.7 781.8,796.9 782.7,808.1 783.6,804.7 784.6,802.0 785.5,807.1 786.4,801.7 787.4,802.1 788.3,806.3 789.2,799.6 790.2,798.6 791.1,799.3 791.7,803.1 792.0,800.4 793.0,801.4 793.9,802.4 794.8,795.0 795.8,799.1 796.7,798.1 797.6,797.2 798.6,800.1 799.5,792.6 800.3,792.6 800.4,791.4 801.4,793.3 802.3,790.9 803.2,787.9 804.2,788.2 805.1,790.8 806.0,786.0 807.0,791.5 807.9,784.5 808.3,789.0 808.8,788.0 809.8,780.9 810.7,782.7 811.6,779.6 812.6,775.9 813.4,769.2 813.5,770.4 814.5,771.5 815.4,771.0 816.3,761.8 817.0,761.2 817.3,765.2 818.2,756.6 819.1,743.3 819.9,743.8 820.1,745.4 821.0,733.0 821.9,727.2 822.0,728.1 822.9,723.3 823.8,718.1 824.6,722.1 824.7,720.5 825.7,724.6 826.6,725.4 827.5,729.5 827.8,732.8 828.5,734.5 829.4,747.7 830.0,750.2 830.3,754.6 831.3,764.2 831.4,762.6 832.2,762.7 833.1,763.4 834.1,761.2 835.0,761.7 835.9,769.9 836.9,765.4 837.8,766.3 838.6,766.2 838.7,771.2 839.7,767.6 840.6,778.2 841.5,777.8 842.3,779.4 842.5,781.4 843.4,780.2 844.3,779.0 845.3,783.3 846.2,779.7 847.1,785.5 848.1,786.7 849.0,787.2 849.5,782.2 849.9,783.1 850.9,787.7 851.8,791.7 852.7,790.0 853.7,786.4 854.6,789.7 855.5,793.2 856.5,790.4 856.7,786.2 857.4,790.2 858.3,795.4 859.3,797.0 860.2,795.6 861.2,797.5 862.1,798.4 863.0,798.2 864.0,795.5 864.9,800.1 865.8,800.2 866.1,804.1 866.8,796.9 867.7,800.8 868.6,801.5 869.6,796.3 870.5,800.0 871.4,803.7 872.4,801.1 873.3,805.1 874.2,807.6 875.2,804.7 876.1,800.8 877.0,801.4 878.0,803.6 878.4,804.7 878.9,797.1 879.8,802.4 880.8,804.7 881.7,804.1 882.6,804.9 883.6,806.3 884.5,804.4 885.4,804.5 886.4,806.4 887.3,805.7 888.2,805.7 889.2,805.7 890.1,803.4 891.0,805.2 892.0,810.1 892.9,805.9 893.8,806.8 894.8,803.3 895.7,810.2 896.6,802.4 897.6,805.2 898.5,810.9 899.4,804.9 900.0,805.5 900.4,807.0 901.3,810.3 902.2,808.3 903.2,801.5 904.1,807.4 905.0,807.1 906.0,806.6 906.9,809.2 907.9,805.0 908.8,804.4 909.7,804.1 910.7,804.3 911.6,805.9 912.5,804.2 913.5,808.3 914.4,806.1 915.3,807.6 916.3,808.6 917.2,811.4 918.1,802.8 919.1,808.8 920.0,806.1 920.9,805.1 921.9,806.6 922.8,807.6 923.7,807.3 924.7,805.8 925.6,806.5 926.5,808.5 927.5,805.9 928.4,808.4 929.3,805.9 930.3,807.7 931.2,804.2 932.1,810.8 933.1,806.2 934.0,808.0 934.9,810.0 935.9,807.9 936.8,802.7 937.7,802.5 938.7,802.7 939.6,808.2 940.5,803.7 941.5,807.2 942.4,803.2 943.3,806.4 944.3,808.0 945.2,805.0 946.1,807.7 947.1,807.0 948.0,807.4 948.9,805.2 949.9,805.9 950.8,809.2 951.7,805.3 952.7,809.5 953.6,802.8 954.6,807.4 955.5,806.9 956.4,807.5 957.4,804.8 958.3,805.3 959.2,807.0 960.2,810.0 961.1,808.2 962.0,805.4 963.0,807.8 963.9,806.3 964.8,807.1 965.8,803.1 966.7,804.3 967.6,804.1 968.6,810.5 969.5,810.7 970.4,805.5 971.4,803.8 972.3,805.7 973.2,805.2 974.2,804.4 975.1,806.3 976.0,810.6 977.0,808.7 977.9,808.5 978.8,808.5 979.8,804.2 980.7,804.8 981.6,808.1 982.6,804.3 983.5,807.7 984.4,806.0 985.4,809.0 986.3,808.5 987.2,809.5 988.2,806.4 989.1,807.8 990.0,805.1 991.0,806.2 991.9,804.8 992.8,807.0 993.8,807.9 994.7,806.2 995.6,806.5 996.6,807.4 997.5,806.0 998.4,806.0 999.4,807.5 1000.3,807.2 1001.3,809.2 1002.2,804.9 1003.1,804.9 1004.1,810.0 1005.0,805.9 1005.9,805.9 1006.9,803.5 1007.8,809.2 1008.7,805.4 1009.7,803.7 1010.6,807.9 1011.5,808.6 1012.5,804.9 1013.4,806.3 1014.3,803.1 1015.3,808.2 1016.2,801.3 1017.1,808.5 1018.1,807.6 1019.0,806.7 1019.9,808.4 1020.9,805.7 1021.8,802.4 1022.7,805.6 1023.7,804.5 1024.6,807.5 1025.5,808.9 1026.5,810.1 1027.4,805.3 1028.3,807.6 1029.3,807.3 1030.2,810.8 1031.1,805.4 1032.1,806.9 1033.0,805.8 1033.9,801.3 1034.9,805.1 1035.8,808.6 1036.7,806.2 1037.7,805.3 1038.6,803.0 1039.5,804.4 1040.5,807.5 1041.4,807.4 1042.3,807.3 1043.3,804.2 1044.2,806.4 1045.1,809.1 1046.1,806.0 1047.0,806.8 1048.0,804.7 1048.9,805.6 1049.8,805.6 1050.8,805.9 1051.7,806.5 1052.6,806.9 1053.6,807.9 1054.5,810.2 1055.4,804.7 1056.4,805.1 1057.3,808.1 1058.2,808.6 1059.2,806.4 1060.1,805.9 1061.0,809.5 1062.0,805.3 1062.9,806.2 1063.8,807.0 1064.8,808.9 1065.7,805.1 1066.6,810.5 1067.6,808.7 1068.5,808.6 1069.4,805.0 1070.4,805.4 1071.3,805.7 1072.2,805.5 1073.2,804.8 1074.1,808.5 1075.0,806.5 1076.0,807.0 1076.9,803.6 1077.8,806.2 1078.8,805.6 1079.7,808.4 1080.6,804.8 1081.6,807.4 1082.5,805.0 1083.4,806.9 1084.4,809.8 1085.3,806.1 1086.2,808.1 1087.2,807.6 1088.1,806.5 1089.0,807.1 1090.0,806.8 1090.9,811.2 1091.8,805.9 1092.8,807.0 1093.7,807.8 1094.7,805.6 1095.6,803.3 1096.5,804.7 1097.5,804.7 1098.4,804.9 1099.3,805.1 1100.0,806.1 1100.3,804.4 1101.2,810.1 1102.1,806.9 1103.1,806.7 1104.0,807.6 1104.9,803.0 1105.9,805.7 1106.8,806.0 1107.7,807.3 1108.7,806.4 1109.6,803.8 1110.5,804.3 1111.5,802.7 1112.4,807.6 1113.3,808.9 1114.3,804.7 1115.2,804.5 1116.1,809.9 1117.1,806.6 1118.0,805.2 1118.9,807.1 1119.9,805.4 1120.8,804.4 1121.7,807.4 1122.7,807.2 1123.6,807.3 1124.5,807.1 1125.5,806.3 1126.4,805.9 1127.3,807.4 1128.3,804.5 1129.2,805.0 1130.1,803.6 1131.1,809.9 1132.0,804.0 1132.9,806.7 1133.9,806.1 1134.8,808.1 1135.7,807.8 1136.7,806.4 1137.6,805.0 1138.5,807.1 1139.5,807.8 1140.4,805.2 1141.4,807.3 1142.3,807.0 1143.2,806.8 1144.2,807.9 1145.1,805.8 1146.0,807.0 1147.0,807.8 1147.9,809.8 1148.8,806.0 1149.8,805.4 1150.7,808.9 1151.6,810.1 1152.6,806.7 1153.5,810.1 1154.4,807.2 1155.4,804.1 1156.3,808.9 1157.2,803.9 1158.2,806.2 1159.1,809.2 1160.0,807.9 1161.0,804.6 1161.9,808.9 1162.8,805.3 1163.8,804.3 1164.7,805.3 1165.6,806.6 1166.6,807.4 1167.5,806.3 1168.4,808.3 1169.4,807.5 1170.3,806.0 1171.2,808.4 1172.2,806.4 1173.1,805.6 1174.0,807.7 1175.0,803.1 1175.9,809.8 1176.8,807.2 1177.8,808.7 1178.7,806.3 1179.6,802.8 1180.6,807.3 1181.5,804.7 1182.4,809.5 1183.4,807.4 1184.3,810.0 1185.2,808.3 1186.2,805.1 1187.1,805.7 1188.1,807.3 1189.0,808.3 1189.9,808.2 1190.9,806.6 1191.8,809.5 1192.7,807.4 1193.7,806.2 1194.6,806.3 1195.5,804.5 1196.5,807.9 1197.4,806.9 1198.3,808.7 1199.3,808.2 1200.2,809.4 1201.1,810.1 1202.1,802.7 1203.0,807.4 1203.9,806.3 1204.9,809.1 1205.8,807.4 1206.7,810.6 1207.7,807.6 1208.6,806.8 1209.5,805.4 1210.5,807.6 1211.4,805.6 1212.3,808.2 1213.3,806.1 1214.2,807.8 1215.1,808.4 1216.1,808.2 1217.0,805.4 1217.9,804.0 1218.9,808.6 1219.8,804.5 1220.7,810.1 1221.7,806.5 1222.6,805.6 1223.5,806.9 1224.5,808.3 1225.4,806.0 1226.3,807.7 1227.3,804.0 1228.2,807.2 1229.1,804.0 1230.1,806.3 1231.0,804.2 1231.9,807.2 1232.9,805.8 1233.8,805.8 1234.8,803.9 1235.7,806.0 1236.6,805.4 1237.6,807.8 1238.5,802.5 1239.4,805.5 1240.4,806.6 1241.3,801.9 1242.2,808.1 1243.2,806.3 1244.1,807.2 1245.0,805.4 1246.0,804.4 1246.9,806.3 1247.8,805.6 1248.8,808.8 1249.7,807.1 1250.6,805.9 1251.6,805.9 1252.5,804.5 1253.4,806.0 1254.4,804.5 1255.3,804.3 1256.2,808.9 1257.2,804.4 1258.1,804.2 1259.0,807.3 1260.0,807.5 1260.9,808.0 1261.8,805.3 1262.8,808.8 1263.7,806.9 1264.6,804.0 1265.6,804.6 1266.5,802.0 1267.4,802.5 1268.4,803.4 1269.3,805.9 1270.2,808.7 1271.2,806.8 1272.1,805.9 1273.0,805.8 1274.0,808.2 1274.9,807.7 1275.8,806.3 1276.8,807.6 1277.7,806.1 1278.6,807.3 1279.6,804.1 1280.5,806.5 1281.5,804.0 1282.4,807.4 1283.3,807.9 1284.3,806.6 1285.2,807.7 1286.1,807.6 1287.1,805.8 1288.0,806.4 1288.9,808.3 1289.9,807.7 1290.8,808.4 1291.7,811.3 1292.7,804.0 1293.6,807.3 1294.5,805.2 1295.5,807.2 1296.4,808.2 1297.3,806.6 1298.3,808.1 1299.2,806.9 1300.1,805.6 1301.1,805.7 1302.0,806.9 1302.9,806.5 1303.9,804.7 1304.8,807.7 1305.7,805.6 1306.7,806.6 1307.6,808.6 1308.5,806.4 1309.5,807.3 1310.4,805.1 1311.3,808.6 1312.3,805.8 1313.2,807.3 1314.1,805.4 1315.1,807.8 1316.0,809.2 1316.9,809.8 1317.9,807.3 1318.8,807.2 1319.7,806.8 1320.7,809.8 1321.6,808.6 1322.5,807.6 1323.5,806.3 1324.4,808.2 1325.3,808.7 1326.3,805.4 1327.2,809.1 1328.2,804.9 1329.1,805.9 1330.0,809.4 1331.0,806.1 1331.9,808.6 1332.8,808.2 1333.8,808.0 1334.7,806.9 1335.6,806.8 1336.6,807.0 1337.5,806.9 1338.4,809.1 1339.4,807.1 1340.3,804.9 1341.2,808.8 1342.2,806.6 1343.1,808.0 1344.0,806.4 1345.0,807.6 1345.9,806.3 1346.8,805.4 1347.8,806.7 1348.7,806.0 1349.6,807.0 1350.6,806.2 1351.5,804.5 1352.4,806.0 1353.4,806.3 1354.3,805.3 1355.2,807.9 1356.2,802.1 1357.1,807.4 1358.0,810.9 1359.0,805.7 1359.9,808.8 1360.8,806.4 1361.8,805.8 1362.7,807.4 1363.6,806.7 1364.6,807.7 1365.5,806.2 1366.4,807.2 1367.4,805.4 1368.3,807.1 1369.2,808.1 1370.2,807.7 1371.1,807.3 1372.0,808.0 1373.0,808.3 1373.9,809.4 1374.9,805.1 1375.8,806.2 1376.7,806.0 1377.7,806.1 1378.6,806.6 1379.5,806.1 1380.5,811.2 1381.4,807.9 1382.3,809.5 1383.3,805.6 1384.2,803.9 1385.1,809.6 1386.1,809.6 1387.0,810.3 1387.9,807.4 1388.9,804.1 1389.8,807.2 1390.7,807.9 1391.7,808.7 1392.6,809.1 1393.5,807.9 1394.5,806.4 1395.4,808.5 1396.3,809.4 1397.3,806.9 1398.2,810.6 1399.1,808.4 1400.1,806.4 1401.0,808.5 1401.9,808.8 1402.9,805.3 1403.8,809.2 1404.7,806.7 1405.7,808.4 1406.6,807.5 1407.5,806.4 1408.5,806.2 1409.4,804.3 1410.3,808.2 1411.3,806.3 1412.2,804.9 1413.1,806.6 1414.1,805.5 1415.0,805.5 1415.9,809.1 1416.9,807.8 1417.8,806.2 1418.7,807.3 1419.7,808.2 1420.6,807.9 1421.6,803.6 1422.5,803.6 1423.4,806.4 1424.4,807.0 1425.3,808.0 1426.2,807.2 1427.2,807.4 1428.1,807.1 1429.0,808.5 1430.0,806.7 1430.9,805.1 1431.8,808.6 1432.8,807.8 1433.7,805.8 1434.6,805.6 1435.6,807.0 1436.5,807.4 1437.4,806.6 1438.4,806.6 1439.3,806.1 1440.2,805.9 1441.2,806.1 1442.1,808.0 1443.0,803.8 1444.0,807.5 1444.9,805.3 1445.8,805.9 1446.8,809.2 1447.7,804.2 1448.6,806.9 1449.6,804.6 1450.5,806.8 1451.4,806.4 1452.4,806.9 1453.3,807.9 1454.2,803.8 1455.2,805.1 1456.1,810.2 1457.0,808.0 1458.0,809.8 1458.9,806.2 1459.8,809.9 1460.8,805.0 1461.7,807.9 1462.6,805.5 1463.6,809.4 1464.5,809.1 1465.4,805.1 1466.4,805.3 1467.3,807.8 1468.3,809.0 1469.2,810.5 1470.1,804.5 1471.1,804.7 1472.0,810.3 1472.9,804.0 1473.9,804.5 1474.8,809.7 1475.7,808.2 1476.7,807.3 1477.6,805.8 1478.5,804.4 1479.5,806.4 1480.4,809.1 1481.3,807.2 1482.3,809.8 1483.2,807.4 1484.1,808.7 1485.1,808.4 1486.0,805.4 1486.9,806.7 1487.9,806.1 1488.8,807.5 1489.7,805.4 1490.7,807.3 1491.6,808.0 1492.5,808.2 1493.5,809.9 1494.4,804.9 1495.3,806.6 1496.3,803.8 1497.2,805.9 1498.1,806.8 1499.1,807.2 1500.0,808.9 1500.0,805.7 1500.9,804.6 1501.9,807.0 1502.8,810.3 1503.7,808.3 1504.7,808.9 1505.6,809.4 1506.5,806.8 1507.5,807.6 1508.4,805.5 1509.3,807.5 1510.3,807.3 1511.2,807.9 1512.1,805.2 1513.1,807.5 1514.0,807.4 1515.0,807.4 1515.9,806.7 1516.8,805.8 1517.8,806.0 1518.7,804.7 1519.6,810.4 1520.6,808.7 1521.5,808.9 1522.4,805.5 1523.4,811.3 1524.3,808.8 1525.2,805.7 1526.2,808.2 1527.1,805.7 1528.0,805.4 1529.0,806.1 1529.9,804.8 1530.8,808.9 1531.8,803.9 1532.7,808.4 1533.6,805.8 1534.6,808.0 1535.5,807.6 1536.4,806.3 1537.4,809.2 1538.3,806.3 1539.2,807.8 1540.2,806.4 1541.1,807.0 1542.0,813.0 1543.0,807.5 1543.9,807.1 1544.8,806.1 1545.8,806.7 1546.7,804.5 1547.6,804.1 1548.6,807.2 1549.5,807.6 1550.4,804.1 1551.4,809.9 1552.3,807.5 1553.2,807.3 1554.2,807.5 1555.1,807.0 1556.0,808.9 1557.0,806.0 1557.9,806.8 1558.8,808.8 1559.8,804.9 1560.7,802.1 1561.7,804.3 1562.6,807.1 1563.5,805.5 1564.5,808.6 1565.4,804.2 1566.3,807.1 1567.3,806.2 1568.2,808.1 1569.1,802.0 1570.1,804.4 1571.0,809.9 1571.9,808.1 1572.9,808.1 1573.8,807.8 1574.7,806.1 1575.7,810.7 1576.6,806.7 1577.5,810.4 1578.5,808.1 1579.4,803.9 1580.3,808.9 1581.3,810.0 1582.2,807.1 1583.1,806.0 1584.1,803.8 1585.0,807.4 1585.9,805.2 1586.9,805.1 1587.8,808.5 1588.7,805.5 1589.7,807.1 1590.6,809.0 1591.5,805.2 1592.5,806.9 1593.4,807.2 1594.3,805.2 1595.3,807.0 1596.2,806.2 1597.1,805.1 1598.1,808.0 1599.0,807.7 1599.9,803.6 1600.9,806.2 1601.8,805.9 1602.7,806.0 1603.7,804.4 1604.6,811.1 1605.5,809.0 1606.5,805.0 1607.4,806.7 1608.4,804.3 1609.3,806.5 1610.2,803.5 1611.2,807.7 1612.1,805.2 1613.0,808.1 1614.0,808.4 1614.9,807.5 1615.8,808.1 1616.8,807.3 1617.7,809.5 1618.6,806.3 1619.6,807.3 1620.5,807.3 1621.4,806.5 1622.4,805.5 1623.3,806.9 1624.2,807.5 1625.2,807.1 1626.1,806.2 1627.0,808.3 1628.0,805.4 1628.9,806.0 1629.8,806.7 1630.8,806.6 1631.7,808.0 1632.6,805.9 1633.6,807.9 1634.5,807.6 1635.4,809.8 1636.4,805.1 1637.3,808.8 1638.2,805.3 1639.2,803.0 1640.1,805.6 1641.0,808.3 1642.0,805.4 1642.9,803.8 1643.8,805.3 1644.8,806.0 1645.7,805.4 1646.6,805.7 1647.6,805.8 1648.5,806.5 1649.4,806.6 1650.4,805.0 1651.3,804.4 1652.2,809.5 1653.2,809.2 1654.1,807.4 1655.1,807.2 1656.0,806.3 1656.9,805.9 1657.9,808.7 1658.8,807.4 1659.7,808.8 1660.7,806.4 1661.6,808.5 1662.5,805.3 1663.5,807.9 1664.4,806.8 1665.3,807.0 1666.3,806.9 1667.2,809.5 1668.1,808.2 1669.1,808.4 1670.0,808.5 1670.9,807.6 1671.9,808.4 1672.8,805.1 1673.7,805.0 1674.7,806.0 1675.6,808.7 1676.5,805.0 1677.5,806.6 1678.4,805.9 1679.3,809.1 1680.3,805.7 1681.2,808.7 1682.1,804.8 1683.1,805.1 1684.0,807.4 1684.9,808.8 1685.9,804.9 1686.8,804.2 1687.7,804.0 1688.7,804.5 1689.6,805.1 1690.5,804.7 1691.5,803.3 1692.4,803.8 1693.3,803.9 1694.3,806.0 1695.2,807.6 1696.1,807.1 1697.1,805.8 1698.0,803.7 1698.9,804.8 1699.9,804.8 1700.8,805.6 1701.8,806.7 1702.7,806.9 1703.6,809.2 1704.6,802.5 1705.5,808.0 1706.4,806.8 1707.4,806.0 1708.3,805.7 1709.2,810.5 1710.2,805.6 1711.1,806.6 1712.0,806.2 1713.0,808.6 1713.9,806.1 1714.8,809.5 1715.8,807.1 1716.7,804.4 1717.6,807.6 1718.6,806.3 1719.5,805.7 1720.0,807.5 1720.4,805.8 1721.4,806.4 1722.3,806.3 1723.2,807.6 1724.2,806.4 1725.1,801.3 1726.0,804.6 1727.0,804.3 1727.9,805.3 1728.8,803.5 1729.8,805.1 1730.7,804.1 1731.6,804.4 1732.6,800.7 1733.5,802.0 1734.4,805.0 1735.4,802.9 1735.5,807.0 1736.3,800.3 1737.2,801.6 1738.2,806.3 1739.1,805.6 1740.0,804.4 1741.0,798.6 1741.9,802.2 1742.8,803.5 1743.8,802.6 1744.7,802.2 1745.6,802.0 1746.6,801.3 1747.5,800.8 1748.5,801.4 1749.4,800.7 1750.3,801.9 1751.0,799.4 1751.3,803.8 1752.2,800.6 1753.1,799.9 1754.1,800.1 1755.0,800.2 1755.9,798.8 1756.9,797.9 1757.8,800.7 1758.7,798.3 1758.8,797.1 1759.7,798.6 1760.6,797.5 1761.5,795.5 1762.5,792.6 1763.4,788.5 1764.3,789.3 1765.0,787.7 1765.3,786.2 1766.2,785.3 1767.1,785.5 1768.1,783.0 1769.0,782.3 1769.9,782.7 1770.4,784.6 1770.9,782.3 1771.8,778.5 1772.7,779.6 1773.5,782.1 1773.7,778.0 1774.6,780.3 1775.5,782.0 1776.5,780.7 1777.4,778.9 1778.3,780.9 1779.0,783.8 1779.3,782.5 1780.2,786.0 1781.1,784.0 1782.1,786.7 1783.0,785.2 1783.9,789.2 1784.9,785.9 1785.8,786.5 1786.0,789.4 1786.7,787.6 1787.7,787.2 1788.6,791.8 1789.5,789.0 1790.5,789.8 1791.4,790.5 1792.3,793.5 1793.3,790.6 1794.2,794.1 1795.2,792.5 1796.1,792.2 1797.0,794.0 1797.6,791.3 1798.0,792.6 1798.9,795.4 1799.8,795.0 1800.8,796.1 1801.7,797.5 1802.6,795.7 1803.6,795.5 1804.5,796.3 1805.3,798.6 1805.4,796.3 1806.4,796.6 1807.3,800.5 1808.2,798.0 1809.2,798.0 1810.1,800.2 1811.0,798.4 1812.0,798.3 1812.9,799.4 1813.8,801.4 1814.8,802.7 1815.7,798.0 1816.6,801.6 1817.0,799.0 1817.6,804.3 1818.5,803.8 1819.4,802.2 1820.4,802.6 1821.3,804.7 1822.2,801.5 1823.2,797.3 1824.1,801.6 1825.0,802.3 1826.0,804.2 1826.9,802.2 1827.8,800.8 1828.8,805.3 1829.7,804.9 1830.6,806.5 1831.6,803.5 1832.5,805.9 1832.5,804.2 1833.4,806.6 1834.4,805.9 1835.3,807.7 1836.2,803.8 1837.2,807.7 1838.1,802.6 1839.0,809.4 1840.0,805.9 1840.9,806.8 1841.9,806.6 1842.8,806.2 1843.7,808.4 1844.7,805.8 1845.6,805.7 1846.5,809.3 1847.5,805.3 1848.4,806.1 1849.3,809.1 1850.3,806.8 1851.2,806.0 1851.9,808.7 1852.1,808.8 1853.1,807.2 1854.0,809.3 1854.9,807.4 1855.9,806.3 1856.8,807.7 1857.7,807.6 1858.7,804.6 1859.6,808.4 1860.5,806.8 1861.5,807.9 1862.4,807.8 1863.3,809.5 1864.3,805.6 1865.2,807.1 1866.1,810.4 1867.1,810.7 1868.0,809.2 1868.9,808.0 1869.9,809.0 1870.8,807.3 1871.7,806.5 1872.7,810.4 1873.6,805.4 1874.5,808.8 1875.5,808.3 1876.4,809.4 1877.3,804.3 1878.3,807.6 1879.2,809.5 1880.0,808.9 1880.1,811.7 1881.1,809.3 1882.0,808.1 1882.9,810.7 1883.9,808.8 1884.8,810.9 1885.7,812.7 1886.7,810.3 1887.6,807.1 1888.6,806.9 1889.5,808.9 1890.4,807.8 1891.4,808.0 1892.3,804.6 1893.2,812.1 1894.2,807.6 1895.1,809.5 1896.0,811.2 1897.0,812.0 1897.9,808.2 1898.8,811.6 1899.8,807.8 1900.7,810.1 1901.6,812.1 1902.6,807.0 1903.5,811.2 1904.4,806.2 1905.4,808.1 1906.3,809.3 1907.2,809.2 1908.2,808.2 1909.1,809.4 1910.0,812.2 1911.0,808.5 1911.9,810.0 1912.8,809.3 1913.8,807.4 1914.7,808.3 1915.6,807.7 1916.6,809.4 1917.5,809.8 1918.4,805.8 1919.4,809.5 1920.3,810.4 1921.2,810.5 1922.2,807.9 1923.1,808.9 1924.0,811.9 1925.0,808.4 1925.9,808.1 1926.8,810.2 1927.8,809.0 1928.7,810.1 1929.6,809.9 1930.6,807.1 1931.5,809.9 1932.4,812.7 1933.4,808.4 1934.3,810.4 1935.3,809.2 1936.2,809.3 1937.1,810.9 1938.1,808.1 1939.0,809.3 1939.9,809.6 1940.9,808.2 1941.8,807.4 1942.7,806.5 1943.7,809.5 1944.6,807.1 1945.5,809.8 1946.5,811.6 1947.4,809.5 1948.3,807.5 1949.3,811.7 1950.2,807.6 1951.1,809.6 1952.1,811.0 1953.0,809.5 1953.9,805.1 1954.9,809.7 1955.8,809.2 1956.7,807.5 1957.7,806.7 1958.6,807.1 1959.5,811.5 1960.5,809.2 1961.4,811.0 1962.3,805.7 1963.3,808.7 1964.2,809.2 1965.1,810.1 1966.1,806.0 1967.0,811.1 1967.9,808.3 1968.9,808.0 1969.8,810.8 1970.7,811.0 1971.7,808.7 1972.6,810.3 1973.5,808.6 1974.5,810.1 1975.4,808.2 1976.3,811.0 1977.3,810.9 1978.2,808.2 1979.1,810.2 1980.1,807.8 1981.0,811.3 1982.0,810.0 1982.9,809.8 1983.8,809.4 1984.8,809.0 1985.7,807.9 1986.6,812.2 1987.6,811.8 1988.5,808.8 1989.4,809.9 1990.4,811.2 1991.3,809.0 1992.2,808.2 1993.2,808.0 1994.1,809.2 1995.0,812.1 1996.0,807.4 1996.9,812.0 1997.8,806.8 1998.8,810.9 1999.7,808.7 2000.6,807.7 2001.6,809.7 2002.5,810.2"/><path stroke="#FF00FF" d="M135.38 801.3V824.3M138.00 800.5V827.5M141.50 805.2V819.6M145.00 796.1V815.2M148.50 800.7V813.2M152.00 796.9V815.8M155.50 801.9V815.4M159.00 800.2V818.1M162.50 801.1V818.3M166.00 805.3V817.9M169.50 798.3V821.8M173.00 803.4V820.6M176.50 803.5V820.3M180.00 801.6V822.3M183.50 803.4V814.6M187.00 804.6V819.9M190.50 804.4V818.6M194.00 801.9V819.0M197.50 800.5V815.0M201.00 804.3V814.1M204.50 799.0V811.4M208.00 799.5V815.5M211.50 806.3V813.9M215.00 802.3V815.9M218.50 804.1V815.2M222.00 806.0V819.9M225.50 803.6V819.9M229.00 797.6V816.0M232.50 801.5V818.4M236.00 801.1V813.7M239.50 795.2V818.5M243.00 806.9V818.8M246.50 799.4V817.1M250.00 796.3V815.0M253.50 804.2V815.8M257.00 803.1V815.5M260.50 803.2V817.9M264.00 803.7V821.1M267.50 806.0V818.6M271.00 804.0V816.7M274.50 800.0V811.6M278.00 803.7V816.7M281.50 803.8V818.3M285.00 800.5V812.5M288.50 800.9V814.7M292.00 806.8V815.3M295.50 804.9V813.8M299.00 801.9V814.6M302.50 802.9V816.4M306.00 801.4V817.2M309.50 793.4V818.6M313.00 796.1V814.5M316.50 804.9V822.5M320.00 805.7V817.5M323.50 800.6V817.1M327.00 800.3V817.2M330.50 804.3V817.3M334.00 803.6V816.3M337.50 801.7V814.2M341.00 805.1V818.3M344.50 803.3V819.8M348.00 801.1V821.5M351.50 803.4V813.7M355.00 798.4V813.7M358.50 800.6V814.4M362.00 801.7V813.3M365.50 804.3V815.4M369.00 802.3V811.3M372.50 804.4V813.3M376.00 801.4V811.5M379.50 800.1V813.4M383.00 798.4V814.2M386.50 800.3V816.6M390.00 802.8V816.7M393.50 800.2V818.0M397.00 800.5V817.4M400.50 803.5V817.5M404.00 803.1V817.0M407.50 798.2V814.7M411.00 802.8V813.9M414.50 802.5V815.5M418.00 802.3V815.6M421.50 802.0V815.2M425.00 802.0V818.2M428.50 803.8V818.7M432.00 803.6V815.0M435.50 801.8V816.2M439.00 803.5V815.4M442.50 805.1V815.2M446.00 799.6V813.5M449.50 797.8V814.5M453.00 801.2V813.2M456.50 803.9V813.8M460.00 799.7V815.1M463.50 799.7V812.1M467.00 797.1V811.6M603.50 796.2V808.9M607.00 796.3V808.7M610.50 797.8V809.4M614.00 794.0V809.1M617.50 798.3V809.7M621.00 803.7V817.7M624.50 802.4V818.6M628.00 799.4V813.3M631.50 802.0V813.9M635.00 804.5V816.6M638.50 804.4V818.1M642.00 805.0V818.3M645.50 802.0V813.0M649.00 799.2V812.9M652.50 806.6V816.4M656.00 803.8V820.1M659.50 805.2V815.1M663.00 804.3V815.9M666.50 804.3V817.0M670.00 802.6V817.5M673.50 802.1V819.5M677.00 802.9V814.8M680.50 804.2V814.9M684.00 805.5V816.9M687.50 802.2V818.0M691.00 804.6V818.7M694.50 803.9V815.8M698.00 800.6V817.0M701.50 803.5V815.0M705.00 805.4V815.0M708.50 803.5V814.1M712.00 802.5V815.1M715.50 801.8V815.7M719.00 803.4V815.3M722.50 801.7V820.7M726.00 804.6V824.2M729.50 802.2V816.5M733.00 804.3V818.0M736.50 803.7V815.5M740.00 803.8V814.2M743.50 804.2V814.2M747.00 803.8V817.2M750.50 806.5V814.6M754.00 801.9V812.8M757.50 802.5V814.8M761.00 799.0V811.8M764.50 801.5V814.6M768.00 798.3V811.4M771.50 800.3V813.6M775.00 801.6V809.8M778.50 800.2V810.9M782.00 793.9V811.1M785.50 798.7V810.1M789.00 795.6V809.3M869.50 793.3V806.0M873.00 798.1V810.6M876.50 797.8V809.0M880.00 794.1V807.7M883.50 801.1V809.3M887.00 801.5V809.4M890.50 800.4V813.1M894.00 800.3V813.2M897.50 799.4V813.9M901.00 801.7V813.3M904.50 798.5V810.4M908.00 801.1V812.2M911.50 801.1V810.4M915.00 803.1V813.1M918.50 799.8V814.4M922.00 802.1V810.6M925.50 802.8V811.5M929.00 802.9V811.4M932.50 801.2V813.8M936.00 799.5V813.0M939.50 799.5V811.2M943.00 800.2V811.0M946.50 802.0V810.7M950.00 802.2V812.2M953.50 799.8V812.5M957.00 801.8V810.5M960.50 802.4V813.0M964.00 800.1V810.8M967.50 800.1V813.7M971.00 800.8V813.7M974.50 801.4V813.6M978.00 801.3V813.1M981.50 801.2V811.1M985.00 803.0V812.0M988.50 802.1V812.5M992.00 801.8V810.9M995.50 803.2V810.9M999.00 803.0V811.1M1002.50 801.9V813.0M1006.00 800.5V812.1M1009.50 800.7V812.2M1013.00 800.1V811.6M1016.50 798.3V811.5M1020.00 799.6V811.4M1023.50 799.4V811.5M1027.00 802.3V813.1M1030.50 802.4V813.8M1034.00 798.3V811.3M1037.50 800.0V811.6M1041.00 800.9V810.5M1044.50 801.2V812.1M1048.00 801.7V809.8M1051.50 802.6V810.6M1055.00 801.7V813.2M1058.50 802.9V811.6M1062.00 802.3V812.5M1065.50 802.1V813.5M1069.00 802.0V812.3M1072.50 801.8V811.5M1076.00 800.6V811.2M1079.50 801.8V811.4M1083.00 802.0V812.8M1086.50 803.1V811.3M1090.00 803.5V814.2M1093.50 801.1V810.8M1097.00 800.3V808.0M1100.50 801.4V813.1M1104.00 800.0V810.6M1107.50 801.7V810.3M1111.00 799.7V811.1M1114.50 801.5V812.9M1118.00 802.2V812.5M1121.50 801.4V810.4M1125.00 802.9V810.3M1128.50 800.6V810.4M1132.00 801.0V812.9M1135.50 802.6V811.1M1139.00 802.0V810.8M1142.50 803.0V810.9M1146.00 802.8V812.5M1149.50 802.4V812.8M1153.00 803.1V813.1M1156.50 800.9V811.9M1160.00 801.6V812.2M1163.50 801.3V811.9M1167.00 803.0V811.3M1170.50 803.0V811.4M1174.00 800.1V811.7M1177.50 801.3V812.8M1181.00 799.8V812.5M1184.50 802.1V813.0M1188.00 802.2V811.3M1191.50 803.6V812.5M1195.00 801.5V810.9M1198.50 803.9V812.5M1202.00 799.7V813.1M1205.50 803.3V813.6M1209.00 802.4V811.9M1212.50 802.6V811.2M1216.00 801.3V811.4M1219.50 801.0V813.1M1223.00 802.6V811.3M1226.50 801.0V810.7M1230.00 801.0V810.1M1233.50 800.9V810.2M1237.00 799.5V810.8M1240.50 798.9V811.1M1244.00 801.6V811.0M1247.50 801.4V811.8M1251.00 801.5V810.9M1254.50 801.3V811.9M1258.00 801.2V811.8M1261.50 802.3V811.8M1265.00 799.0V810.8M1268.50 799.1V811.7M1272.00 802.8V811.7M1275.50 803.3V811.2M1279.00 801.1V810.3M1282.50 801.0V810.9M1286.00 802.8V810.7M1289.50 803.3V812.8M1293.00 801.0V814.3M1296.50 802.7V811.2M1300.00 802.6V811.1M1303.50 801.7V810.7M1307.00 802.6V811.6M1310.50 802.1V811.6M1314.00 802.4V811.8M1317.50 804.0V812.8M1321.00 803.8V812.8M1324.50 802.5V811.7M1328.00 801.9V812.1M1331.50 803.1V812.4M1335.00 803.8V811.1M1338.50 802.0V812.1M1342.00 801.9V811.8M1345.50 802.4V810.6M1349.00 802.9V810.0M1352.50 801.5V809.3M1356.00 799.1V812.8M1359.50 802.7V813.9M1363.00 802.8V810.7M1366.50 802.4V810.4M1370.00 804.0V811.1M1373.50 802.1V812.4M1377.00 802.6V809.6M1380.50 803.1V814.2M1384.00 800.9V812.6M1387.50 801.1V813.3M1391.00 802.4V812.1M1394.50 803.4V812.3M1398.00 803.9V813.6M1401.50 802.3V811.8M1405.00 803.7V812.2M1408.50 801.3V810.8M1412.00 801.9V811.2M1415.50 802.5V812.1M1419.00 803.2V811.2M1422.50 800.6V810.3M1426.00 803.9V811.0M1429.50 802.1V811.5M1433.00 802.6V811.6M1436.50 802.8V810.4M1440.00 802.9V810.3M1443.50 800.8V811.0M1447.00 801.2V812.2M1450.50 801.6V809.9M1454.00 800.8V811.2M1457.50 803.2V813.2M1461.00 802.0V812.9M1464.50 802.1V812.4M1468.00 802.3V813.5M1471.50 801.0V813.3M1475.00 801.1V812.7M1478.50 801.4V811.7M1482.00 804.2V812.8M1485.50 802.4V811.7M1489.00 802.4V810.5M1492.50 802.8V812.9M1496.00 800.8V809.6M1499.50 801.6V811.9M1503.00 802.4V813.3M1506.50 802.8V812.4M1510.00 802.5V810.9M1513.50 802.2V810.5M1517.00 801.7V810.2M1520.50 802.1V813.4M1524.00 802.5V814.3M1527.50 802.4V811.2M1531.00 800.9V811.9M1534.50 802.8V811.2M1538.00 803.3V812.2M1541.50 803.4V816.0M1545.00 801.5V810.4M1548.50 801.1V810.6M1552.00 801.1V812.9M1555.50 803.0V811.9M1559.00 799.1V811.8M1562.50 799.1V810.9M1566.00 801.2V811.6M1569.50 799.0V812.9M1573.00 803.1V812.4M1576.50 803.2V813.7M1580.00 800.9V813.0M1583.50 800.8V811.5M1587.00 802.1V811.5M1590.50 802.2V812.0M1594.00 802.2V810.2M1597.50 802.1V811.0M1601.00 800.6V809.6M1604.50 801.4V814.1M1608.00 801.3V809.7M1611.50 800.5V811.2M1615.00 804.4V811.4M1618.50 803.3V812.5M1622.00 802.5V810.3M1625.50 803.2V811.3M1629.00 802.4V810.6M1632.50 802.9V811.0M1636.00 802.1V812.8M1639.50 800.0V811.3M1643.00 800.8V810.6M1646.50 802.4V809.3M1650.00 801.4V809.8M1653.50 803.8V812.5M1657.00 802.9V811.7M1660.50 803.3V811.8M1664.00 802.3V810.9M1667.50 803.9V812.5M1671.00 802.3V811.5M1674.50 802.0V811.7M1678.00 802.0V812.1M1681.50 801.8V811.7M1685.00 801.2V811.8M1688.50 801.0V808.1M1692.00 800.3V807.8M1695.50 801.8V810.6M1699.00 800.7V808.6M1702.50 801.7V812.2M1706.00 799.5V811.0M1709.50 802.6V813.5M1713.00 803.1V812.2M1716.50 801.4V812.5M1720.00 802.7V810.5M1723.50 798.3V810.6M1727.00 798.8V808.3M1730.50 799.0V808.1M1734.00 797.7V810.0M1737.50 797.3V809.3M1741.00 795.6V808.4M1744.50 798.6V806.5M1748.00 797.7V804.6M1751.50 796.4V806.8M1755.00 795.0V803.2M1790.00 786.0V794.8M1793.50 787.6V797.1M1797.00 788.3V798.0M1800.50 792.0V800.5M1804.00 792.5V801.6M1807.50 793.4V803.5M1811.00 795.2V803.2M1814.50 795.0V805.7M1818.00 796.0V807.3M1821.50 794.3V807.7M1825.00 794.7V807.2M1828.50 797.8V808.8M1832.00 800.5V809.6M1835.50 800.8V810.7M1839.00 799.6V812.4M1842.50 803.2V811.4M1846.00 802.3V812.3M1849.50 802.6V812.1M1853.00 803.2V812.3M1856.50 802.9V810.8M1860.00 801.6V811.4M1863.50 802.6V812.5M1867.00 804.2V813.7M1870.50 803.5V812.0M1874.00 802.4V813.4M1877.50 801.3V812.5M1881.00 805.1V814.7M1884.50 805.8V815.7M1888.00 803.9V814.4M1891.50 801.6V815.1M1895.00 804.6V814.9M1898.50 804.8V815.0M1902.00 804.0V815.1M1905.50 803.2V812.8M1909.00 805.2V815.2M1912.50 804.4V813.0M1916.00 804.7V812.8M1919.50 802.8V813.5M1923.00 804.9V814.9M1926.50 805.1V813.2M1930.00 804.1V813.6M1933.50 805.4V815.7M1937.00 805.1V813.9M1940.50 804.0V812.6M1944.00 803.5V813.2M1947.50 804.5V814.6M1951.00 804.6V814.7M1954.50 802.1V812.9M1958.00 803.7V814.5M1961.50 802.7V814.0M1965.00 803.0V813.1M1968.50 805.0V814.1M1972.00 805.6V814.0M1975.50 805.2V814.0M1979.00 804.8V813.9M1982.50 806.2V814.3M1986.00 804.9V815.2M1989.50 805.8V814.2M1993.00 805.0V814.2M1996.50 803.8V815.1M2000.00 804.7V813.9M2002.38 806.8V813.2"/><path stroke="#808000" stroke-width="4.6" stroke-linejoin="round" stroke-linecap="round" d="M134.5,615.0 135.4,602.5 136.4,612.5 137.3,611.4 138.2,612.4 139.2,613.7 140.1,615.0 141.0,615.3 142.0,609.4 142.9,605.3 143.8,618.8 144.8,618.2 145.7,613.8 146.6,612.5 147.6,610.6 148.5,619.8 149.4,605.8 150.4,607.7 151.3,615.4 152.2,616.4 153.2,618.4 154.1,605.8 155.0,609.3 156.0,621.3 156.9,615.3 157.8,615.0 158.8,624.2 159.7,614.1 160.7,615.0 161.6,611.1 162.5,611.8 163.5,616.6 164.4,616.1 165.3,612.4 166.3,614.7 167.2,618.9 168.1,614.0 169.1,621.2 170.0,606.9 170.9,611.9 171.9,616.6 172.8,615.7 173.7,613.1 174.7,609.7 175.6,619.9 176.5,619.5 177.5,616.6 178.4,612.9 179.3,618.8 180.0,612.9 180.3,622.8 181.2,612.6 182.1,615.6 183.1,620.5 184.0,613.4 184.9,621.1 185.9,622.0 186.8,612.8 187.7,613.6 188.7,608.2 189.6,623.1 190.5,613.7 191.5,625.1 192.4,621.2 193.3,622.4 194.3,620.8 195.2,613.3 196.1,621.0 197.1,614.7 198.0,609.5 198.9,624.9 199.9,617.8 200.8,620.4 201.7,626.0 202.7,622.7 203.6,622.3 204.5,611.3 205.5,617.5 206.4,624.2 207.4,608.9 208.3,613.1 209.2,620.3 210.2,615.7 211.1,618.5 212.0,623.3 213.0,616.4 213.9,624.5 214.8,620.1 215.8,614.3 216.7,618.2 217.6,616.0 218.6,621.1 219.5,619.8 220.4,627.6 221.4,624.5 222.3,617.7 223.2,616.1 224.2,622.6 225.1,626.8 226.0,615.7 227.0,625.0 227.0,624.1 227.9,628.2 228.8,617.6 229.8,621.5 230.7,620.1 231.6,614.4 232.6,614.5 233.5,617.9 234.4,628.1 235.4,625.7 236.3,620.3 237.2,623.9 238.2,626.2 239.1,621.9 240.0,628.3 241.0,625.0 241.9,621.5 242.8,618.1 243.8,627.9 244.7,618.5 245.6,624.0 246.6,629.4 247.5,613.8 248.4,623.9 249.4,623.7 250.3,623.6 251.2,623.3 252.2,619.7 253.1,632.2 254.1,622.9 255.0,632.2 255.9,622.0 256.9,630.2 257.8,632.7 258.7,626.7 259.7,616.5 260.6,614.1 261.5,623.2 262.5,621.6 263.4,619.1 264.3,622.3 265.3,621.9 266.2,622.3 267.1,626.4 268.1,631.7 269.0,631.2 269.9,623.6 270.9,621.6 271.8,623.6 272.7,623.3 273.7,618.8 274.6,619.5 275.5,629.7 276.5,629.3 277.4,628.5 278.3,628.9 279.3,633.5 280.0,624.3 280.2,628.1 281.1,626.7 282.1,629.6 283.0,628.4 283.9,624.1 284.9,625.8 285.8,624.0 286.7,629.9 287.7,628.5 288.6,625.7 289.5,630.8 290.5,629.9 291.4,623.5 292.3,625.7 293.3,631.4 294.2,622.0 295.1,622.9 296.1,624.4 297.0,629.3 297.9,634.8 298.9,634.2 299.8,631.9 300.8,626.4 301.7,626.5 302.6,624.8 303.6,630.5 304.5,623.5 305.4,631.2 306.4,627.3 307.3,626.8 308.2,628.4 309.2,631.8 310.1,629.7 311.0,627.9 312.0,628.4 312.9,628.0 313.8,632.1 314.8,625.1 315.7,628.4 316.6,623.7 317.6,625.8 318.5,622.8 319.4,629.5 320.4,625.7 321.3,627.4 322.2,631.5 323.2,632.1 324.0,630.1 324.1,632.3 325.0,631.3 326.0,629.8 326.9,629.8 327.8,637.7 328.8,628.6 329.7,628.8 330.6,628.1 331.6,629.1 332.5,634.3 333.4,630.6 334.4,627.7 335.3,628.0 336.2,630.6 337.2,637.6 338.1,627.6 339.0,631.2 340.0,630.8 340.9,627.7 341.8,628.4 342.8,629.2 343.7,629.3 344.6,627.9 345.6,632.7 346.5,631.5 347.5,625.1 348.4,630.2 349.3,635.9 350.3,631.0 351.2,632.6 352.1,628.5 353.1,632.0 354.0,631.6 354.9,628.2 355.9,632.2 356.8,622.5 357.7,629.1 358.7,630.0 359.6,628.4 360.5,629.8 361.5,628.1 362.4,624.3 363.3,636.2 364.3,628.0 365.2,638.0 366.1,635.3 367.1,630.0 368.0,634.8 368.9,621.0 369.9,630.9 370.8,630.6 371.7,630.3 372.7,627.7 373.6,634.7 374.5,634.7 375.5,627.1 376.4,626.6 377.3,636.8 378.3,634.0 379.2,629.3 380.1,627.3 381.1,637.1 382.0,629.0 382.9,623.9 383.9,631.6 384.8,632.2 385.7,631.3 386.7,634.7 387.6,626.2 388.5,634.3 389.5,643.3 390.4,632.9 391.3,633.4 392.3,625.1 393.2,636.6 394.2,636.1 395.1,630.6 396.0,636.8 397.0,635.4 397.9,634.9 398.8,628.0 399.8,632.6 400.7,635.4 401.6,634.9 402.6,627.9 403.5,629.5 404.4,632.0 405.4,640.4 406.3,637.8 407.2,628.6 408.2,625.2 409.1,633.5 410.0,631.6 411.0,632.4 411.9,626.7 412.8,632.5 413.8,636.9 414.7,630.6 415.6,641.6 416.6,636.9 417.5,630.2 418.4,633.8 419.4,629.8 420.3,628.4 421.0,632.6 421.2,632.9 422.2,619.7 423.1,632.5 424.0,622.7 425.0,632.8 425.9,635.9 426.8,632.6 427.8,625.0 428.7,637.4 429.6,635.9 430.6,626.1 431.5,634.4 432.4,630.1 433.4,632.3 434.3,643.2 435.2,630.3 436.2,635.5 437.1,629.9 438.0,634.3 439.0,628.1 439.9,637.7 440.9,627.3 441.8,628.7 442.7,628.7 443.7,627.1 444.6,638.2 445.5,630.4 446.5,629.8 447.4,627.9 448.3,628.1 449.3,626.2 450.2,629.7 451.1,632.7 452.1,626.1 453.0,629.6 453.9,629.2 454.9,632.1 455.8,635.6 456.7,632.6 457.7,634.1 458.6,629.0 459.5,630.0 460.0,624.6 460.5,629.7 461.4,628.4 462.3,630.7 463.3,632.6 464.2,626.0 465.1,628.8 466.1,624.2 467.0,632.0 467.9,631.1 468.9,628.6 469.8,623.5 470.7,631.5 471.7,625.4 472.6,633.6 473.5,632.3 474.5,628.5 475.4,631.1 476.3,629.1 477.3,632.7 478.0,633.4 478.2,633.7 479.1,631.0 480.1,631.2 481.0,631.0 481.9,626.3 482.9,627.4 483.8,627.4 484.7,629.6 485.7,625.6 486.6,623.5 487.6,625.8 488.5,621.0 489.4,621.6 490.1,622.8 490.4,614.3 491.3,624.4 492.2,620.7 493.2,620.3 494.1,625.4 495.0,610.6 496.0,617.7 496.9,615.4 497.8,616.3 498.8,609.0 499.7,618.7 500.6,612.7 501.6,608.4 502.1,609.2 502.5,612.5 503.4,612.1 504.4,614.3 505.0,613.6 505.3,604.9 506.2,601.6 507.0,596.8 507.2,602.1 508.1,594.5 509.0,594.9 510.0,594.7 510.9,592.3 511.8,589.6 512.8,589.5 513.7,587.5 514.6,593.2 515.6,590.1 516.5,587.0 516.6,589.9 517.4,593.5 518.4,591.8 519.3,584.7 520.2,579.8 521.2,576.1 521.4,571.2 522.1,573.9 523.0,560.2 524.0,565.3 524.9,559.7 525.6,547.0 525.8,550.7 526.8,539.1 527.7,521.3 528.0,519.5 528.6,506.4 529.6,500.0 530.4,494.3 530.5,484.9 531.4,480.8 532.2,474.7 532.4,478.3 533.3,473.1 534.3,497.2 535.2,497.0 535.2,500.5 536.1,512.2 537.1,516.7 538.0,519.9 538.9,532.5 539.5,527.6 539.9,540.4 540.8,543.9 541.7,539.0 542.7,543.7 543.6,537.3 544.3,549.6 544.5,554.0 545.5,547.8 546.4,555.2 547.3,560.3 548.3,554.8 549.2,562.4 550.1,565.0 551.1,566.7 551.5,566.6 552.0,566.2 552.9,572.9 553.9,568.9 554.8,575.1 555.7,571.8 556.7,575.0 557.6,575.2 558.5,581.1 558.7,583.8 559.5,588.9 560.4,586.0 561.3,583.4 562.3,589.8 563.2,589.9 564.1,589.7 565.1,590.3 565.9,593.9 566.0,596.7 566.9,594.1 567.9,594.9 568.8,591.4 569.7,599.7 570.7,607.7 571.6,600.8 572.5,608.5 573.5,606.7 574.4,609.3 574.4,606.3 575.3,608.2 576.3,608.7 577.2,604.4 578.1,609.0 579.1,611.9 580.0,611.1 581.0,610.7 581.9,614.2 582.8,608.0 583.8,614.4 584.7,615.0 585.6,615.1 586.4,618.1 586.6,616.4 587.5,618.7 588.4,625.6 589.4,615.5 590.3,618.9 591.2,621.9 592.2,624.8 593.1,626.2 594.0,618.0 595.0,615.6 595.9,623.1 596.8,623.4 597.8,624.5 598.4,628.9 598.7,624.6 599.6,626.6 600.6,631.9 601.5,632.7 602.4,627.6 603.4,629.5 604.3,627.1 605.2,628.0 606.2,628.2 607.1,625.0 608.0,627.5 609.0,622.7 609.9,629.7 610.0,628.8 610.8,627.0 611.8,629.5 612.7,630.0 613.6,626.2 614.6,632.3 615.5,634.4 616.4,631.6 617.4,629.2 618.3,633.4 619.2,629.1 620.2,630.8 621.1,633.3 622.0,624.9 623.0,632.0 623.9,631.7 624.8,635.5 625.8,635.6 626.7,625.6 627.7,633.6 628.6,629.7 629.5,631.0 630.5,635.7 631.4,627.4 632.3,630.2 633.3,629.4 634.2,633.4 635.1,634.0 636.1,625.6 637.0,632.6 637.9,627.7 638.9,633.9 639.8,629.7 640.0,632.9 640.7,634.8 641.7,630.1 642.6,626.0 643.5,635.1 644.5,634.0 645.4,631.5 646.3,632.8 647.3,627.3 648.2,633.1 649.1,632.3 650.1,633.2 651.0,635.9 651.9,627.6 652.9,637.0 653.8,631.3 654.7,634.5 655.7,632.8 656.6,633.6 657.5,633.1 658.5,629.0 659.4,629.5 660.3,635.4 661.3,634.4 662.2,635.4 663.1,631.5 664.1,628.3 665.0,637.4 665.9,628.0 666.9,635.0 667.8,633.3 668.7,633.8 669.7,637.5 670.6,628.9 671.5,636.7 672.5,630.1 673.4,635.6 674.4,632.4 675.3,635.6 676.2,633.9 677.2,633.7 678.1,632.2 679.0,634.9 680.0,630.4 680.9,631.1 681.8,628.9 682.8,632.5 683.7,631.3 684.6,632.6 685.6,634.5 686.5,633.3 687.4,632.6 688.4,637.9 689.3,635.2 690.2,634.9 691.2,628.5 692.1,634.4 693.0,632.6 694.0,632.8 694.9,636.5 695.8,632.9 696.8,630.4 697.7,636.8 698.6,632.4 699.6,635.6 700.0,637.8 700.5,634.4 701.4,632.4 702.4,633.3 703.3,628.6 704.2,633.8 705.2,639.2 706.1,632.3 707.0,635.4 708.0,634.0 708.9,632.6 709.8,631.9 710.8,632.4 711.7,632.0 712.6,629.5 713.6,632.4 714.5,633.9 715.4,631.1 716.4,633.7 717.3,629.9 718.2,627.8 719.2,625.9 720.1,635.1 721.1,631.6 722.0,631.7 722.9,627.1 723.9,627.1 724.8,635.1 725.7,629.7 726.7,635.1 727.6,628.0 728.5,628.3 729.5,633.6 730.4,637.8 731.3,636.8 732.3,635.4 733.2,636.2 734.1,636.5 735.1,634.3 736.0,640.2 736.9,635.4 737.9,634.8 738.8,630.8 739.7,634.0 740.7,631.8 741.6,634.2 742.5,632.7 743.5,635.3 744.4,630.3 745.3,632.8 746.3,636.0 747.2,635.6 748.1,632.3 749.1,628.9 750.0,633.1 750.9,639.8 751.9,635.4 752.8,632.4 753.7,630.0 754.7,635.2 755.6,636.6 756.5,633.6 757.5,638.6 758.4,632.7 759.3,632.8 760.3,629.7 761.2,634.9 762.1,637.3 763.1,635.5 764.0,632.5 764.9,630.4 765.9,632.9 766.8,636.8 767.8,636.5 768.7,629.2 769.6,633.4 770.0,635.8 770.6,636.1 771.5,635.3 772.4,631.2 773.4,636.1 774.3,630.7 775.2,630.0 776.2,636.5 777.1,628.8 778.0,628.2 779.0,629.6 779.9,632.1 780.8,628.8 781.8,634.2 782.6,628.6 782.7,630.2 783.6,632.3 784.6,633.7 785.5,636.4 786.4,637.3 787.4,629.8 788.3,627.8 789.2,633.8 790.2,631.7 791.1,631.8 792.0,626.8 793.0,624.1 793.9,628.8 794.8,627.9 795.2,632.9 795.8,627.9 796.7,623.3 797.6,626.9 798.6,626.3 799.5,629.8 800.4,625.5 801.4,625.1 802.3,623.1 803.2,629.2 804.2,622.0 804.7,621.7 805.1,622.8 806.0,620.9 807.0,625.2 807.9,623.5 808.8,620.2 809.8,618.7 810.7,620.6 811.6,615.7 812.6,615.4 813.5,615.5 814.1,614.1 814.5,617.5 815.4,614.5 816.3,608.0 817.3,612.0 818.2,615.1 819.1,608.4 819.2,607.7 820.1,598.5 821.0,596.2 821.1,597.5 821.9,594.1 822.9,588.6 823.6,586.4 823.8,582.2 824.7,584.9 825.2,581.1 825.7,581.7 826.6,581.1 827.4,586.5 827.5,591.3 828.5,594.8 829.3,600.9 829.4,597.8 830.3,603.8 831.3,599.3 832.2,600.9 833.1,601.4 833.1,601.0 834.1,604.1 835.0,608.6 835.9,610.0 836.8,613.6 836.9,607.8 837.8,610.6 838.7,613.3 839.7,607.8 840.6,614.8 841.5,611.3 842.5,617.3 842.5,615.6 843.4,616.7 844.3,614.5 845.3,616.7 846.2,615.1 847.1,618.5 848.1,617.8 848.8,619.3 849.0,621.5 849.9,621.4 850.9,621.3 851.8,624.7 852.7,622.9 853.7,623.3 854.6,625.7 855.1,625.7 855.5,628.5 856.5,626.7 857.4,625.2 858.3,625.0 859.3,625.9 860.2,628.0 861.2,627.0 862.1,627.5 863.0,629.3 864.0,627.5 864.6,627.9 864.9,628.8 865.8,628.1 866.8,630.5 867.7,629.2 868.6,627.8 869.6,628.6 870.5,632.7 871.4,630.3 872.4,635.4 873.3,632.7 874.0,628.4 874.2,631.6 875.2,630.6 876.1,632.7 877.0,632.6 878.0,630.4 878.9,633.7 879.8,631.4 880.8,630.0 881.7,635.7 882.6,628.4 883.6,631.4 884.5,637.1 885.4,634.6 886.4,634.3 887.3,634.7 888.2,629.6 889.2,634.5 890.1,630.0 891.0,633.7 892.0,628.9 892.9,629.3 893.8,634.3 894.8,633.6 895.7,630.0 896.6,629.7 897.6,629.4 898.5,634.0 899.4,630.7 900.0,632.4 900.4,629.5 901.3,631.4 902.2,633.8 903.2,631.8 904.1,632.7 905.0,628.7 906.0,633.2 906.9,632.7 907.9,634.1 908.8,634.8 909.7,635.7 910.7,632.7 911.6,630.6 912.5,632.0 913.5,631.1 914.4,633.1 915.3,630.2 916.3,633.2 917.2,633.6 918.1,627.8 919.1,630.1 920.0,634.8 920.9,631.5 921.9,633.1 922.8,631.5 923.7,632.7 924.7,633.9 925.6,632.7 926.5,635.6 927.5,628.8 928.4,634.6 929.3,633.0 930.3,632.5 931.2,631.1 932.1,631.8 933.1,632.2 934.0,632.7 934.9,635.6 935.9,632.7 936.8,635.9 937.7,633.4 938.7,630.4 939.6,632.4 940.5,630.7 941.5,637.3 942.4,632.3 943.3,633.5 944.3,632.6 945.2,636.0 946.1,635.1 947.1,631.9 948.0,632.3 948.9,627.6 949.9,630.7 950.8,629.1 951.7,637.6 952.7,629.7 953.6,633.4 954.6,630.8 955.5,634.5 956.4,632.3 957.4,633.9 958.3,630.4 959.2,630.5 960.2,631.5 961.1,629.4 962.0,631.1 963.0,633.9 963.9,633.3 964.8,631.9 965.8,632.8 966.7,631.0 967.6,633.6 968.6,634.6 969.5,630.7 970.4,633.9 971.4,630.5 972.3,636.4 973.2,632.9 974.2,634.0 975.1,630.2 976.0,633.6 977.0,633.9 977.9,632.5 978.8,630.0 979.8,632.6 980.7,632.2 981.6,633.6 982.6,632.2 983.5,631.8 984.4,629.6 985.4,630.9 986.3,632.0 987.2,631.3 988.2,630.9 989.1,632.6 990.0,632.7 991.0,633.4 991.9,633.3 992.8,629.8 993.8,630.2 994.7,633.0 995.6,634.1 996.6,636.9 997.5,632.7 998.4,632.2 999.4,633.5 1000.3,633.5 1001.3,634.5 1002.2,630.2 1003.1,630.7 1004.1,633.4 1005.0,634.5 1005.9,633.6 1006.9,633.7 1007.8,634.4 1008.7,632.4 1009.7,631.4 1010.6,632.2 1011.5,630.7 1012.5,634.0 1013.4,631.1 1014.3,634.8 1015.3,630.8 1016.2,634.7 1017.1,632.1 1018.1,633.4 1019.0,631.1 1019.9,633.9 1020.9,638.5 1021.8,634.9 1022.7,632.7 1023.7,636.6 1024.6,635.5 1025.5,633.3 1026.5,629.8 1027.4,633.8 1028.3,634.3 1029.3,634.1 1030.2,632.5 1031.1,633.6 1032.1,632.9 1033.0,636.9 1033.9,633.2 1034.9,629.4 1035.8,631.2 1036.7,633.5 1037.7,633.3 1038.6,635.1 1039.5,636.0 1040.5,631.3 1041.4,635.3 1042.3,632.1 1043.3,631.8 1044.2,633.6 1045.1,634.4 1046.1,633.2 1047.0,629.8 1048.0,633.3 1048.9,632.3 1049.8,633.2 1050.8,631.6 1051.7,635.4 1052.6,634.1 1053.6,631.0 1054.5,636.2 1055.4,631.6 1056.4,631.7 1057.3,632.3 1058.2,632.6 1059.2,634.9 1060.1,630.4 1061.0,632.8 1062.0,630.3 1062.9,633.6 1063.8,633.4 1064.8,634.7 1065.7,633.7 1066.6,632.9 1067.6,630.9 1068.5,634.7 1069.4,630.9 1070.4,634.6 1071.3,631.6 1072.2,631.8 1073.2,634.4 1074.1,634.8 1075.0,636.6 1076.0,634.3 1076.9,633.9 1077.8,633.7 1078.8,634.0 1079.7,632.7 1080.6,637.1 1081.6,632.5 1082.5,633.7 1083.4,633.9 1084.4,633.0 1085.3,635.9 1086.2,631.4 1087.2,635.4 1088.1,635.4 1089.0,629.8 1090.0,633.1 1090.9,634.2 1091.8,635.5 1092.8,631.8 1093.7,636.5 1094.7,634.3 1095.6,632.4 1096.5,634.2 1097.5,631.1 1098.4,634.7 1099.3,636.6 1100.0,634.6 1100.3,631.3 1101.2,632.4 1102.1,633.8 1103.1,632.0 1104.0,633.4 1104.9,634.7 1105.9,634.7 1106.8,633.5 1107.7,634.0 1108.7,635.8 1109.6,631.4 1110.5,634.9 1111.5,633.1 1112.4,636.0 1113.3,635.8 1114.3,635.4 1115.2,633.2 1116.1,634.8 1117.1,632.3 1118.0,634.2 1118.9,634.0 1119.9,633.4 1120.8,632.0 1121.7,634.6 1122.7,638.6 1123.6,633.8 1124.5,632.2 1125.5,631.7 1126.4,638.5 1127.3,635.2 1128.3,634.0 1129.2,630.5 1130.1,634.5 1131.1,633.0 1132.0,634.6 1132.9,637.7 1133.9,633.1 1134.8,635.6 1135.7,631.8 1136.7,633.9 1137.6,632.3 1138.5,631.1 1139.5,631.7 1140.4,633.6 1141.4,632.3 1142.3,632.0 1143.2,634.4 1144.2,634.7 1145.1,633.4 1146.0,633.8 1147.0,633.4 1147.9,628.0 1148.8,631.6 1149.8,632.4 1150.7,635.2 1151.6,635.2 1152.6,634.1 1153.5,634.6 1154.4,633.1 1155.4,631.2 1156.3,635.1 1157.2,633.1 1158.2,635.4 1159.1,633.0 1160.0,635.2 1161.0,634.0 1161.9,634.8 1162.8,636.2 1163.8,636.0 1164.7,632.3 1165.6,634.3 1166.6,631.1 1167.5,636.5 1168.4,634.0 1169.4,634.0 1170.3,635.5 1171.2,634.6 1172.2,635.1 1173.1,633.7 1174.0,633.0 1175.0,632.4 1175.9,634.7 1176.8,634.5 1177.8,635.5 1178.7,633.1 1179.6,636.0 1180.6,635.0 1181.5,634.0 1182.4,633.4 1183.4,631.6 1184.3,634.9 1185.2,635.6 1186.2,632.5 1187.1,634.3 1188.1,636.8 1189.0,633.8 1189.9,633.0 1190.9,632.1 1191.8,635.7 1192.7,635.3 1193.7,633.7 1194.6,633.6 1195.5,634.4 1196.5,633.9 1197.4,634.9 1198.3,634.9 1199.3,630.2 1200.2,632.1 1201.1,632.1 1202.1,636.3 1203.0,633.9 1203.9,632.8 1204.9,635.8 1205.8,634.6 1206.7,630.8 1207.7,633.4 1208.6,634.7 1209.5,632.7 1210.5,633.6 1211.4,633.5 1212.3,633.6 1213.3,635.7 1214.2,633.0 1215.1,634.9 1216.1,631.7 1217.0,634.2 1217.9,634.1 1218.9,633.6 1219.8,631.4 1220.7,631.3 1221.7,633.1 1222.6,633.3 1223.5,635.9 1224.5,635.3 1225.4,633.5 1226.3,632.7 1227.3,634.5 1228.2,631.6 1229.1,635.7 1230.1,631.7 1231.0,632.1 1231.9,634.1 1232.9,634.5 1233.8,632.4 1234.8,635.9 1235.7,633.2 1236.6,634.4 1237.6,634.1 1238.5,633.2 1239.4,633.9 1240.4,635.5 1241.3,632.6 1242.2,636.0 1243.2,633.1 1244.1,633.7 1245.0,632.4 1246.0,633.0 1246.9,633.6 1247.8,631.9 1248.8,637.7 1249.7,633.2 1250.6,630.9 1251.6,631.9 1252.5,632.9 1253.4,634.1 1254.4,636.2 1255.3,634.9 1256.2,635.6 1257.2,633.3 1258.1,631.6 1259.0,634.2 1260.0,633.7 1260.9,634.4 1261.8,638.1 1262.8,635.4 1263.7,637.7 1264.6,632.9 1265.6,632.4 1266.5,634.5 1267.4,632.8 1268.4,633.1 1269.3,635.5 1270.2,634.0 1271.2,635.0 1272.1,636.3 1273.0,634.4 1274.0,634.5 1274.9,634.9 1275.8,631.9 1276.8,634.9 1277.7,634.6 1278.6,632.9 1279.6,633.4 1280.5,632.1 1281.5,634.1 1282.4,631.8 1283.3,633.7 1284.3,634.4 1285.2,633.9 1286.1,635.1 1287.1,633.9 1288.0,632.8 1288.9,631.4 1289.9,634.8 1290.8,635.7 1291.7,634.7 1292.7,632.1 1293.6,634.1 1294.5,631.2 1295.5,634.9 1296.4,633.2 1297.3,629.8 1298.3,634.0 1299.2,632.2 1300.1,634.6 1301.1,632.3 1302.0,635.2 1302.9,633.9 1303.9,632.8 1304.8,633.8 1305.7,633.2 1306.7,633.3 1307.6,631.2 1308.5,636.3 1309.5,633.2 1310.4,632.5 1311.3,632.2 1312.3,633.7 1313.2,632.8 1314.1,632.6 1315.1,636.2 1316.0,634.4 1316.9,636.5 1317.9,634.1 1318.8,632.5 1319.7,631.5 1320.7,632.1 1321.6,633.6 1322.5,634.3 1323.5,635.8 1324.4,632.8 1325.3,633.6 1326.3,634.9 1327.2,632.5 1328.2,632.2 1329.1,634.9 1330.0,635.2 1331.0,635.2 1331.9,634.4 1332.8,632.7 1333.8,632.8 1334.7,634.2 1335.6,633.0 1336.6,634.8 1337.5,634.3 1338.4,637.1 1339.4,633.4 1340.3,634.4 1341.2,633.7 1342.2,631.2 1343.1,636.9 1344.0,632.2 1345.0,636.9 1345.9,635.2 1346.8,631.6 1347.8,632.2 1348.7,634.6 1349.6,632.8 1350.6,633.3 1351.5,633.2 1352.4,636.8 1353.4,634.3 1354.3,635.1 1355.2,633.8 1356.2,633.9 1357.1,636.1 1358.0,631.9 1359.0,634.2 1359.9,633.8 1360.8,634.7 1361.8,633.6 1362.7,633.4 1363.6,635.5 1364.6,633.7 1365.5,633.6 1366.4,633.7 1367.4,631.3 1368.3,632.0 1369.2,634.1 1370.2,635.7 1371.1,635.3 1372.0,634.8 1373.0,635.6 1373.9,633.5 1374.9,637.7 1375.8,631.9 1376.7,633.9 1377.7,633.5 1378.6,635.3 1379.5,635.7 1380.5,633.7 1381.4,636.6 1382.3,633.9 1383.3,633.3 1384.2,637.0 1385.1,633.2 1386.1,633.0 1387.0,635.5 1387.9,633.6 1388.9,634.6 1389.8,632.1 1390.7,633.0 1391.7,632.8 1392.6,632.9 1393.5,636.7 1394.5,636.0 1395.4,635.1 1396.3,635.4 1397.3,635.1 1398.2,633.3 1399.1,635.5 1400.1,632.9 1401.0,633.3 1401.9,634.9 1402.9,636.6 1403.8,633.5 1404.7,633.9 1405.7,633.3 1406.6,634.5 1407.5,635.8 1408.5,634.9 1409.4,631.0 1410.3,634.7 1411.3,635.4 1412.2,632.9 1413.1,634.3 1414.1,635.8 1415.0,634.6 1415.9,637.5 1416.9,633.3 1417.8,635.0 1418.7,634.0 1419.7,634.4 1420.6,636.3 1421.6,634.3 1422.5,633.9 1423.4,635.3 1424.4,637.8 1425.3,631.8 1426.2,631.9 1427.2,635.0 1428.1,635.1 1429.0,637.3 1430.0,632.1 1430.9,634.1 1431.8,637.3 1432.8,635.7 1433.7,633.9 1434.6,631.5 1435.6,631.6 1436.5,636.2 1437.4,634.6 1438.4,632.9 1439.3,632.6 1440.2,633.2 1441.2,637.5 1442.1,633.3 1443.0,636.2 1444.0,636.9 1444.9,632.9 1445.8,635.2 1446.8,637.1 1447.7,632.5 1448.6,633.2 1449.6,632.0 1450.5,634.3 1451.4,635.6 1452.4,635.0 1453.3,634.0 1454.2,635.9 1455.2,633.3 1456.1,632.6 1457.0,634.5 1458.0,634.9 1458.9,634.9 1459.8,634.6 1460.8,637.3 1461.7,632.2 1462.6,635.2 1463.6,634.4 1464.5,635.4 1465.4,632.8 1466.4,633.8 1467.3,632.6 1468.3,631.6 1469.2,635.3 1470.1,628.6 1471.1,633.8 1472.0,637.0 1472.9,635.4 1473.9,635.4 1474.8,633.7 1475.7,631.9 1476.7,633.6 1477.6,634.0 1478.5,633.6 1479.5,633.4 1480.4,634.4 1481.3,633.7 1482.3,632.7 1483.2,633.5 1484.1,632.4 1485.1,635.6 1486.0,636.1 1486.9,634.3 1487.9,635.8 1488.8,632.4 1489.7,634.9 1490.7,635.1 1491.6,633.5 1492.5,635.7 1493.5,631.3 1494.4,632.6 1495.3,636.5 1496.3,637.6 1497.2,633.2 1498.1,634.0 1499.1,635.1 1500.0,632.7 1500.0,632.7 1500.9,633.2 1501.9,635.1 1502.8,636.2 1503.7,632.8 1504.7,634.3 1505.6,631.9 1506.5,634.3 1507.5,632.5 1508.4,633.5 1509.3,634.4 1510.3,634.3 1511.2,635.9 1512.1,632.4 1513.1,635.3 1514.0,635.5 1515.0,636.2 1515.9,636.1 1516.8,633.9 1517.8,635.4 1518.7,635.1 1519.6,636.1 1520.6,635.1 1521.5,635.0 1522.4,634.6 1523.4,635.9 1524.3,635.1 1525.2,637.2 1526.2,635.8 1527.1,634.8 1528.0,632.2 1529.0,632.4 1529.9,635.3 1530.8,634.2 1531.8,632.3 1532.7,636.1 1533.6,631.5 1534.6,637.0 1535.5,633.1 1536.4,637.0 1537.4,634.4 1538.3,635.1 1539.2,634.5 1540.2,632.4 1541.1,632.1 1542.0,633.2 1543.0,636.8 1543.9,634.6 1544.8,635.0 1545.8,634.5 1546.7,636.3 1547.6,633.4 1548.6,635.5 1549.5,633.7 1550.4,632.9 1551.4,635.6 1552.3,633.3 1553.2,635.1 1554.2,635.9 1555.1,636.4 1556.0,632.5 1557.0,635.6 1557.9,633.7 1558.8,634.3 1559.8,637.1 1560.7,633.9 1561.7,637.0 1562.6,636.1 1563.5,634.2 1564.5,637.0 1565.4,634.3 1566.3,634.0 1567.3,633.3 1568.2,636.6 1569.1,634.0 1570.1,632.9 1571.0,633.5 1571.9,635.1 1572.9,636.6 1573.8,637.5 1574.7,634.2 1575.7,634.3 1576.6,633.6 1577.5,636.3 1578.5,633.5 1579.4,633.2 1580.3,636.2 1581.3,633.2 1582.2,634.7 1583.1,634.4 1584.1,635.5 1585.0,635.9 1585.9,632.9 1586.9,632.6 1587.8,635.6 1588.7,632.1 1589.7,635.9 1590.6,631.7 1591.5,637.7 1592.5,632.1 1593.4,632.8 1594.3,634.9 1595.3,635.7 1596.2,633.1 1597.1,634.9 1598.1,636.5 1599.0,635.2 1599.9,633.5 1600.9,633.8 1601.8,636.9 1602.7,634.8 1603.7,636.9 1604.6,633.5 1605.5,633.8 1606.5,635.3 1607.4,636.7 1608.4,632.3 1609.3,634.9 1610.2,634.1 1611.2,637.9 1612.1,634.9 1613.0,634.0 1614.0,635.3 1614.9,631.7 1615.8,633.9 1616.8,634.3 1617.7,632.8 1618.6,631.0 1619.6,634.9 1620.5,633.2 1621.4,636.7 1622.4,631.5 1623.3,637.3 1624.2,631.4 1625.2,632.9 1626.1,633.2 1627.0,634.3 1628.0,633.0 1628.9,635.7 1629.8,631.7 1630.8,634.5 1631.7,632.5 1632.6,633.4 1633.6,632.8 1634.5,632.8 1635.4,635.3 1636.4,632.6 1637.3,635.7 1638.2,634.4 1639.2,634.6 1640.1,634.8 1641.0,636.8 1642.0,632.9 1642.9,636.8 1643.8,635.1 1644.8,632.8 1645.7,635.3 1646.6,636.6 1647.6,635.4 1648.5,634.9 1649.4,635.3 1650.4,635.8 1651.3,634.5 1652.2,630.9 1653.2,633.7 1654.1,634.9 1655.1,633.1 1656.0,634.5 1656.9,634.7 1657.9,634.0 1658.8,631.7 1659.7,633.6 1660.7,632.4 1661.6,633.2 1662.5,635.2 1663.5,634.3 1664.4,634.1 1665.3,633.0 1666.3,634.0 1667.2,637.7 1668.1,635.4 1669.1,634.4 1670.0,635.2 1670.9,636.0 1671.9,633.5 1672.8,635.4 1673.7,634.7 1674.7,636.7 1675.6,635.7 1676.5,636.4 1677.5,634.4 1678.4,637.8 1679.3,633.4 1680.3,634.3 1681.2,635.3 1682.1,633.2 1683.1,633.6 1684.0,634.2 1684.9,636.8 1685.9,632.5 1686.8,636.2 1687.7,639.4 1688.7,634.2 1689.6,633.8 1690.5,636.7 1691.5,635.0 1692.4,635.2 1693.3,634.4 1694.3,633.1 1695.2,632.6 1696.1,636.8 1697.1,633.5 1698.0,634.2 1698.9,633.6 1699.9,636.0 1700.8,633.8 1701.8,630.7 1702.7,634.1 1703.6,636.5 1704.6,635.5 1705.5,636.7 1706.4,638.3 1707.4,632.0 1708.3,635.4 1709.2,635.9 1710.2,633.7 1711.1,635.9 1712.0,635.5 1713.0,637.1 1713.9,633.0 1714.8,635.1 1715.8,633.6 1716.7,635.4 1717.6,633.0 1718.6,634.6 1719.5,633.7 1720.0,631.7 1720.4,633.6 1721.4,633.4 1722.3,631.0 1723.2,635.5 1724.2,633.3 1725.1,633.4 1726.0,633.4 1727.0,634.2 1727.9,635.3 1728.8,635.3 1729.8,631.8 1730.7,632.8 1731.6,634.8 1732.6,632.3 1733.5,631.9 1734.4,635.0 1735.4,632.1 1735.5,633.5 1736.3,628.8 1737.2,630.7 1738.2,634.8 1739.1,631.2 1740.0,631.0 1741.0,629.9 1741.9,630.5 1742.8,629.3 1743.8,629.7 1744.7,633.5 1745.6,628.4 1746.6,627.4 1747.5,629.9 1748.5,628.9 1749.4,627.2 1750.3,632.0 1751.0,629.1 1751.3,627.3 1752.2,628.1 1753.1,627.3 1754.1,630.6 1755.0,625.8 1755.9,628.0 1756.9,624.6 1757.8,626.9 1758.7,626.0 1758.8,626.4 1759.7,625.0 1760.6,624.2 1761.5,623.8 1762.5,621.4 1763.4,621.7 1764.3,616.6 1765.0,617.4 1765.3,616.1 1766.2,616.0 1767.1,615.7 1768.1,612.3 1768.1,608.6 1769.0,607.8 1769.9,605.9 1770.9,602.9 1771.8,601.7 1772.7,603.9 1772.8,602.7 1773.7,599.3 1774.6,598.3 1775.5,593.4 1776.5,593.1 1776.6,591.9 1777.4,595.1 1778.3,600.6 1779.3,598.6 1780.2,603.6 1780.5,602.5 1781.1,603.5 1782.1,602.5 1783.0,604.4 1783.9,607.9 1784.9,610.0 1785.8,610.6 1785.9,609.4 1786.7,612.0 1787.7,613.9 1788.6,612.7 1789.5,612.6 1790.5,614.6 1791.4,616.0 1791.4,614.4 1792.3,615.1 1793.3,615.6 1794.2,617.9 1795.2,618.5 1796.1,618.9 1797.0,619.3 1797.6,619.5 1798.0,615.3 1798.9,615.4 1799.8,618.3 1800.8,622.4 1801.7,620.4 1802.6,622.9 1803.6,623.9 1804.5,621.6 1805.3,624.9 1805.4,622.2 1806.4,624.5 1807.3,624.8 1808.2,623.4 1809.2,624.3 1810.1,623.2 1811.0,623.8 1812.0,627.2 1812.9,628.8 1813.8,624.5 1814.8,626.5 1815.7,624.7 1816.6,628.4 1817.0,628.6 1817.6,626.0 1818.5,629.4 1819.4,625.2 1820.4,625.9 1821.3,630.3 1822.2,627.8 1823.2,627.1 1824.1,625.0 1825.0,627.3 1826.0,628.8 1826.9,629.5 1827.8,629.6 1828.6,631.7 1828.8,631.1 1829.7,631.1 1830.6,629.3 1831.6,631.6 1832.5,631.3 1833.4,634.2 1834.4,630.6 1835.3,634.3 1836.2,633.2 1837.2,633.4 1838.1,632.3 1839.0,636.0 1840.0,635.3 1840.2,631.1 1840.9,634.8 1841.9,634.1 1842.8,633.1 1843.7,635.2 1844.7,634.0 1845.6,633.7 1846.5,631.3 1847.5,633.7 1848.4,636.7 1849.3,632.6 1850.3,632.5 1851.2,634.5 1852.1,635.2 1853.1,633.8 1854.0,632.7 1854.9,634.6 1855.9,633.0 1856.8,632.3 1857.7,635.7 1858.7,634.4 1859.6,636.4 1860.0,634.9 1860.5,631.8 1861.5,633.5 1862.4,634.8 1863.3,637.9 1864.3,634.2 1865.2,636.2 1866.1,634.0 1867.1,633.8 1868.0,631.4 1868.9,636.4 1869.9,637.1 1870.8,635.4 1871.7,637.9 1872.7,632.6 1873.6,635.1 1874.5,635.6 1875.5,636.5 1876.4,636.9 1877.3,636.1 1878.3,636.3 1879.2,635.0 1880.0,635.5 1880.1,634.1 1881.1,633.6 1882.0,636.5 1882.9,631.7 1883.9,634.4 1884.8,636.1 1885.7,636.9 1886.7,634.3 1887.6,636.3 1888.6,633.9 1889.5,634.9 1890.4,632.1 1891.4,635.0 1892.3,635.8 1893.2,633.1 1894.2,636.1 1895.1,632.3 1896.0,634.4 1897.0,635.3 1897.9,641.1 1898.8,636.3 1899.8,632.9 1900.7,635.4 1901.6,634.9 1902.6,636.3 1903.5,634.6 1904.4,635.0 1905.4,633.4 1906.3,638.1 1907.2,634.3 1908.2,634.6 1909.1,636.2 1910.0,635.1 1911.0,633.5 1911.9,634.8 1912.8,634.1 1913.8,631.9 1914.7,636.5 1915.6,634.5 1916.6,634.9 1917.5,633.9 1918.4,635.3 1919.4,634.7 1920.3,635.8 1921.2,635.6 1922.2,632.3 1923.1,635.2 1924.0,636.0 1925.0,634.5 1925.9,637.8 1926.8,637.3 1927.8,631.6 1928.7,637.1 1929.6,633.8 1930.6,634.7 1931.5,635.6 1932.4,633.8 1933.4,632.8 1934.3,634.3 1935.3,636.3 1936.2,633.5 1937.1,633.6 1938.1,635.3 1939.0,635.5 1939.9,635.5 1940.9,635.8 1941.8,636.7 1942.7,635.9 1943.7,635.4 1944.6,636.1 1945.5,634.9 1946.5,632.9 1947.4,636.0 1948.3,637.0 1949.3,633.2 1950.2,635.5 1951.1,636.9 1952.1,635.4 1953.0,631.0 1953.9,634.7 1954.9,632.0 1955.8,637.2 1956.7,635.8 1957.7,633.5 1958.6,632.8 1959.5,634.1 1960.5,636.6 1961.4,635.7 1962.3,635.2 1963.3,630.5 1964.2,635.6 1965.1,635.3 1966.1,634.8 1967.0,636.9 1967.9,634.0 1968.9,634.9 1969.8,634.0 1970.7,635.8 1971.7,635.2 1972.6,633.1 1973.5,636.8 1974.5,633.4 1975.4,635.1 1976.3,634.0 1977.3,636.2 1978.2,637.6 1979.1,631.1 1980.1,635.2 1981.0,635.9 1982.0,633.7 1982.9,634.5 1983.8,630.1 1984.8,633.0 1985.7,635.6 1986.6,634.2 1987.6,637.5 1988.5,637.1 1989.4,636.7 1990.4,634.0 1991.3,635.8 1992.2,638.2 1993.2,633.8 1994.1,636.8 1995.0,634.9 1996.0,635.3 1996.9,632.5 1997.8,638.7 1998.8,636.0 1999.7,636.4 2000.6,631.7 2001.6,632.5 2002.5,637.4"/><path stroke="#808000" d="M135.38 599.5V618.0M138.00 608.2V617.5M141.50 602.3V618.3M145.00 607.2V621.8M148.50 602.8V622.8M152.00 604.5V621.4M155.50 602.8V624.3M159.00 611.1V627.2M162.50 608.1V619.6M166.00 609.4V621.9M169.50 603.9V624.2M173.00 606.7V619.6M176.50 607.7V622.9M180.00 609.6V625.8M183.50 610.4V624.4M187.00 605.2V625.0M190.50 606.5V628.1M194.00 610.3V625.4M197.50 606.5V627.9M201.00 614.8V629.0M204.50 608.3V626.0M208.00 605.9V627.2M211.50 612.7V626.3M215.00 611.3V627.5M218.50 613.0V629.1M222.00 613.1V630.6M225.50 612.7V629.8M229.00 614.6V631.2M232.50 611.4V629.1M236.00 617.3V631.1M239.50 618.9V631.3M243.00 615.1V630.9M246.50 610.8V632.4M250.00 618.4V626.9M253.50 616.7V635.2M257.00 619.0V635.7M260.50 611.1V629.4M264.00 616.1V625.3M267.50 619.1V634.7M271.00 618.6V632.2M274.50 615.8V632.7M278.00 624.4V636.5M281.50 621.3V632.6M285.00 621.0V632.9M288.50 622.7V633.8M292.00 620.5V634.4M295.50 619.0V633.7M299.00 623.4V637.8M302.50 621.8V633.5M306.00 620.5V634.2M309.50 624.6V634.8M313.00 622.2V635.1M316.50 620.6V631.4M320.00 619.8V632.5M323.50 626.3V635.3M327.00 625.9V640.7M330.50 625.1V635.9M334.00 624.7V637.3M337.50 624.6V640.6M341.00 624.7V634.1M344.50 624.9V635.7M348.00 622.1V638.9M351.50 625.5V636.6M355.00 620.0V635.2M358.50 619.5V633.0M362.00 621.3V639.2M365.50 625.0V641.0M369.00 618.0V637.8M372.50 624.7V637.7M376.00 623.6V639.8M379.50 624.3V640.1M383.00 620.9V638.6M386.50 623.2V637.7M390.00 626.8V646.3M393.50 622.1V639.6M397.00 625.6V639.8M400.50 625.0V638.4M404.00 624.9V643.4M407.50 622.2V642.3M411.00 623.7V636.2M414.50 627.6V644.6M418.00 626.2V641.5M421.50 616.7V635.9M425.00 619.7V638.9M428.50 622.0V640.4M432.00 623.1V639.6M435.50 626.9V646.2M439.00 625.1V640.7M442.50 624.1V637.2M446.00 624.9V641.2M449.50 623.2V635.7M453.00 623.1V634.8M456.50 627.9V638.6M460.00 621.6V633.9M463.50 623.0V635.6M467.00 621.2V635.0M470.50 620.5V634.5M474.00 625.5V636.6M477.50 626.1V636.7M512.50 584.5V595.7M600.00 621.6V635.7M603.50 624.1V634.4M607.00 620.8V631.2M610.50 619.7V632.7M614.00 623.2V637.4M617.50 626.1V636.6M621.00 621.9V636.3M624.50 627.2V638.6M628.00 622.6V636.6M631.50 624.4V638.7M635.00 622.6V637.0M638.50 624.7V636.9M642.00 623.0V638.1M645.50 624.4V637.8M649.00 624.3V638.2M652.50 624.6V640.0M656.00 629.2V637.5M659.50 626.0V638.4M663.00 625.3V638.4M666.50 625.0V640.4M670.00 625.9V640.5M673.50 627.1V638.6M677.00 629.2V638.6M680.50 625.9V637.9M684.00 627.5V637.5M687.50 629.6V640.9M691.00 625.5V638.3M694.50 628.8V639.5M698.00 627.4V639.8M701.50 625.9V640.8M705.00 625.6V642.2M708.50 628.9V638.4M712.00 626.5V635.6M715.50 627.2V636.9M719.00 622.9V638.1M722.50 624.1V635.7M726.00 625.0V638.1M729.50 625.1V640.8M733.00 632.0V639.9M736.50 630.2V643.2M740.00 627.8V637.2M743.50 627.3V638.3M747.00 627.1V639.0M750.50 625.9V642.8M754.00 627.0V639.6M757.50 629.7V641.6M761.00 626.7V640.3M764.50 627.4V639.1M768.00 626.2V639.8M771.50 628.2V639.1M775.00 627.0V639.5M778.50 625.2V635.1M782.00 625.6V637.2M785.50 627.7V640.3M789.00 624.8V636.8M792.50 621.1V634.8M796.00 620.3V635.9M799.50 622.1V632.8M845.00 611.5V620.0M855.50 620.5V631.5M859.00 622.0V631.0M862.50 624.0V632.3M873.00 625.4V638.4M876.50 627.4V635.7M880.00 627.0V638.7M883.50 625.4V640.1M887.00 626.6V638.1M890.50 625.9V637.5M894.00 626.0V637.3M897.50 626.4V637.0M901.00 626.5V636.8M904.50 625.7V636.2M908.00 629.7V638.7M911.50 627.6V638.6M915.00 627.2V636.4M918.50 624.8V637.8M922.00 628.5V636.9M925.50 627.3V638.6M929.00 625.8V637.6M932.50 628.1V636.4M936.00 629.7V638.9M939.50 627.4V638.7M943.00 629.3V640.3M946.50 628.1V639.0M950.00 624.6V640.6M953.50 626.7V640.6M957.00 627.4V637.5M960.50 626.4V634.8M964.00 628.8V636.9M967.50 628.0V637.6M971.00 627.5V639.4M974.50 627.2V637.7M978.00 627.0V636.9M981.50 628.9V636.6M985.00 626.6V635.0M988.50 627.9V635.8M992.00 626.8V636.4M995.50 627.2V639.9M999.00 629.2V637.0M1002.50 627.2V637.5M1006.00 630.6V637.5M1009.50 628.2V637.4M1013.00 627.7V637.8M1016.50 627.8V637.7M1020.00 628.1V641.5M1023.50 629.7V639.6M1027.00 626.8V637.3M1030.50 629.5V637.2M1034.00 626.4V639.9M1037.50 628.1V638.7M1041.00 628.3V639.0M1044.50 628.8V637.4M1048.00 626.8V636.3M1051.50 628.6V638.4M1055.00 628.0V639.2M1058.50 627.4V637.9M1062.00 627.3V636.6M1065.50 628.6V637.7M1069.00 627.9V637.7M1072.50 628.6V638.1M1076.00 630.7V639.6M1079.50 629.7V640.1M1083.00 629.5V637.2M1086.50 628.4V638.9M1090.00 626.8V638.4M1093.50 628.8V639.5M1097.00 628.1V638.4M1100.50 628.3V639.6M1104.00 629.0V637.7M1107.50 630.0V638.8M1111.00 628.4V639.0M1114.50 630.2V638.9M1118.00 629.3V637.5M1121.50 629.0V641.6M1125.00 628.7V641.5M1128.50 627.5V640.3M1132.00 630.0V640.7M1135.50 628.8V638.6M1139.00 628.1V636.6M1142.50 629.0V637.7M1146.00 625.8V637.5M1149.50 625.0V638.2M1153.00 629.4V638.2M1156.50 628.2V638.4M1160.00 630.0V638.2M1163.50 629.3V639.2M1167.00 628.1V639.5M1170.50 631.0V638.5M1174.00 629.4V638.0M1177.50 630.1V638.5M1181.00 629.8V639.0M1184.50 628.6V638.6M1188.00 629.6V639.8M1191.50 629.1V638.7M1195.00 630.6V637.4M1198.50 627.2V637.9M1202.00 629.1V639.3M1205.50 627.8V638.8M1209.00 629.2V637.7M1212.50 630.0V638.7M1216.00 628.7V637.9M1219.50 628.3V637.1M1223.00 629.3V638.9M1226.50 628.6V637.8M1230.00 628.7V638.7M1233.50 629.4V638.9M1237.00 630.2V637.4M1240.50 629.6V639.0M1244.00 629.4V638.9M1247.50 628.9V640.7M1251.00 627.9V638.3M1254.50 630.3V639.2M1258.00 628.6V638.6M1261.50 630.7V641.1M1265.00 629.4V640.7M1268.50 629.8V638.5M1272.00 631.0V639.3M1275.50 628.9V637.9M1279.00 629.1V637.7M1282.50 628.8V637.4M1286.00 630.1V638.1M1289.50 628.4V638.7M1293.00 628.2V638.2M1296.50 626.8V637.9M1300.00 629.2V637.6M1303.50 629.8V638.2M1307.00 628.2V639.3M1310.50 629.2V638.6M1314.00 629.6V639.2M1317.50 629.0V639.5M1321.00 628.5V637.6M1324.50 629.8V638.8M1328.00 629.2V638.1M1331.50 629.7V638.2M1335.00 629.7V637.8M1338.50 630.4V640.1M1342.00 628.2V639.9M1345.50 628.6V639.9M1349.00 628.9V637.6M1352.50 630.2V639.8M1356.00 630.2V639.1M1359.50 628.9V637.7M1363.00 630.4V638.5M1366.50 628.3V636.7M1370.00 629.0V638.7M1373.50 630.5V640.7M1377.00 628.9V638.3M1380.50 630.7V639.6M1384.00 630.1V640.0M1387.50 630.0V638.5M1391.00 629.1V636.6M1394.50 630.5V639.7M1398.00 630.3V638.5M1401.50 629.9V639.6M1405.00 630.3V638.3M1408.50 628.0V638.8M1412.00 629.9V638.4M1415.50 630.3V640.5M1419.00 631.0V639.3M1422.50 630.9V640.6M1426.00 628.8V640.8M1429.50 629.1V640.3M1433.00 628.5V640.3M1436.50 628.5V639.2M1440.00 629.6V640.5M1443.50 629.9V639.9M1447.00 629.5V640.1M1450.50 629.0V638.6M1454.00 629.9V638.9M1457.50 629.6V637.9M1461.00 629.2V640.3M1464.50 629.8V638.4M1468.00 628.2V638.3M1471.50 625.6V640.0M1475.00 628.9V638.4M1478.50 630.4V637.2M1482.00 629.7V637.4M1485.50 629.4V639.1M1489.00 629.4V638.8M1492.50 628.3V638.7M1496.00 629.4V640.6M1499.50 629.7V638.1M1503.00 629.8V639.2M1506.50 628.9V637.3M1510.00 630.3V638.9M1513.50 629.4V639.2M1517.00 630.9V639.2M1520.50 631.6V639.1M1524.00 631.6V640.2M1527.50 629.2V639.4M1531.00 629.3V639.1M1534.50 628.5V640.0M1538.00 630.4V640.0M1541.50 629.1V639.8M1545.00 631.5V639.3M1548.50 630.1V639.2M1552.00 629.9V638.6M1555.50 629.5V639.4M1559.00 630.7V640.1M1562.50 631.0V640.0M1566.00 630.3V640.0M1569.50 629.9V639.6M1573.00 631.0V640.5M1576.50 630.6V639.3M1580.00 630.2V639.2M1583.50 631.0V638.9M1587.00 629.1V638.6M1590.50 628.7V640.7M1594.00 629.1V638.7M1597.50 630.1V639.5M1601.00 630.5V639.9M1604.50 630.5V639.9M1608.00 629.3V639.7M1611.50 631.0V640.9M1615.00 628.7V638.3M1618.50 628.0V637.9M1622.00 628.5V640.3M1625.50 628.4V637.5M1629.00 628.7V638.7M1632.50 629.5V637.5M1636.00 629.6V638.7M1639.50 631.4V639.8M1643.00 629.9V639.8M1646.50 629.8V639.6M1650.00 629.8V638.8M1653.50 627.9V637.9M1657.00 628.8V637.7M1660.50 628.7V637.6M1664.00 630.0V638.2M1667.50 630.5V640.7M1671.00 630.5V639.0M1674.50 631.7V639.7M1678.00 630.4V640.8M1681.50 630.2V638.3M1685.00 629.5V639.8M1688.50 630.8V642.4M1692.00 630.8V639.7M1695.50 629.6V639.8M1699.00 630.6V639.0M1702.50 627.7V639.5M1706.00 629.0V641.3M1709.50 630.5V638.9M1713.00 630.0V640.1M1716.50 630.0V638.4M1720.00 628.7V637.6M1723.50 628.0V638.5M1727.00 630.4V638.3M1730.50 628.8V638.3M1734.00 628.9V638.0M1737.50 625.8V637.8M1741.00 626.4V634.2M1744.50 624.8V636.5M1748.00 624.2V632.9M1751.50 624.3V635.0M1793.50 611.6V621.6M1797.00 612.3V622.5M1807.50 620.0V627.8M1811.00 620.2V631.5M1814.50 621.5V631.8M1818.00 622.2V632.4M1821.50 622.5V633.3M1825.00 622.0V632.4M1828.50 626.4V634.7M1832.00 626.3V637.2M1835.50 627.6V637.3M1839.00 628.1V639.0M1842.50 630.1V638.2M1846.00 628.3V637.6M1849.50 629.5V639.7M1853.00 629.7V638.2M1856.50 629.3V638.7M1860.00 628.8V639.4M1863.50 630.9V640.9M1867.00 628.4V639.0M1870.50 632.0V640.9M1874.00 629.6V639.6M1877.50 632.0V639.9M1881.00 629.7V639.5M1884.50 628.7V639.9M1888.00 630.9V639.3M1891.50 629.1V638.8M1895.00 629.3V639.1M1898.50 629.9V644.1M1902.00 631.3V639.3M1905.50 630.4V641.1M1909.00 630.9V639.2M1912.50 628.9V637.8M1916.00 630.9V639.5M1919.50 631.3V638.8M1923.00 629.3V639.0M1926.50 628.6V640.8M1930.00 630.8V640.1M1933.50 629.8V639.3M1937.00 630.5V639.3M1940.50 632.4V639.7M1944.00 631.4V639.3M1947.50 629.9V640.0M1951.00 629.2V639.9M1954.50 628.0V640.2M1958.00 629.8V639.5M1961.50 627.6V639.6M1965.00 627.5V639.3M1968.50 631.0V639.9M1972.00 630.1V639.8M1975.50 630.4V639.2M1979.00 628.1V640.6M1982.50 627.1V638.9M1986.00 628.4V640.5M1989.50 631.0V640.4M1993.00 630.8V641.2M1996.50 629.5V641.7M2000.00 628.7V640.5M2002.38 630.5V640.4"/><path stroke="#000080" stroke-width="4.6" stroke-linejoin="round" stroke-linecap="round" d="M134.5,460.0 135.4,452.8 136.4,456.1 137.3,459.9 138.2,455.1 139.2,461.3 140.1,454.9 141.0,457.4 142.0,444.9 142.9,456.7 143.8,458.1 144.8,457.0 145.7,461.7 146.6,459.4 147.6,455.5 148.5,458.2 149.4,456.4 150.4,460.2 151.3,456.5 152.2,462.9 153.2,457.3 154.1,454.0 155.0,456.7 156.0,451.4 156.9,457.4 157.8,459.9 158.8,452.1 159.7,462.3 160.7,453.7 161.6,456.0 162.5,460.9 163.5,458.5 164.4,448.7 165.3,452.6 166.3,462.9 167.2,464.4 168.1,452.7 169.1,456.0 170.0,462.9 170.9,455.9 171.9,461.9 172.8,448.3 173.7,454.3 174.7,455.3 175.6,461.6 176.5,458.4 177.5,455.0 178.4,454.7 179.3,459.0 180.0,458.3 180.3,454.3 181.2,454.4 182.1,467.1 183.1,449.8 184.0,458.3 184.9,462.5 185.9,460.4 186.8,459.2 187.7,460.4 188.7,456.8 189.6,465.4 190.5,456.0 191.5,454.4 192.4,452.8 193.3,465.0 194.3,460.0 195.2,460.6 196.1,467.3 197.1,461.6 198.0,454.8 198.9,458.7 199.9,458.9 200.8,454.7 201.7,458.6 202.7,463.6 203.6,457.2 204.5,462.7 205.5,461.9 206.4,451.5 207.4,454.3 208.3,455.5 209.2,461.5 210.2,457.6 211.1,459.0 212.0,460.3 213.0,463.7 213.9,461.0 214.8,457.0 215.8,456.2 216.7,460.9 217.6,456.7 218.6,451.5 219.5,457.8 220.4,453.3 221.4,459.0 222.3,457.1 223.2,457.9 224.2,457.4 225.1,464.6 226.0,457.8 227.0,459.8 227.0,465.1 227.9,461.8 228.8,461.3 229.8,460.1 230.7,457.7 231.6,455.2 232.6,467.5 233.5,457.3 234.4,456.6 235.4,459.3 236.3,461.6 237.2,464.3 238.2,469.5 239.1,456.9 240.0,459.5 241.0,462.0 241.9,465.5 242.8,465.3 243.8,460.3 244.7,464.3 245.6,466.3 246.6,462.0 247.5,456.6 248.4,472.0 249.4,468.1 250.3,464.1 251.2,464.3 252.2,462.0 253.1,461.2 254.1,464.6 255.0,465.4 255.9,461.2 256.9,463.2 257.8,456.0 258.7,471.5 259.7,466.2 260.6,457.3 261.5,457.0 262.5,466.6 263.4,466.2 264.3,462.6 265.3,463.7 266.2,459.7 267.1,469.0 268.1,463.2 269.0,465.0 269.9,457.4 270.9,466.9 271.8,464.1 272.7,466.0 273.7,461.4 274.6,459.2 275.5,470.5 276.5,470.2 277.4,465.8 278.3,462.8 279.3,463.3 280.2,462.7 281.1,465.4 282.1,465.4 283.0,464.9 283.9,473.8 284.9,468.3 285.8,457.8 286.7,464.0 287.7,465.6 288.6,463.1 289.5,456.7 290.5,468.0 291.4,465.5 292.3,460.6 293.3,459.4 294.2,464.1 295.1,467.0 296.1,469.0 297.0,463.3 297.9,454.0 298.9,460.8 299.8,458.0 300.8,468.1 301.7,467.6 302.6,462.9 303.6,458.6 304.5,458.3 305.4,457.2 306.4,466.7 307.3,464.4 308.2,467.6 309.2,464.1 310.1,470.9 311.0,464.9 312.0,467.1 312.9,455.2 313.8,464.7 314.8,467.6 315.7,467.3 316.6,459.0 317.6,462.0 318.5,457.1 319.4,468.8 320.4,460.1 321.3,465.2 322.2,463.5 323.2,461.6 324.0,463.7 324.1,467.4 325.0,466.6 326.0,467.0 326.9,460.2 327.8,474.2 328.8,462.4 329.7,461.9 330.6,461.7 331.6,464.3 332.5,463.8 333.4,457.1 334.4,461.6 335.3,461.1 336.2,462.0 337.2,461.9 338.1,462.7 339.0,460.3 340.0,471.4 340.9,463.5 341.8,462.0 342.8,465.1 343.7,460.4 344.6,466.3 345.6,464.9 346.5,462.0 347.5,459.7 348.4,468.1 349.3,460.7 350.3,461.6 351.2,447.6 352.1,465.2 353.1,455.3 354.0,470.5 354.9,461.7 355.9,465.1 356.8,467.7 357.7,468.6 358.7,461.4 359.6,467.7 360.5,465.3 361.5,465.9 362.4,466.8 363.3,461.4 364.3,468.0 365.2,464.7 366.1,459.3 367.1,465.5 368.0,465.0 368.9,464.9 369.9,464.8 370.8,467.3 371.7,459.6 372.7,468.2 373.6,463.9 374.5,454.9 375.5,463.2 376.4,467.3 377.3,458.2 378.3,471.1 379.2,464.3 380.0,459.1 380.1,458.9 381.1,463.6 382.0,452.4 382.9,465.6 383.9,466.2 384.8,464.0 385.7,464.0 386.7,463.8 387.6,463.6 388.5,462.6 389.5,462.8 390.4,464.1 391.3,465.5 392.3,461.6 393.2,459.9 394.2,459.1 395.1,466.8 396.0,468.8 397.0,454.6 397.9,467.0 398.8,464.7 399.8,470.0 400.7,465.3 401.6,461.8 402.6,465.5 403.5,463.3 404.4,457.6 405.4,464.0 406.3,459.7 407.2,457.4 408.2,462.3 409.1,467.8 410.0,471.6 411.0,461.2 411.9,463.4 412.8,465.6 413.0,465.0 413.8,467.4 414.7,455.9 415.6,457.1 416.6,457.2 417.5,466.7 418.4,461.8 419.4,462.3 420.3,456.1 421.2,460.8 422.2,458.3 423.1,459.2 424.0,454.8 425.0,463.9 425.9,460.3 426.8,463.3 427.8,463.6 428.7,451.0 429.6,457.7 430.6,459.5 431.5,462.9 432.4,461.3 433.4,453.9 434.3,457.4 435.2,460.9 436.2,461.3 437.1,458.9 437.7,454.4 438.0,458.5 439.0,456.3 439.9,465.4 440.9,455.3 441.8,455.0 442.7,454.7 443.7,459.3 444.6,444.8 445.5,450.4 446.5,451.7 447.4,446.6 448.3,454.4 449.3,450.5 450.2,453.7 451.1,451.0 452.1,455.7 453.0,450.1 453.9,454.4 454.9,446.7 455.8,450.5 456.7,440.2 457.7,453.7 458.6,447.2 459.5,447.2 460.5,441.6 461.4,450.5 462.3,453.5 462.4,454.3 463.3,452.6 464.2,453.3 465.1,442.8 466.1,444.7 467.0,442.5 467.9,442.5 468.9,452.2 469.8,442.5 470.7,444.8 471.7,447.3 472.6,444.5 473.5,442.2 474.5,446.9 475.4,440.3 476.3,442.5 477.3,446.2 478.2,441.3 479.1,442.1 480.1,442.7 481.0,440.7 481.9,440.8 482.9,439.9 483.8,437.5 484.7,442.2 485.7,437.7 486.6,437.4 487.2,438.8 487.6,438.4 488.5,434.6 489.4,429.7 490.4,429.8 491.3,432.7 492.2,438.7 493.2,436.2 494.1,439.2 495.0,428.4 496.0,432.1 496.9,430.2 497.8,436.9 498.8,436.6 499.7,428.4 500.6,428.9 501.6,432.0 502.5,436.5 503.4,424.2 504.4,428.7 505.3,424.0 506.2,428.0 507.2,426.5 508.1,430.5 509.0,426.7 510.0,423.1 510.9,429.8 511.8,428.3 511.9,427.8 512.8,432.4 513.7,420.0 514.6,426.9 515.6,420.4 516.5,424.5 517.4,424.0 518.4,415.2 519.3,419.5 520.2,420.2 521.2,423.2 522.1,423.0 523.0,415.7 524.0,418.5 524.9,422.5 525.8,418.0 526.8,411.6 527.7,419.4 528.4,412.3 528.6,410.3 529.6,418.3 530.5,415.6 531.4,416.9 532.4,416.1 533.3,415.6 534.3,414.2 535.2,410.5 536.1,410.9 537.1,415.5 538.0,406.0 538.3,410.1 538.9,412.0 539.9,401.4 540.8,412.6 541.7,414.6 542.7,403.7 543.6,402.2 544.5,416.0 545.5,412.8 546.4,411.8 547.3,416.2 548.3,407.4 549.2,416.6 550.1,415.4 551.1,414.3 552.0,417.1 552.9,416.7 553.1,412.4 553.9,406.1 554.8,417.9 555.7,411.8 556.7,420.2 557.6,415.3 558.5,421.0 559.5,421.9 560.4,412.9 561.3,413.9 562.3,425.0 563.2,418.8 564.1,422.9 565.1,419.0 566.0,413.6 566.9,419.3 567.9,420.0 568.8,423.9 569.6,417.8 569.7,423.2 570.7,422.5 571.6,418.5 572.5,425.2 573.5,414.3 574.4,422.6 575.3,427.2 576.3,422.4 577.2,430.0 578.1,426.1 579.1,426.4 580.0,428.2 581.0,423.6 581.9,425.1 582.8,430.3 583.8,428.9 584.7,425.6 585.6,426.0 586.1,424.4 586.6,429.6 587.5,430.1 588.4,428.8 589.4,427.4 590.3,424.8 591.2,433.5 592.2,434.1 593.1,442.2 594.0,432.6 595.0,436.5 595.9,436.8 596.8,437.9 597.8,439.1 598.7,436.5 599.6,437.6 600.6,434.8 601.5,439.2 602.4,443.6 603.4,441.1 604.3,437.7 605.2,437.5 606.2,441.3 607.1,441.5 608.0,444.2 609.0,446.7 609.9,446.7 610.8,447.7 610.8,441.8 611.8,439.3 612.7,442.4 613.6,445.2 614.6,443.4 615.5,440.7 616.4,446.6 617.4,448.4 618.3,445.4 619.2,445.8 620.2,443.4 621.1,450.6 622.0,450.0 623.0,446.3 623.9,447.0 624.8,449.8 625.8,450.5 626.7,443.0 627.7,453.0 628.6,448.3 629.5,447.5 630.5,453.3 631.4,454.3 632.3,450.8 633.3,453.2 634.2,447.1 635.1,450.2 635.6,456.9 636.1,451.4 637.0,453.9 637.9,448.0 638.9,450.6 639.8,455.9 640.7,451.8 641.7,455.0 642.6,448.2 643.5,459.9 644.5,459.2 645.4,454.1 646.3,458.6 647.3,457.4 648.2,454.6 649.1,460.1 650.1,455.3 651.0,456.8 651.9,452.1 652.9,452.4 653.8,455.0 654.7,455.4 655.7,460.8 656.6,455.5 657.5,459.8 658.5,458.2 659.4,460.0 660.3,461.3 660.3,462.2 661.3,456.9 662.2,461.1 663.1,456.5 664.1,459.2 665.0,456.4 665.9,455.6 666.9,457.5 667.8,456.4 668.7,460.7 669.7,459.9 670.6,454.0 671.5,463.8 672.5,455.3 673.4,461.2 674.4,459.5 675.3,458.0 676.2,459.5 677.2,467.0 678.1,459.2 679.0,463.5 680.0,460.6 680.9,457.0 681.8,461.3 682.8,458.8 683.7,464.3 684.6,459.7 685.6,458.8 686.5,462.9 687.4,459.5 688.4,462.9 689.3,456.3 690.2,464.3 691.2,459.8 692.1,463.5 693.0,463.1 693.3,459.8 694.0,459.2 694.9,461.0 695.8,461.0 696.8,458.5 697.7,464.0 698.6,462.2 699.6,463.0 700.5,461.5 701.4,463.2 702.4,467.4 703.3,462.4 704.2,458.9 705.2,459.8 706.1,462.0 707.0,467.4 708.0,463.8 708.9,459.8 709.8,461.2 710.8,458.1 711.7,461.6 712.6,468.0 713.6,464.3 714.5,466.2 715.4,459.3 716.4,463.6 717.3,461.5 718.2,455.7 719.2,458.9 720.0,463.7 720.1,464.6 721.1,461.8 722.0,464.2 722.9,465.6 723.9,464.0 724.8,459.8 725.7,461.3 726.7,464.0 727.6,470.6 728.5,463.3 729.5,464.0 730.4,468.0 731.3,459.8 732.3,462.4 733.2,462.1 734.1,468.1 735.1,461.1 736.0,466.0 736.9,458.9 737.9,463.6 738.8,459.3 739.7,461.5 740.7,462.3 741.6,460.9 742.5,460.1 743.5,464.1 744.4,464.2 745.3,464.6 746.3,459.3 747.2,458.5 748.1,465.1 749.1,464.2 750.0,463.6 750.9,463.4 751.9,458.8 752.8,466.0 753.7,463.9 754.7,461.6 755.6,458.0 756.5,461.6 757.5,461.7 758.4,462.5 759.3,465.1 760.3,463.7 761.2,462.5 762.1,460.3 763.1,459.7 764.0,461.5 764.9,461.0 765.9,460.9 766.8,462.8 767.8,462.0 768.7,460.5 769.6,462.3 770.6,461.5 771.5,460.9 772.4,463.9 773.4,466.4 774.3,462.8 775.2,465.1 776.2,462.9 777.1,461.6 778.0,465.9 779.0,467.8 779.9,460.2 780.8,462.7 781.8,465.2 782.7,460.4 783.6,461.3 784.6,458.9 785.5,463.0 786.4,458.9 787.4,460.6 788.3,462.6 789.2,463.1 790.2,462.7 791.1,464.5 792.0,465.4 793.0,461.9 793.9,460.9 794.8,461.8 795.8,462.9 796.7,461.2 797.6,466.9 798.6,458.4 799.5,464.7 800.4,462.7 801.4,462.4 802.3,463.1 803.2,458.5 804.2,463.3 805.1,465.6 806.0,463.2 807.0,465.0 807.9,463.6 808.8,455.8 809.8,460.0 810.7,457.5 811.6,465.9 812.6,463.3 813.5,460.3 814.5,468.0 815.4,459.2 816.3,457.6 817.3,461.8 818.2,465.2 819.1,459.8 820.1,460.9 821.0,464.0 821.9,461.7 822.9,459.5 823.8,461.5 824.7,462.8 825.7,462.0 826.6,461.7 827.5,465.3 828.5,461.1 829.4,455.6 830.3,461.8 831.3,457.0 832.2,462.9 833.1,464.3 834.1,462.4 835.0,460.2 835.9,462.1 836.9,463.5 837.8,459.3 838.7,458.0 839.7,461.9 840.6,459.8 841.5,460.6 842.5,460.3 843.4,466.5 844.3,458.7 845.3,462.0 846.2,458.5 847.1,463.1 848.1,462.3 849.0,458.2 849.9,461.4 850.9,460.6 851.8,461.6 852.7,460.2 853.7,462.1 854.6,460.5 855.5,458.0 856.5,461.0 857.4,463.8 858.3,463.0 859.3,459.0 860.2,459.1 861.2,461.5 862.1,460.0 863.0,464.4 864.0,462.1 864.9,463.7 865.8,462.3 866.8,459.9 867.7,458.2 868.6,461.3 869.6,460.4 870.5,460.3 871.4,463.8 872.4,462.3 873.3,462.6 874.2,462.2 875.2,464.3 876.1,460.1 877.0,458.9 878.0,460.8 878.9,465.1 879.8,462.4 880.8,464.3 881.7,459.5 882.6,459.9 883.6,462.3 884.5,463.8 885.4,463.0 886.4,460.0 887.3,459.3 888.2,464.0 889.2,462.0 890.1,462.8 891.0,460.3 892.0,464.9 892.9,464.3 893.8,458.8 894.8,460.8 895.7,464.8 896.6,463.7 897.6,461.1 898.5,462.2 899.4,462.7 900.0,460.7 900.4,462.1 901.3,459.0 902.2,461.5 903.2,463.5 904.1,461.2 905.0,463.7 906.0,463.9 906.9,465.3 907.9,461.9 908.8,463.8 909.7,464.1 910.7,462.6 911.6,460.8 912.5,462.2 913.5,462.2 914.4,461.0 915.3,463.2 916.3,462.5 917.2,460.6 918.1,463.1 919.1,463.3 920.0,462.5 920.9,461.5 921.9,462.7 922.8,463.6 923.7,465.1 924.7,461.4 925.6,463.0 926.5,462.7 927.5,461.7 928.4,461.5 929.3,461.2 930.3,458.1 931.2,465.3 932.1,463.3 933.1,459.5 934.0,463.6 934.9,462.7 935.9,463.2 936.8,461.6 937.7,462.0 938.7,462.1 939.6,463.0 940.5,462.6 941.5,463.6 942.4,461.7 943.3,462.0 944.3,461.4 945.2,459.3 946.1,460.1 947.1,462.2 948.0,462.1 948.9,459.8 949.9,461.3 950.8,460.2 951.7,463.2 952.7,464.4 953.6,460.2 954.6,462.4 955.5,461.0 956.4,461.4 957.4,458.4 958.3,459.1 959.2,462.4 960.2,462.7 961.1,461.1 962.0,460.3 963.0,460.1 963.9,461.3 964.8,460.6 965.8,459.6 966.7,465.2 967.6,463.2 968.6,460.2 969.5,462.4 970.4,462.6 971.4,462.6 972.3,460.2 973.2,459.8 974.2,461.4 975.1,460.9 976.0,462.6 977.0,462.4 977.9,461.5 978.8,459.3 979.8,463.0 980.7,460.3 981.6,461.7 982.6,462.3 983.5,460.1 984.4,462.5 985.4,464.0 986.3,458.3 987.2,459.8 988.2,460.6 989.1,460.5 990.0,462.6 991.0,463.1 991.9,457.7 992.8,464.0 993.8,459.8 994.7,461.5 995.6,463.1 996.6,461.8 997.5,463.8 998.4,461.6 999.4,459.4 1000.3,461.1 1001.3,460.0 1002.2,462.5 1003.1,462.3 1004.1,460.5 1005.0,464.0 1005.9,461.6 1006.9,464.6 1007.8,460.6 1008.7,459.8 1009.7,461.9 1010.6,462.7 1011.5,462.0 1012.5,461.9 1013.4,460.0 1014.3,462.4 1015.3,460.6 1016.2,460.2 1017.1,463.8 1018.1,463.3 1019.0,460.6 1019.9,461.7 1020.9,462.5 1021.8,462.8 1022.7,462.6 1023.7,462.4 1024.6,460.0 1025.5,461.1 1026.5,460.4 1027.4,463.9 1028.3,464.0 1029.3,460.8 1030.2,463.8 1031.1,465.0 1032.1,460.2 1033.0,462.8 1033.9,463.5 1034.9,460.8 1035.8,459.0 1036.7,459.7 1037.7,461.5 1038.6,462.4 1039.5,459.3 1040.5,465.0 1041.4,460.7 1042.3,463.9 1043.3,461.0 1044.2,459.2 1045.1,458.6 1046.1,460.1 1047.0,462.5 1048.0,460.8 1048.9,460.6 1049.8,464.1 1050.8,463.3 1051.7,461.2 1052.6,463.1 1053.6,462.6 1054.5,461.4 1055.4,462.7 1056.4,460.9 1057.3,460.5 1058.2,463.3 1059.2,460.1 1060.1,462.1 1061.0,461.9 1062.0,460.4 1062.9,461.4 1063.8,459.9 1064.8,465.0 1065.7,460.9 1066.6,460.9 1067.6,462.6 1068.5,461.9 1069.4,463.0 1070.4,460.7 1071.3,460.5 1072.2,458.9 1073.2,459.9 1074.1,465.3 1075.0,460.9 1076.0,459.3 1076.9,458.8 1077.8,461.8 1078.8,463.5 1079.7,463.8 1080.6,462.5 1081.6,464.8 1082.5,462.9 1083.4,464.9 1084.4,459.4 1085.3,460.6 1086.2,460.7 1087.2,462.3 1088.1,460.9 1089.0,461.2 1090.0,462.5 1090.9,458.9 1091.8,460.3 1092.8,460.4 1093.7,463.1 1094.7,461.6 1095.6,461.2 1096.5,461.1 1097.5,463.2 1098.4,460.8 1099.3,463.6 1100.3,462.1 1101.2,462.0 1102.1,460.7 1103.1,460.5 1104.0,463.0 1104.9,460.4 1105.9,461.3 1106.8,460.6 1107.7,464.2 1108.7,461.6 1109.6,462.4 1110.5,460.1 1111.5,459.6 1112.4,460.6 1113.3,465.0 1114.3,459.5 1115.2,462.3 1116.1,460.2 1117.1,463.0 1118.0,462.4 1118.9,461.1 1119.9,460.7 1120.8,461.6 1121.7,462.5 1122.7,462.1 1123.6,461.4 1124.5,462.1 1125.5,461.3 1126.4,459.8 1127.3,459.7 1128.3,461.4 1129.2,459.3 1130.1,461.1 1131.1,461.0 1132.0,462.9 1132.9,462.0 1133.9,462.3 1134.8,459.2 1135.7,460.4 1136.7,463.0 1137.6,460.9 1138.5,461.5 1139.5,460.6 1140.4,460.1 1141.4,462.8 1142.3,460.2 1143.2,461.9 1144.2,459.7 1145.1,462.8 1146.0,461.7 1147.0,460.4 1147.9,462.7 1148.8,461.3 1149.8,463.6 1150.7,460.2 1151.6,459.7 1152.6,460.8 1153.5,460.8 1154.4,464.0 1155.4,461.4 1156.3,462.4 1157.2,463.7 1158.2,462.2 1159.1,459.0 1160.0,459.8 1161.0,460.3 1161.9,461.9 1162.8,463.1 1163.8,460.5 1164.7,462.7 1165.6,461.6 1166.6,462.6 1167.5,462.2 1168.4,460.5 1169.4,465.1 1170.3,463.4 1171.2,462.0 1172.2,458.2 1173.1,462.8 1174.0,461.5 1175.0,464.3 1175.9,460.5 1176.8,460.7 1177.8,458.7 1178.7,462.8 1179.6,460.3 1180.6,461.8 1181.5,460.3 1182.4,463.7 1183.4,462.4 1184.3,462.7 1185.2,459.4 1186.2,462.0 1187.1,459.9 1188.1,461.6 1189.0,463.1 1189.9,461.6 1190.9,462.2 1191.8,460.2 1192.7,462.3 1193.7,465.7 1194.6,458.1 1195.5,461.7 1196.5,460.9 1197.4,461.8 1198.3,460.1 1199.3,462.3 1200.2,462.4 1201.1,461.4 1202.1,459.3 1203.0,459.1 1203.9,462.8 1204.9,461.2 1205.8,459.8 1206.7,457.8 1207.7,463.1 1208.6,461.9 1209.5,462.1 1210.5,458.5 1211.4,460.7 1212.3,461.9 1213.3,460.7 1214.2,460.3 1215.1,461.2 1216.1,459.5 1217.0,458.8 1217.9,461.2 1218.9,460.4 1219.8,461.8 1220.7,459.1 1221.7,462.8 1222.6,463.0 1223.5,460.2 1224.5,458.9 1225.4,462.6 1226.3,461.2 1227.3,461.4 1228.2,461.0 1229.1,462.3 1230.1,459.0 1231.0,461.1 1231.9,460.4 1232.9,463.0 1233.8,461.2 1234.8,458.7 1235.7,461.7 1236.6,461.2 1237.6,461.9 1238.5,461.2 1239.4,461.1 1240.4,458.8 1241.3,460.7 1242.2,462.5 1243.2,460.3 1244.1,463.0 1245.0,459.8 1246.0,461.8 1246.9,461.1 1247.8,461.3 1248.8,460.0 1249.7,461.6 1250.6,460.9 1251.6,461.8 1252.5,461.2 1253.4,463.9 1254.4,462.1 1255.3,463.5 1256.2,461.6 1257.2,462.0 1258.1,462.3 1259.0,461.1 1260.0,460.1 1260.9,463.3 1261.8,460.6 1262.8,461.0 1263.7,463.2 1264.6,463.4 1265.6,461.9 1266.5,460.7 1267.4,464.1 1268.4,460.3 1269.3,465.2 1270.2,459.7 1271.2,465.8 1272.1,463.7 1273.0,461.0 1274.0,461.8 1274.9,462.7 1275.8,461.8 1276.8,462.3 1277.7,461.1 1278.6,462.0 1279.6,461.9 1280.5,461.0 1281.5,464.4 1282.4,461.7 1283.3,460.7 1284.3,460.3 1285.2,462.4 1286.1,460.7 1287.1,464.4 1288.0,460.1 1288.9,463.4 1289.9,460.0 1290.8,459.2 1291.7,462.4 1292.7,462.7 1293.6,462.7 1294.5,461.8 1295.5,463.0 1296.4,461.5 1297.3,463.6 1298.3,459.6 1299.2,462.5 1300.1,462.1 1301.1,462.6 1302.0,461.0 1302.9,459.2 1303.9,463.2 1304.8,458.6 1305.7,463.4 1306.7,461.2 1307.6,459.7 1308.5,462.2 1309.5,461.5 1310.4,463.2 1311.3,461.4 1312.3,462.8 1313.2,461.5 1314.1,463.0 1315.1,457.2 1316.0,460.9 1316.9,463.5 1317.9,461.4 1318.8,465.7 1319.7,463.8 1320.7,464.5 1321.6,462.7 1322.5,464.1 1323.5,463.5 1324.4,461.8 1325.3,459.4 1326.3,458.6 1327.2,458.8 1328.2,464.4 1329.1,460.8 1330.0,459.5 1331.0,461.5 1331.9,464.0 1332.8,460.7 1333.8,461.2 1334.7,463.3 1335.6,461.6 1336.6,464.4 1337.5,459.4 1338.4,462.0 1339.4,464.8 1340.3,461.4 1341.2,461.4 1342.2,462.7 1343.1,461.6 1344.0,460.4 1345.0,462.1 1345.9,463.5 1346.8,461.2 1347.8,459.3 1348.7,463.8 1349.6,457.9 1350.6,461.7 1351.5,464.1 1352.4,461.5 1353.4,461.0 1354.3,460.9 1355.2,461.0 1356.2,461.2 1357.1,460.7 1358.0,461.8 1359.0,461.7 1359.9,465.1 1360.8,460.9 1361.8,459.5 1362.7,459.5 1363.6,461.1 1364.6,462.6 1365.5,459.0 1366.4,465.1 1367.4,461.1 1368.3,464.6 1369.2,459.8 1370.2,460.4 1371.1,463.8 1372.0,463.6 1373.0,461.3 1373.9,463.1 1374.9,461.4 1375.8,463.2 1376.7,461.9 1377.7,460.8 1378.6,462.6 1379.5,464.1 1380.5,463.5 1381.4,461.8 1382.3,459.8 1383.3,461.7 1384.2,460.6 1385.1,460.4 1386.1,460.4 1387.0,461.0 1387.9,461.4 1388.9,463.8 1389.8,462.2 1390.7,461.1 1391.7,462.1 1392.6,465.4 1393.5,463.9 1394.5,464.0 1395.4,461.0 1396.3,463.3 1397.3,462.4 1398.2,459.1 1399.1,463.8 1400.1,462.1 1401.0,463.4 1401.9,463.5 1402.9,459.2 1403.8,460.6 1404.7,461.7 1405.7,461.4 1406.6,462.6 1407.5,461.4 1408.5,462.7 1409.4,459.7 1410.3,461.8 1411.3,461.6 1412.2,462.8 1413.1,460.5 1414.1,460.8 1415.0,459.5 1415.9,461.5 1416.9,462.6 1417.8,461.5 1418.7,461.1 1419.7,463.3 1420.6,461.7 1421.6,462.5 1422.5,460.7 1423.4,459.5 1424.4,461.7 1425.3,460.8 1426.2,462.0 1427.2,462.0 1428.1,464.4 1429.0,461.5 1430.0,463.0 1430.9,461.6 1431.8,462.5 1432.8,461.7 1433.7,462.5 1434.6,462.2 1435.6,464.0 1436.5,463.1 1437.4,460.9 1438.4,460.4 1439.3,465.1 1440.2,463.6 1441.2,462.8 1442.1,463.7 1443.0,462.2 1444.0,461.7 1444.9,462.2 1445.8,461.5 1446.8,460.3 1447.7,459.6 1448.6,459.1 1449.6,463.4 1450.5,461.9 1451.4,462.9 1452.4,460.8 1453.3,463.6 1454.2,461.3 1455.2,463.0 1456.1,462.1 1457.0,463.2 1458.0,460.2 1458.9,463.0 1459.8,462.2 1460.8,462.8 1461.7,460.9 1462.6,461.0 1463.6,461.6 1464.5,461.2 1465.4,459.5 1466.4,459.9 1467.3,462.3 1468.3,461.1 1469.2,462.4 1470.1,462.9 1471.1,463.8 1472.0,460.9 1472.9,459.9 1473.9,461.8 1474.8,462.4 1475.7,461.1 1476.7,463.5 1477.6,462.1 1478.5,463.3 1479.5,460.5 1480.4,463.5 1481.3,462.9 1482.3,459.1 1483.2,461.9 1484.1,462.9 1485.1,457.8 1486.0,461.7 1486.9,460.1 1487.9,464.6 1488.8,463.8 1489.7,463.0 1490.7,461.8 1491.6,462.4 1492.5,463.0 1493.5,464.0 1494.4,462.7 1495.3,464.3 1496.3,460.6 1497.2,462.4 1498.1,464.3 1499.1,464.3 1500.0,461.9 1500.0,461.3 1500.9,459.4 1501.9,462.6 1502.8,461.4 1503.7,460.2 1504.7,461.1 1505.6,464.7 1506.5,466.3 1507.5,460.6 1508.4,460.8 1509.3,463.5 1510.3,462.8 1511.2,462.6 1512.1,462.4 1513.1,461.5 1514.0,462.8 1515.0,463.0 1515.9,462.5 1516.8,461.3 1517.8,463.6 1518.7,464.3 1519.6,459.9 1520.6,459.4 1521.5,462.4 1522.4,463.8 1523.4,459.4 1524.3,463.4 1525.2,463.1 1526.2,460.7 1527.1,462.8 1528.0,462.1 1529.0,460.7 1529.9,461.7 1530.8,461.9 1531.8,461.2 1532.7,463.6 1533.6,461.1 1534.6,460.8 1535.5,459.2 1536.4,461.9 1537.4,460.8 1538.3,461.0 1539.2,464.1 1540.2,465.7 1541.1,465.0 1542.0,459.5 1543.0,463.2 1543.9,462.0 1544.8,460.8 1545.8,461.7 1546.7,464.9 1547.6,462.5 1548.6,464.4 1549.5,459.7 1550.4,462.1 1551.4,463.6 1552.3,463.0 1553.2,461.2 1554.2,464.2 1555.1,459.9 1556.0,460.8 1557.0,463.4 1557.9,459.5 1558.8,461.5 1559.8,464.8 1560.7,462.0 1561.7,465.5 1562.6,461.5 1563.5,464.4 1564.5,462.9 1565.4,461.2 1566.3,462.1 1567.3,462.2 1568.2,463.8 1569.1,460.5 1570.1,459.4 1571.0,458.6 1571.9,461.9 1572.9,463.7 1573.8,459.7 1574.7,461.7 1575.7,460.0 1576.6,462.1 1577.5,462.4 1578.5,462.1 1579.4,463.1 1580.3,463.0 1581.3,461.6 1582.2,462.6 1583.1,462.7 1584.1,461.7 1585.0,461.4 1585.9,463.8 1586.9,463.9 1587.8,464.1 1588.7,459.8 1589.7,461.9 1590.6,461.6 1591.5,463.6 1592.5,459.0 1593.4,460.7 1594.3,462.4 1595.3,460.0 1596.2,461.5 1597.1,461.8 1598.1,461.6 1599.0,463.2 1599.9,462.7 1600.9,461.4 1601.8,462.1 1602.7,460.3 1603.7,459.8 1604.6,461.2 1605.5,461.0 1606.5,463.9 1607.4,461.7 1608.4,461.0 1609.3,461.1 1610.2,462.3 1611.2,464.2 1612.1,460.4 1613.0,459.7 1614.0,462.4 1614.9,460.0 1615.8,461.8 1616.8,464.5 1617.7,463.8 1618.6,462.0 1619.6,461.7 1620.5,462.1 1621.4,463.1 1622.4,463.4 1623.3,462.6 1624.2,462.3 1625.2,460.6 1626.1,461.7 1627.0,459.6 1628.0,462.0 1628.9,461.4 1629.8,459.6 1630.8,462.2 1631.7,462.2 1632.6,461.1 1633.6,460.6 1634.5,461.0 1635.4,461.6 1636.4,459.4 1637.3,463.0 1638.2,461.5 1639.2,459.8 1640.1,464.2 1641.0,462.9 1642.0,463.7 1642.9,462.0 1643.8,462.1 1644.8,464.3 1645.7,461.6 1646.6,463.0 1647.6,465.1 1648.5,460.1 1649.4,460.9 1650.4,461.7 1651.3,460.2 1652.2,462.5 1653.2,460.9 1654.1,462.5 1655.1,461.3 1656.0,464.1 1656.9,462.2 1657.9,460.7 1658.8,458.9 1659.7,465.1 1660.7,459.6 1661.6,464.4 1662.5,461.2 1663.5,460.7 1664.4,463.4 1665.3,460.8 1666.3,462.4 1667.2,460.8 1668.1,461.6 1669.1,460.6 1670.0,462.6 1670.9,459.9 1671.9,461.2 1672.8,463.3 1673.7,462.1 1674.7,461.5 1675.6,459.7 1676.5,461.4 1677.5,463.8 1678.4,460.5 1679.3,460.0 1680.3,460.5 1681.2,462.5 1682.1,463.3 1683.1,461.5 1684.0,461.9 1684.9,461.3 1685.9,461.9 1686.8,460.5 1687.7,464.0 1688.7,458.2 1689.6,459.2 1690.5,464.5 1691.5,464.1 1692.4,461.6 1693.3,462.3 1694.3,458.6 1695.2,464.0 1696.1,462.1 1697.1,462.6 1698.0,462.7 1698.9,460.8 1699.9,459.8 1700.8,462.9 1701.8,461.9 1702.7,465.3 1703.6,460.7 1704.6,462.3 1705.5,461.0 1706.4,461.8 1707.4,462.7 1708.3,463.5 1709.2,460.4 1710.2,464.4 1711.1,462.0 1712.0,463.5 1713.0,462.6 1713.9,461.7 1714.8,464.1 1715.8,463.5 1716.7,463.2 1717.6,460.8 1718.6,460.3 1719.5,460.0 1720.4,460.7 1721.4,465.7 1722.3,461.4 1723.2,461.2 1724.2,459.9 1725.1,462.3 1726.0,463.7 1727.0,462.0 1727.9,461.3 1728.8,462.6 1729.8,463.4 1730.7,458.6 1731.6,461.8 1732.6,465.4 1733.5,462.6 1734.4,461.9 1735.4,459.8 1736.3,462.3 1737.2,463.6 1738.2,464.0 1739.1,460.2 1740.0,460.5 1741.0,461.9 1741.9,462.3 1742.8,463.9 1743.8,465.7 1744.7,465.5 1745.6,460.7 1746.6,462.6 1747.5,461.7 1748.5,462.3 1749.4,464.6 1750.3,463.7 1751.3,464.0 1752.2,461.1 1753.1,463.7 1754.1,463.3 1755.0,460.2 1755.9,461.5 1756.9,463.8 1757.8,462.0 1758.7,463.0 1759.7,459.7 1760.6,462.2 1761.5,462.0 1762.5,461.0 1763.4,461.6 1764.3,464.4 1765.3,463.3 1766.2,461.2 1767.1,461.9 1768.1,464.6 1769.0,462.2 1769.9,463.3 1770.9,467.6 1771.8,464.7 1772.7,464.4 1773.7,464.0 1774.6,461.6 1775.5,460.7 1776.5,463.6 1777.4,461.0 1778.3,461.5 1779.3,463.7 1780.2,463.4 1781.1,461.0 1782.1,461.4 1783.0,463.7 1783.9,461.9 1784.9,462.6 1785.8,461.1 1786.7,462.0 1787.7,462.2 1788.6,462.5 1789.5,462.3 1790.5,460.5 1791.4,460.9 1792.3,463.2 1793.3,459.9 1794.2,460.7 1795.2,462.9 1796.1,463.7 1797.0,461.7 1798.0,463.4 1798.9,459.0 1799.8,460.5 1800.8,464.3 1801.7,462.4 1802.6,461.6 1803.6,462.8 1804.5,464.0 1805.4,462.0 1806.4,461.1 1807.3,460.0 1808.2,462.5 1809.2,463.7 1810.1,464.2 1811.0,463.5 1812.0,463.1 1812.9,461.0 1813.8,461.5 1814.8,462.7 1815.7,462.4 1816.6,463.5 1817.6,458.6 1818.5,464.9 1819.4,462.5 1820.4,461.2 1821.3,461.8 1822.2,462.8 1823.2,462.5 1824.1,462.9 1825.0,462.3 1826.0,463.4 1826.9,464.5 1827.8,463.8 1828.8,463.6 1829.7,461.8 1830.6,460.7 1831.6,463.5 1832.5,461.3 1833.4,461.8 1834.4,463.6 1835.3,462.1 1836.2,462.8 1837.2,464.1 1838.1,463.8 1839.0,464.4 1840.0,461.4 1840.9,460.3 1841.9,463.4 1842.8,464.3 1843.7,462.2 1844.7,461.1 1845.6,465.0 1846.5,463.2 1847.5,465.1 1848.4,466.2 1849.3,463.7 1850.3,464.1 1851.2,460.7 1852.1,460.6 1853.1,464.2 1854.0,458.1 1854.9,465.6 1855.9,462.5 1856.8,462.1 1857.7,462.5 1858.7,461.3 1859.6,463.5 1860.5,462.6 1861.5,463.9 1862.4,465.1 1863.3,461.8 1864.3,464.7 1865.2,458.2 1866.1,464.0 1867.1,461.1 1868.0,464.0 1868.9,464.0 1869.9,465.1 1870.8,462.6 1871.7,462.9 1872.7,463.1 1873.6,462.7 1874.5,463.3 1875.5,463.0 1876.4,459.9 1877.3,460.6 1878.3,461.2 1879.2,461.7 1880.1,463.8 1881.1,465.2 1882.0,462.4 1882.9,463.7 1883.9,462.8 1884.8,462.4 1885.7,465.1 1886.7,464.5 1887.6,461.5 1888.6,461.3 1889.5,461.7 1890.4,462.3 1891.4,462.6 1892.3,463.4 1893.2,462.0 1894.2,462.5 1895.1,459.9 1896.0,463.6 1897.0,465.1 1897.9,464.0 1898.8,461.6 1899.8,463.5 1900.7,462.7 1901.6,461.8 1902.6,462.9 1903.5,462.4 1904.4,460.6 1905.4,463.0 1906.3,460.8 1907.2,463.7 1908.2,464.3 1909.1,464.4 1910.0,462.8 1911.0,463.1 1911.9,463.1 1912.8,463.4 1913.8,462.5 1914.7,460.7 1915.6,463.0 1916.6,461.9 1917.5,464.8 1918.4,463.5 1919.4,465.4 1920.3,459.8 1921.2,461.7 1922.2,464.4 1923.1,461.7 1924.0,463.0 1925.0,464.2 1925.9,460.3 1926.8,464.4 1927.8,464.8 1928.7,464.7 1929.6,461.6 1930.6,462.3 1931.5,464.5 1932.4,459.5 1933.4,463.8 1934.3,462.8 1935.3,464.9 1936.2,462.4 1937.1,462.5 1938.1,464.1 1939.0,464.8 1939.9,464.9 1940.9,462.7 1941.8,463.4 1942.7,462.4 1943.7,463.6 1944.6,463.0 1945.5,461.4 1946.5,462.6 1947.4,461.4 1948.3,461.2 1949.3,462.6 1950.2,462.3 1951.1,463.2 1952.1,460.5 1953.0,462.5 1953.9,465.3 1954.9,461.8 1955.8,463.7 1956.7,461.5 1957.7,461.6 1958.6,461.1 1959.5,462.6 1960.5,462.8 1961.4,461.8 1962.3,461.3 1963.3,461.7 1964.2,462.8 1965.1,460.3 1966.1,462.0 1967.0,462.9 1967.9,463.4 1968.9,461.0 1969.8,464.2 1970.7,462.4 1971.7,462.9 1972.6,463.2 1973.5,465.2 1974.5,461.7 1975.4,462.2 1976.3,461.7 1977.3,462.2 1978.2,463.2 1979.1,464.6 1980.1,465.5 1981.0,460.5 1982.0,464.2 1982.9,461.9 1983.8,462.7 1984.8,464.1 1985.7,461.8 1986.6,464.7 1987.6,462.5 1988.5,463.0 1989.4,463.4 1990.4,464.4 1991.3,463.7 1992.2,464.2 1993.2,462.3 1994.1,461.7 1995.0,464.2 1996.0,464.0 1996.9,461.6 1997.8,461.6 1998.8,465.5 1999.7,461.5 2000.6,462.0 2001.6,462.1 2002.5,461.0"/><path stroke="#000080" d="M135.38 449.8V463.0M138.00 452.1V464.3M141.50 441.9V460.4M145.00 454.0V464.7M148.50 452.5V462.7M152.00 452.3V465.9M155.50 448.4V461.3M159.00 449.1V465.3M162.50 447.1V463.9M166.00 445.7V467.4M169.50 449.7V465.9M173.00 445.3V464.9M176.50 451.7V464.6M180.00 451.3V464.9M183.50 446.8V470.1M187.00 453.8V464.8M190.50 450.1V468.4M194.00 449.8V468.0M197.50 451.8V470.3M201.00 451.7V466.6M204.50 450.4V466.1M208.00 448.5V464.5M211.50 454.6V466.7M215.00 453.2V465.9M218.50 448.5V463.7M222.00 450.3V462.0M225.50 454.4V468.1M229.00 454.6V467.2M232.50 452.2V470.5M236.00 453.6V470.1M239.50 453.9V472.5M243.00 457.3V468.5M246.50 453.6V471.7M250.00 460.0V475.0M253.50 458.2V468.4M257.00 453.0V474.5M260.50 454.0V474.4M264.00 458.6V469.6M267.50 456.7V472.0M271.00 454.4V469.9M274.50 456.2V473.5M278.00 459.8V473.3M281.50 459.7V470.2M285.00 454.8V476.8M288.50 453.7V468.6M292.00 456.4V471.0M295.50 458.0V472.0M299.00 451.0V471.0M302.50 455.4V471.1M306.00 454.2V469.7M309.50 461.1V473.9M313.00 452.2V470.5M316.50 455.4V470.6M320.00 454.1V471.8M323.50 458.6V470.4M327.00 457.2V477.2M330.50 458.7V467.3M334.00 454.1V467.0M337.50 457.3V465.7M341.00 459.0V474.4M344.50 457.4V469.3M348.00 456.7V471.1M351.50 444.6V468.2M355.00 455.5V473.5M358.50 458.4V471.6M362.00 458.4V469.8M365.50 456.3V471.0M369.00 461.8V470.2M372.50 454.7V471.2M376.00 451.9V470.3M379.50 455.9V474.1M383.00 449.4V469.2M386.50 459.9V467.1M390.00 459.6V468.5M393.50 456.1V470.1M397.00 451.6V471.8M400.50 458.8V473.0M404.00 454.6V468.5M407.50 454.4V471.4M411.00 458.2V474.6M414.50 452.9V470.4M418.00 454.2V469.7M421.50 453.1V463.8M425.00 451.8V466.9M428.50 448.0V466.6M432.00 450.9V465.9M435.50 452.3V464.3M439.00 451.4V468.4M442.50 447.1V462.3M446.00 441.8V454.7M449.50 446.6V457.4M453.00 444.6V458.7M456.50 437.2V456.7M460.00 438.6V454.6M463.50 439.8V457.3M467.00 439.5V453.9M470.50 439.5V455.2M474.00 437.3V449.9M477.50 438.1V449.2M481.00 437.0V445.7M484.50 434.5V445.2M488.00 426.7V441.8M491.50 426.7V441.7M495.00 425.4V442.2M498.50 425.4V439.9M502.00 421.2V439.5M505.50 421.0V431.7M509.00 420.1V433.5M512.50 417.0V435.4M537.00 403.0V418.5M540.50 398.4V417.6M544.00 399.2V419.0M547.50 404.4V419.6M551.00 411.3V420.1M554.50 403.1V420.9M558.00 412.3V424.9M561.50 409.9V428.0M565.00 410.6V425.9M568.50 414.8V426.9M572.00 411.3V428.2M575.50 413.7V433.0M579.00 421.6V432.8M582.50 420.6V433.3M586.00 421.4V433.1M589.50 421.8V436.5M593.00 429.6V445.2M596.50 432.6V442.1M600.00 431.8V443.4M603.50 434.5V446.6M607.00 434.6V449.1M610.50 436.3V450.7M614.00 437.7V448.2M617.50 439.2V451.4M621.00 440.4V453.6M624.50 443.3V453.5M628.00 440.0V456.0M631.50 445.9V457.3M635.00 444.1V459.9M638.50 445.0V458.9M642.00 445.2V462.9M645.50 451.1V462.8M649.00 451.6V463.1M652.50 449.1V459.8M656.00 452.2V463.8M659.50 454.0V465.2M663.00 453.5V464.1M666.50 452.6V461.4M670.00 451.0V466.8M673.50 452.3V465.0M677.00 455.0V470.0M680.50 454.0V466.5M684.00 455.8V467.3M687.50 453.7V465.9M691.00 453.3V467.3M694.50 456.2V466.3M698.00 455.5V467.0M701.50 458.5V470.4M705.00 455.9V468.7M708.50 456.8V470.4M712.00 455.1V471.0M715.50 456.3V469.2M719.00 452.7V467.6M722.50 458.8V468.6M726.00 456.8V473.6M729.50 457.5V472.3M733.00 456.8V471.1M736.50 455.9V469.0M740.00 456.3V465.3M743.50 457.1V467.6M747.00 455.5V468.1M750.50 455.8V467.5M754.00 455.0V469.0M757.50 455.5V467.8M761.00 456.9V468.1M764.50 456.7V464.6M768.00 457.5V465.8M771.50 457.9V469.1M775.00 459.1V469.4M778.50 457.2V470.8M782.00 457.4V468.2M785.50 455.9V466.0M789.00 457.4V466.8M792.50 457.9V468.4M796.00 458.2V469.9M799.50 455.4V468.9M803.00 455.5V467.7M806.50 457.8V468.6M810.00 452.8V468.9M813.50 457.3V471.0M817.00 454.6V468.2M820.50 456.8V467.0M824.00 456.5V465.8M827.50 453.5V468.3M831.00 452.6V466.7M834.50 457.2V467.3M838.00 455.0V466.5M841.50 456.8V468.5M845.00 455.5V469.5M848.50 455.2V466.1M852.00 457.2V465.1M855.50 455.0V466.3M859.00 456.0V466.8M862.50 457.0V467.4M866.00 455.2V466.7M869.50 455.4V466.1M873.00 459.2V466.8M876.50 455.9V467.3M880.00 456.5V468.1M883.50 456.5V466.8M887.00 456.3V467.0M890.50 457.3V467.9M894.00 455.8V467.8M897.50 458.1V467.7M901.00 456.0V465.7M904.50 458.2V467.3M908.00 458.9V468.3M911.50 457.8V467.1M915.00 458.0V466.2M918.50 457.6V466.3M922.00 458.5V468.1M925.50 458.4V468.1M929.00 455.1V464.9M932.50 456.5V468.3M936.00 458.6V466.4M939.50 459.0V466.3M943.00 457.3V466.6M946.50 456.3V465.2M950.00 456.8V466.2M953.50 457.2V467.4M957.00 455.4V464.4M960.50 457.3V465.7M964.00 456.6V464.3M967.50 456.6V468.2M971.00 457.0V465.6M974.50 456.8V465.6M978.00 456.3V465.9M981.50 457.3V466.0M985.00 455.3V467.0M988.50 456.0V465.7M992.00 454.7V467.0M995.50 456.8V466.2M999.00 456.4V466.8M1002.50 457.0V465.5M1006.00 457.7V467.6M1009.50 456.8V465.7M1013.00 457.0V465.4M1016.50 457.2V466.8M1020.00 457.6V465.8M1023.50 457.0V465.8M1027.00 457.4V467.0M1030.50 457.2V468.0M1034.00 456.1V466.5M1037.50 456.0V465.4M1041.00 456.3V468.0M1044.50 455.6V465.7M1048.00 457.5V466.8M1051.50 458.2V467.1M1055.00 457.7V465.8M1058.50 457.1V466.3M1062.00 457.0V465.1M1065.50 456.9V468.0M1069.00 457.6V466.0M1072.50 455.9V468.3M1076.00 455.8V467.6M1079.50 458.5V467.0M1083.00 456.4V467.9M1086.50 456.9V465.3M1090.00 455.9V465.5M1093.50 457.1V466.1M1097.00 457.8V466.2M1100.50 457.7V466.6M1104.00 457.4V466.0M1107.50 457.6V467.2M1111.00 456.6V465.4M1114.50 456.5V468.0M1118.00 457.5V466.0M1121.50 457.7V465.5M1125.00 456.8V465.1M1128.50 456.3V464.4M1132.00 458.0V465.9M1135.50 456.2V466.0M1139.00 457.1V464.7M1142.50 456.7V465.8M1146.00 457.0V465.8M1149.50 456.9V466.6M1153.00 456.7V467.0M1156.50 458.4V466.7M1160.00 456.0V464.9M1163.50 457.5V466.1M1167.00 457.5V465.6M1170.50 455.2V468.1M1174.00 455.6V467.3M1177.50 455.7V465.8M1181.00 457.3V466.7M1184.50 456.4V466.3M1188.00 456.9V466.1M1191.50 457.2V467.2M1195.00 455.1V468.7M1198.50 457.1V465.4M1202.00 456.1V465.4M1205.50 454.8V465.8M1209.00 455.5V466.1M1212.50 456.2V464.9M1216.00 455.8V464.2M1219.50 456.1V464.8M1223.00 455.9V466.0M1226.50 457.0V465.6M1230.00 456.0V465.3M1233.50 455.7V466.0M1237.00 457.3V464.9M1240.50 455.8V465.5M1244.00 456.8V466.0M1247.50 457.0V464.8M1251.00 457.8V464.9M1254.50 458.6V466.9M1258.00 457.3V465.3M1261.50 457.1V466.3M1265.00 457.7V466.4M1268.50 456.7V468.2M1272.00 456.8V468.8M1275.50 458.6V465.7M1279.00 458.0V465.0M1282.50 457.3V467.4M1286.00 457.3V467.4M1289.50 456.2V466.4M1293.00 457.8V465.7M1296.50 456.6V466.6M1300.00 456.6V465.6M1303.50 455.6V466.2M1307.00 456.7V466.4M1310.50 458.4V466.2M1314.00 454.2V466.0M1317.50 456.9V468.7M1321.00 459.7V467.8M1324.50 455.7V467.0M1328.00 455.6V467.4M1331.50 456.5V467.0M1335.00 458.0V467.4M1338.50 456.4V467.8M1342.00 457.7V465.7M1345.50 457.4V466.5M1349.00 454.9V466.8M1352.50 457.9V467.1M1356.00 457.7V464.5M1359.50 457.3V468.1M1363.00 456.5V465.6M1366.50 456.0V468.1M1370.00 456.8V467.6M1373.50 458.3V466.6M1377.00 457.8V466.2M1380.50 456.9V467.1M1384.00 456.8V464.7M1387.50 457.4V466.8M1391.00 458.1V468.4M1394.50 458.0V468.2M1398.00 456.1V466.8M1401.50 456.2V466.5M1405.00 456.8V465.6M1408.50 456.7V465.7M1412.00 457.5V465.8M1415.50 456.5V465.6M1419.00 458.1V466.3M1422.50 456.5V465.5M1426.00 457.8V466.5M1429.50 458.5V467.4M1433.00 458.7V465.5M1436.50 457.4V467.0M1440.00 457.4V468.1M1443.50 458.7V466.7M1447.00 456.1V464.9M1450.50 456.6V466.4M1454.00 457.8V466.6M1457.50 457.2V466.2M1461.00 457.9V465.8M1464.50 456.5V464.6M1468.00 456.8V465.7M1471.50 456.9V466.8M1475.00 457.5V466.5M1478.50 457.5V466.3M1482.00 456.1V466.5M1485.50 454.8V465.9M1489.00 458.7V467.6M1492.50 458.9V467.0M1496.00 457.6V467.3M1499.50 456.4V467.3M1503.00 457.2V465.6M1506.50 457.6V469.3M1510.00 457.8V466.5M1513.50 458.5V466.0M1517.00 458.3V467.3M1520.50 456.4V467.0M1524.00 456.4V466.8M1527.50 457.7V465.8M1531.00 458.0V466.6M1534.50 456.2V466.5M1538.00 457.8V468.0M1541.50 456.5V468.7M1545.00 457.8V467.9M1548.50 456.7V467.8M1552.00 458.2V466.6M1555.50 456.9V467.2M1559.00 456.5V467.8M1562.50 458.5V468.5M1566.00 458.2V466.2M1569.50 455.6V466.8M1573.00 456.6V466.7M1576.50 457.0V465.4M1580.00 458.6V466.1M1583.50 458.4V465.7M1587.00 456.8V467.1M1590.50 456.8V466.6M1594.00 456.0V465.4M1597.50 457.8V466.2M1601.00 457.3V466.1M1604.50 456.8V466.2M1608.00 458.0V466.9M1611.50 456.7V467.2M1615.00 457.0V467.4M1618.50 458.7V467.5M1622.00 459.0V466.4M1625.50 456.6V465.5M1629.00 456.6V465.2M1632.50 457.6V465.2M1636.00 456.4V466.0M1639.50 456.8V467.2M1643.00 459.0V467.2M1646.50 458.5V468.1M1650.00 457.1V464.7M1653.50 457.9V465.5M1657.00 456.0V467.1M1660.50 455.9V468.1M1664.00 457.7V466.4M1667.50 457.6V465.4M1671.00 456.9V466.2M1674.50 456.7V466.3M1678.00 457.0V466.8M1681.50 457.2V466.3M1685.00 457.6V464.9M1688.50 455.2V467.0M1692.00 457.7V467.5M1695.50 455.6V467.0M1699.00 456.8V465.7M1702.50 457.7V468.3M1706.00 458.0V466.1M1709.50 457.4V467.4M1713.00 458.7V466.9M1716.50 457.5V467.1M1720.00 457.0V468.7M1723.50 456.9V467.0M1727.00 458.3V466.7M1730.50 455.6V467.1M1734.00 456.8V468.4M1737.50 457.2V467.0M1741.00 457.3V466.8M1744.50 457.7V468.7M1748.00 458.7V467.6M1751.50 458.1V467.2M1755.00 457.2V466.7M1758.50 456.7V466.8M1762.00 458.0V465.6M1765.50 458.2V467.4M1769.00 459.2V470.0M1772.50 459.5V470.6M1776.00 457.7V466.6M1779.50 458.0V466.7M1783.00 458.1V466.7M1786.50 458.1V465.6M1790.00 457.5V465.5M1793.50 456.9V466.2M1797.00 456.6V466.7M1800.50 456.0V467.3M1804.00 458.6V467.0M1807.50 457.0V466.7M1811.00 458.4V467.2M1814.50 458.0V466.1M1818.00 455.6V467.9M1821.50 458.2V465.8M1825.00 459.3V467.3M1828.50 458.1V467.5M1832.00 457.7V466.5M1835.50 459.1V467.1M1839.00 457.5V467.4M1842.50 457.3V467.3M1846.00 458.1V468.5M1849.50 457.7V469.2M1853.00 455.1V467.2M1856.50 458.8V468.6M1860.00 458.3V467.3M1863.50 455.2V468.1M1867.00 455.5V467.0M1870.50 459.6V468.1M1874.00 459.1V466.3M1877.50 456.9V465.1M1881.00 458.8V468.2M1884.50 459.4V468.1M1888.00 458.3V467.8M1891.50 458.9V466.4M1895.00 456.9V467.8M1898.50 458.6V468.1M1902.00 458.8V466.1M1905.50 457.6V466.7M1909.00 459.8V467.4M1912.50 458.6V466.4M1916.00 457.7V467.8M1919.50 456.8V468.4M1923.00 458.7V467.4M1926.50 457.3V467.8M1930.00 458.6V467.7M1933.50 456.5V467.9M1937.00 459.4V467.9M1940.50 459.7V467.9M1944.00 458.4V466.6M1947.50 458.2V465.6M1951.00 457.5V466.2M1954.50 458.8V468.3M1958.00 458.1V465.6M1961.50 458.3V465.8M1965.00 457.3V465.8M1968.50 458.0V467.2M1972.00 459.4V468.2M1975.50 458.7V467.4M1979.00 458.9V468.5M1982.50 457.5V467.2M1986.00 458.8V467.7M1989.50 459.6V467.4M1993.00 458.7V467.2M1996.50 458.6V467.2M2000.00 458.5V468.5M2002.38 458.0V464.9"/></g><rect x="134.5" y="35.3" width="1868.5" height="1392.2" fill="none" stroke="#000" stroke-width="3.2"/><line x1="601.6" y1="1427.5" x2="601.6" y2="1399" stroke="#000" stroke-width="3"/><line x1="1068.8" y1="1427.5" x2="1068.8" y2="1399" stroke="#000" stroke-width="3"/><line x1="1535.9" y1="1427.5" x2="1535.9" y2="1399" stroke="#000" stroke-width="3"/><line x1="539.7" y1="339.8" x2="539.7" y2="366.3" stroke="#000" stroke-width="3.6"/><polygon points="530.2,364.3 549.2,364.3 539.7,400" fill="#000"/><line x1="833.6" y1="369" x2="833.6" y2="395" stroke="#000" stroke-width="3.6"/><polygon points="824.1,393 843.1,393 833.6,429.6" fill="#000"/><line x1="1781.8" y1="369" x2="1781.8" y2="395" stroke="#000" stroke-width="3.6"/><polygon points="1772.3,393 1791.3,393 1781.8,429.6" fill="#000"/><g style="font-family:'Liberation Sans',Arial,sans-serif;font-kerning:none;font-size:86px" fill="#000"><text x="134.5" y="1522" text-anchor="middle">30</text><text x="601.6" y="1522" text-anchor="middle">40</text><text x="1068.8" y="1522" text-anchor="middle">50</text><text x="1535.9" y="1522" text-anchor="middle">60</text><text x="2003.0" y="1522" text-anchor="middle">70</text><text transform="translate(1067.7,1631) scale(0.985,1)" text-anchor="middle">2θ (degree)</text><text transform="translate(84,714.0) rotate(-90) scale(0.986,1)" text-anchor="middle">Intensity (a.u.)</text><g transform="translate(572.4,336.5) rotate(-90)"><text>Al(111)</text><rect x="110.57" y="-8.2" width="16.08" height="10" fill="#fff"/><rect x="134.42" y="-8.2" width="15.20" height="10" fill="#fff"/><rect x="158.39" y="-8.2" width="16.08" height="10" fill="#fff"/><rect x="182.25" y="-8.2" width="15.20" height="10" fill="#fff"/><rect x="206.22" y="-8.2" width="16.08" height="10" fill="#fff"/><rect x="230.08" y="-8.2" width="15.20" height="10" fill="#fff"/></g><text transform="translate(856.8,345.4) rotate(-90)">Al(200)</text><text transform="translate(1805.7,354.6) rotate(-90)">Al(220)</text><text transform="translate(1160.6,338) scale(0.982,1)">Mo at.%</text><g transform="translate(1208.6,441.3)"><text>10.5</text><rect x="5.46" y="-8.2" width="16.08" height="10" fill="#fff"/><rect x="29.31" y="-8.2" width="15.20" height="10" fill="#fff"/></g><text x="1230.4" y="615.4">7.8</text><text x="1231.4" y="784.8">5.3</text><g transform="translate(1235.4,963.5)"><text>2.1</text><rect x="77.18" y="-8.2" width="16.08" height="10" fill="#fff"/><rect x="101.03" y="-8.2" width="15.20" height="10" fill="#fff"/></g><text x="1231.4" y="1136.8">0.9</text><text x="1265.4" y="1297.2">0</text></g></g></svg>
</body></html>
